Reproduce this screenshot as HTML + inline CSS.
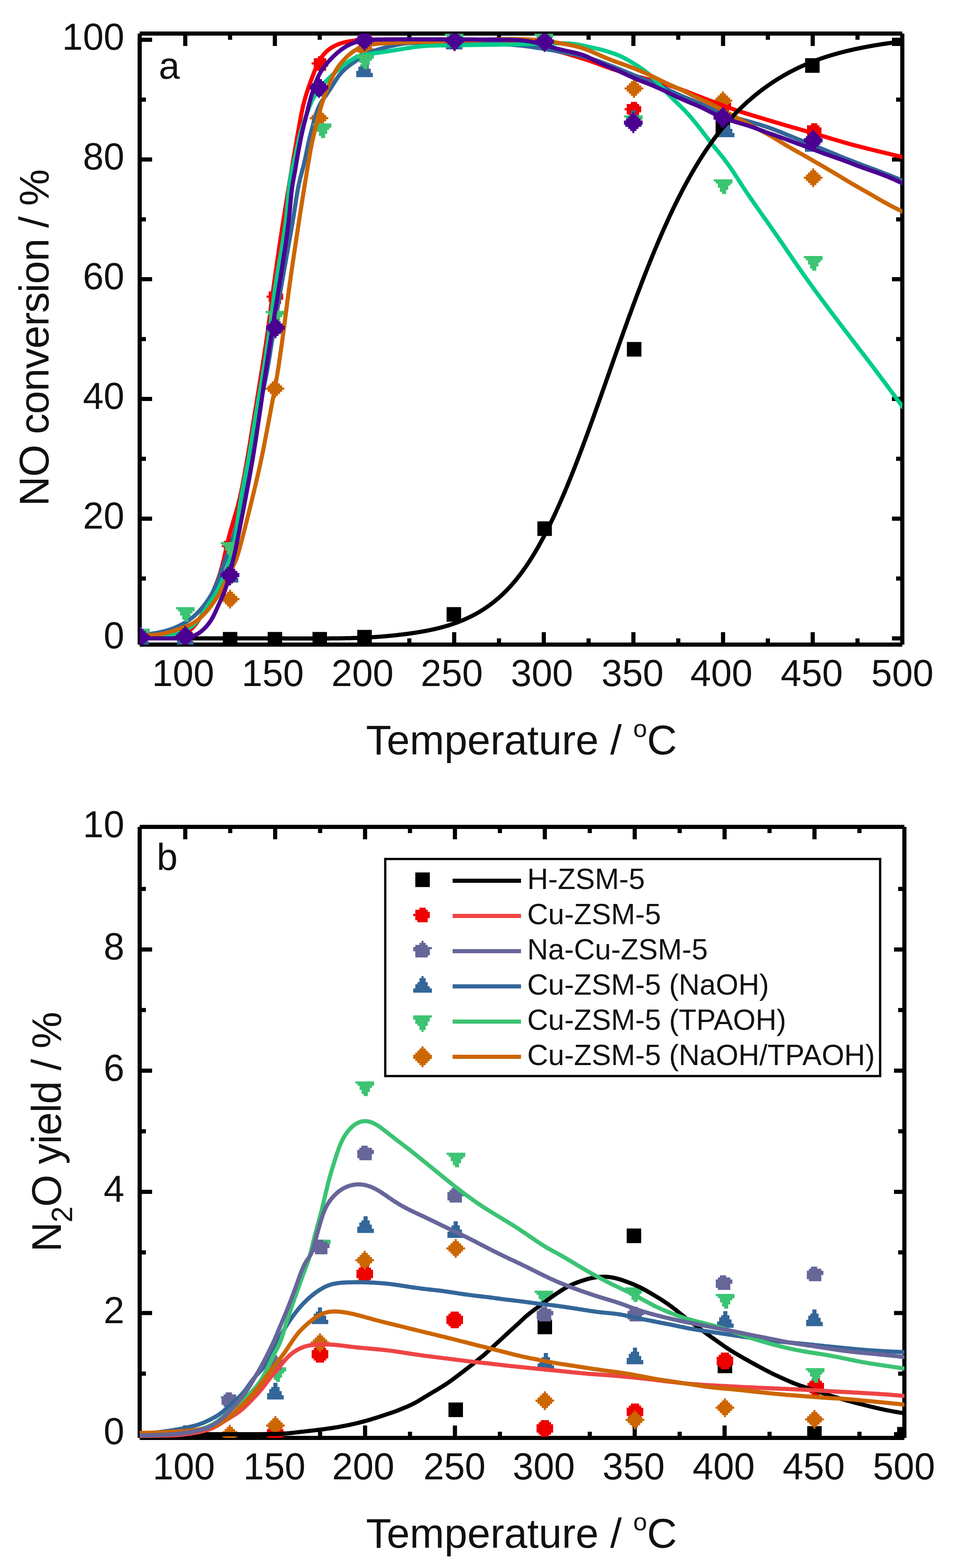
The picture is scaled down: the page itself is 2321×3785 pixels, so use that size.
<!DOCTYPE html>
<html><head><meta charset="utf-8"><style>
html,body{margin:0;padding:0;background:#fff;}
svg{display:block;}
text{font-family:'Liberation Sans', Arial, sans-serif;fill:#111;}
</style></head><body>
<svg xmlns="http://www.w3.org/2000/svg" width="2321" height="3785" viewBox="0 0 2321 3785">
<rect width="2321" height="3785" fill="#fff"/>
<rect x="332.0" y="81.0" width="10.0" height="1475.0" fill="#000"/>
<rect x="337.0" y="76.0" width="1840.0" height="10.0" fill="#000"/>
<rect x="2172.0" y="81.0" width="10.0" height="1475.0" fill="#000"/>
<rect x="337.0" y="1551.0" width="1840.0" height="10.0" fill="#000"/>
<rect x="342.0" y="1536.0" width="25.0" height="10.0" fill="#000"/>
<rect x="2152.0" y="1536.0" width="20.0" height="10.0" fill="#000"/>
<rect x="342.0" y="1391.5" width="10.0" height="10.0" fill="#000"/>
<rect x="2162.0" y="1391.5" width="10.0" height="10.0" fill="#000"/>
<rect x="342.0" y="1247.0" width="25.0" height="10.0" fill="#000"/>
<rect x="2152.0" y="1247.0" width="20.0" height="10.0" fill="#000"/>
<rect x="342.0" y="1102.5" width="10.0" height="10.0" fill="#000"/>
<rect x="2162.0" y="1102.5" width="10.0" height="10.0" fill="#000"/>
<rect x="342.0" y="958.0" width="25.0" height="10.0" fill="#000"/>
<rect x="2152.0" y="958.0" width="20.0" height="10.0" fill="#000"/>
<rect x="342.0" y="813.5" width="10.0" height="10.0" fill="#000"/>
<rect x="2162.0" y="813.5" width="10.0" height="10.0" fill="#000"/>
<rect x="342.0" y="669.0" width="25.0" height="10.0" fill="#000"/>
<rect x="2152.0" y="669.0" width="20.0" height="10.0" fill="#000"/>
<rect x="342.0" y="524.5" width="10.0" height="10.0" fill="#000"/>
<rect x="2162.0" y="524.5" width="10.0" height="10.0" fill="#000"/>
<rect x="342.0" y="380.0" width="25.0" height="10.0" fill="#000"/>
<rect x="2152.0" y="380.0" width="20.0" height="10.0" fill="#000"/>
<rect x="342.0" y="235.5" width="10.0" height="10.0" fill="#000"/>
<rect x="2162.0" y="235.5" width="10.0" height="10.0" fill="#000"/>
<rect x="342.0" y="91.0" width="25.0" height="10.0" fill="#000"/>
<rect x="2152.0" y="91.0" width="20.0" height="10.0" fill="#000"/>
<rect x="442.0" y="1526.0" width="10.0" height="25.0" fill="#000"/>
<rect x="442.0" y="86.0" width="10.0" height="25.0" fill="#000"/>
<rect x="550.1" y="1541.0" width="10.0" height="10.0" fill="#000"/>
<rect x="550.1" y="86.0" width="10.0" height="10.0" fill="#000"/>
<rect x="658.2" y="1526.0" width="10.0" height="25.0" fill="#000"/>
<rect x="658.2" y="86.0" width="10.0" height="25.0" fill="#000"/>
<rect x="766.4" y="1541.0" width="10.0" height="10.0" fill="#000"/>
<rect x="766.4" y="86.0" width="10.0" height="10.0" fill="#000"/>
<rect x="874.5" y="1526.0" width="10.0" height="25.0" fill="#000"/>
<rect x="874.5" y="86.0" width="10.0" height="25.0" fill="#000"/>
<rect x="982.6" y="1541.0" width="10.0" height="10.0" fill="#000"/>
<rect x="982.6" y="86.0" width="10.0" height="10.0" fill="#000"/>
<rect x="1090.8" y="1526.0" width="10.0" height="25.0" fill="#000"/>
<rect x="1090.8" y="86.0" width="10.0" height="25.0" fill="#000"/>
<rect x="1198.9" y="1541.0" width="10.0" height="10.0" fill="#000"/>
<rect x="1198.9" y="86.0" width="10.0" height="10.0" fill="#000"/>
<rect x="1307.0" y="1526.0" width="10.0" height="25.0" fill="#000"/>
<rect x="1307.0" y="86.0" width="10.0" height="25.0" fill="#000"/>
<rect x="1415.1" y="1541.0" width="10.0" height="10.0" fill="#000"/>
<rect x="1415.1" y="86.0" width="10.0" height="10.0" fill="#000"/>
<rect x="1523.2" y="1526.0" width="10.0" height="25.0" fill="#000"/>
<rect x="1523.2" y="86.0" width="10.0" height="25.0" fill="#000"/>
<rect x="1631.4" y="1541.0" width="10.0" height="10.0" fill="#000"/>
<rect x="1631.4" y="86.0" width="10.0" height="10.0" fill="#000"/>
<rect x="1739.5" y="1526.0" width="10.0" height="25.0" fill="#000"/>
<rect x="1739.5" y="86.0" width="10.0" height="25.0" fill="#000"/>
<rect x="1847.6" y="1541.0" width="10.0" height="10.0" fill="#000"/>
<rect x="1847.6" y="86.0" width="10.0" height="10.0" fill="#000"/>
<rect x="1955.8" y="1526.0" width="10.0" height="25.0" fill="#000"/>
<rect x="1955.8" y="86.0" width="10.0" height="25.0" fill="#000"/>
<rect x="2063.9" y="1541.0" width="10.0" height="10.0" fill="#000"/>
<rect x="2063.9" y="86.0" width="10.0" height="10.0" fill="#000"/>
<text x="300.0" y="1565.0" font-size="90" text-anchor="end" >0</text>
<text x="300.0" y="1276.0" font-size="90" text-anchor="end" >20</text>
<text x="300.0" y="987.0" font-size="90" text-anchor="end" >40</text>
<text x="300.0" y="698.0" font-size="90" text-anchor="end" >60</text>
<text x="300.0" y="409.0" font-size="90" text-anchor="end" >80</text>
<text x="300.0" y="120.0" font-size="90" text-anchor="end" >100</text>
<text x="441.8" y="1656.0" font-size="90" text-anchor="middle" >100</text>
<text x="658.1" y="1656.0" font-size="90" text-anchor="middle" >150</text>
<text x="874.6" y="1656.0" font-size="90" text-anchor="middle" >200</text>
<text x="1090.1" y="1656.0" font-size="90" text-anchor="middle" >250</text>
<text x="1307.5" y="1656.0" font-size="90" text-anchor="middle" >300</text>
<text x="1526.0" y="1656.0" font-size="90" text-anchor="middle" >350</text>
<text x="1740.6" y="1656.0" font-size="90" text-anchor="middle" >400</text>
<text x="1958.6" y="1656.0" font-size="90" text-anchor="middle" >450</text>
<text x="2177.2" y="1656.0" font-size="90" text-anchor="middle" >500</text>
<text x="383.0" y="190.0" font-size="91" text-anchor="start" >a</text>
<rect x="332.0" y="1996.0" width="10.0" height="1475.0" fill="#000"/>
<rect x="337.0" y="1991.0" width="1845.0" height="10.0" fill="#000"/>
<rect x="2177.0" y="1996.0" width="10.0" height="1475.0" fill="#000"/>
<rect x="337.0" y="3466.0" width="1845.0" height="10.0" fill="#000"/>
<rect x="342.0" y="3457.0" width="25.0" height="10.0" fill="#000"/>
<rect x="2157.0" y="3457.0" width="20.0" height="10.0" fill="#000"/>
<rect x="342.0" y="3310.8" width="10.0" height="10.0" fill="#000"/>
<rect x="2167.0" y="3310.8" width="10.0" height="10.0" fill="#000"/>
<rect x="342.0" y="3164.5" width="25.0" height="10.0" fill="#000"/>
<rect x="2157.0" y="3164.5" width="20.0" height="10.0" fill="#000"/>
<rect x="342.0" y="3018.2" width="10.0" height="10.0" fill="#000"/>
<rect x="2167.0" y="3018.2" width="10.0" height="10.0" fill="#000"/>
<rect x="342.0" y="2872.0" width="25.0" height="10.0" fill="#000"/>
<rect x="2157.0" y="2872.0" width="20.0" height="10.0" fill="#000"/>
<rect x="342.0" y="2725.8" width="10.0" height="10.0" fill="#000"/>
<rect x="2167.0" y="2725.8" width="10.0" height="10.0" fill="#000"/>
<rect x="342.0" y="2579.5" width="25.0" height="10.0" fill="#000"/>
<rect x="2157.0" y="2579.5" width="20.0" height="10.0" fill="#000"/>
<rect x="342.0" y="2433.2" width="10.0" height="10.0" fill="#000"/>
<rect x="2167.0" y="2433.2" width="10.0" height="10.0" fill="#000"/>
<rect x="342.0" y="2287.0" width="25.0" height="10.0" fill="#000"/>
<rect x="2157.0" y="2287.0" width="20.0" height="10.0" fill="#000"/>
<rect x="342.0" y="2140.8" width="10.0" height="10.0" fill="#000"/>
<rect x="2167.0" y="2140.8" width="10.0" height="10.0" fill="#000"/>
<rect x="442.0" y="3441.0" width="10.0" height="25.0" fill="#000"/>
<rect x="442.0" y="2001.0" width="10.0" height="25.0" fill="#000"/>
<rect x="550.4" y="3456.0" width="10.0" height="10.0" fill="#000"/>
<rect x="550.4" y="2001.0" width="10.0" height="10.0" fill="#000"/>
<rect x="658.9" y="3441.0" width="10.0" height="25.0" fill="#000"/>
<rect x="658.9" y="2001.0" width="10.0" height="25.0" fill="#000"/>
<rect x="767.3" y="3456.0" width="10.0" height="10.0" fill="#000"/>
<rect x="767.3" y="2001.0" width="10.0" height="10.0" fill="#000"/>
<rect x="875.8" y="3441.0" width="10.0" height="25.0" fill="#000"/>
<rect x="875.8" y="2001.0" width="10.0" height="25.0" fill="#000"/>
<rect x="984.2" y="3456.0" width="10.0" height="10.0" fill="#000"/>
<rect x="984.2" y="2001.0" width="10.0" height="10.0" fill="#000"/>
<rect x="1092.6" y="3441.0" width="10.0" height="25.0" fill="#000"/>
<rect x="1092.6" y="2001.0" width="10.0" height="25.0" fill="#000"/>
<rect x="1201.1" y="3456.0" width="10.0" height="10.0" fill="#000"/>
<rect x="1201.1" y="2001.0" width="10.0" height="10.0" fill="#000"/>
<rect x="1309.5" y="3441.0" width="10.0" height="25.0" fill="#000"/>
<rect x="1309.5" y="2001.0" width="10.0" height="25.0" fill="#000"/>
<rect x="1417.9" y="3456.0" width="10.0" height="10.0" fill="#000"/>
<rect x="1417.9" y="2001.0" width="10.0" height="10.0" fill="#000"/>
<rect x="1526.4" y="3441.0" width="10.0" height="25.0" fill="#000"/>
<rect x="1526.4" y="2001.0" width="10.0" height="25.0" fill="#000"/>
<rect x="1634.8" y="3456.0" width="10.0" height="10.0" fill="#000"/>
<rect x="1634.8" y="2001.0" width="10.0" height="10.0" fill="#000"/>
<rect x="1743.2" y="3441.0" width="10.0" height="25.0" fill="#000"/>
<rect x="1743.2" y="2001.0" width="10.0" height="25.0" fill="#000"/>
<rect x="1851.7" y="3456.0" width="10.0" height="10.0" fill="#000"/>
<rect x="1851.7" y="2001.0" width="10.0" height="10.0" fill="#000"/>
<rect x="1960.1" y="3441.0" width="10.0" height="25.0" fill="#000"/>
<rect x="1960.1" y="2001.0" width="10.0" height="25.0" fill="#000"/>
<rect x="2068.6" y="3456.0" width="10.0" height="10.0" fill="#000"/>
<rect x="2068.6" y="2001.0" width="10.0" height="10.0" fill="#000"/>
<text x="300.0" y="3486.0" font-size="90" text-anchor="end" >0</text>
<text x="300.0" y="3193.5" font-size="90" text-anchor="end" >2</text>
<text x="300.0" y="2901.0" font-size="90" text-anchor="end" >4</text>
<text x="300.0" y="2608.5" font-size="90" text-anchor="end" >6</text>
<text x="300.0" y="2316.0" font-size="90" text-anchor="end" >8</text>
<text x="300.0" y="2021.0" font-size="90" text-anchor="end" >10</text>
<text x="443.5" y="3571.0" font-size="90" text-anchor="middle" >100</text>
<text x="662.1" y="3571.0" font-size="90" text-anchor="middle" >150</text>
<text x="876.4" y="3571.0" font-size="90" text-anchor="middle" >200</text>
<text x="1096.6" y="3571.0" font-size="90" text-anchor="middle" >250</text>
<text x="1312.0" y="3571.0" font-size="90" text-anchor="middle" >300</text>
<text x="1528.7" y="3571.0" font-size="90" text-anchor="middle" >350</text>
<text x="1746.1" y="3571.0" font-size="90" text-anchor="middle" >400</text>
<text x="1963.3" y="3571.0" font-size="90" text-anchor="middle" >450</text>
<text x="2180.9" y="3571.0" font-size="90" text-anchor="middle" >500</text>
<text x="378.0" y="2100.0" font-size="91" text-anchor="start" >b</text>
<text x="883" y="1821" font-size="100" text-anchor="start">Temperature / <tspan dy="-42" font-size="60">o</tspan><tspan dy="42">C</tspan></text>
<text x="883" y="3736" font-size="100" text-anchor="start">Temperature / <tspan dy="-42" font-size="60">o</tspan><tspan dy="42">C</tspan></text>
<text transform="translate(117,1222) rotate(-90)" x="0" y="0" font-size="100" text-anchor="start" textLength="814" lengthAdjust="spacing">NO conversion / %</text>
<text transform="translate(147,3022) rotate(-90)" x="0" y="0" font-size="100" text-anchor="start" textLength="580" lengthAdjust="spacing">N<tspan dy="27" font-size="70">2</tspan><tspan dy="-27">O yield / %</tspan></text>
<defs><clipPath id="ca"><rect x="337" y="81" width="1840" height="1475"/></clipPath><clipPath id="cb"><rect x="337" y="1996" width="1845" height="1475"/></clipPath></defs>
<g clip-path="url(#ca)">
<path d="M321.4 1525.5h35.0v5.3h-35.0zM321.4 1530.5h35.0v5.3h-35.0zM321.4 1535.5h35.0v5.3h-35.0zM321.4 1540.5h35.0v5.3h-35.0zM321.4 1545.5h35.0v5.3h-35.0zM321.4 1550.5h35.0v5.3h-35.0zM321.4 1555.5h35.0v5.3h-35.0z" fill="#000"/>
<path d="M429.5 1525.5h35.0v5.3h-35.0zM429.5 1530.5h35.0v5.3h-35.0zM429.5 1535.5h35.0v5.3h-35.0zM429.5 1540.5h35.0v5.3h-35.0zM429.5 1545.5h35.0v5.3h-35.0zM429.5 1550.5h35.0v5.3h-35.0zM429.5 1555.5h35.0v5.3h-35.0z" fill="#000"/>
<path d="M537.6 1525.5h35.0v5.3h-35.0zM537.6 1530.5h35.0v5.3h-35.0zM537.6 1535.5h35.0v5.3h-35.0zM537.6 1540.5h35.0v5.3h-35.0zM537.6 1545.5h35.0v5.3h-35.0zM537.6 1550.5h35.0v5.3h-35.0zM537.6 1555.5h35.0v5.3h-35.0z" fill="#000"/>
<path d="M645.8 1525.5h35.0v5.3h-35.0zM645.8 1530.5h35.0v5.3h-35.0zM645.8 1535.5h35.0v5.3h-35.0zM645.8 1540.5h35.0v5.3h-35.0zM645.8 1545.5h35.0v5.3h-35.0zM645.8 1550.5h35.0v5.3h-35.0zM645.8 1555.5h35.0v5.3h-35.0z" fill="#000"/>
<path d="M753.9 1525.5h35.0v5.3h-35.0zM753.9 1530.5h35.0v5.3h-35.0zM753.9 1535.5h35.0v5.3h-35.0zM753.9 1540.5h35.0v5.3h-35.0zM753.9 1545.5h35.0v5.3h-35.0zM753.9 1550.5h35.0v5.3h-35.0zM753.9 1555.5h35.0v5.3h-35.0z" fill="#000"/>
<path d="M862.0 1520.5h35.0v5.3h-35.0zM862.0 1525.5h35.0v5.3h-35.0zM862.0 1530.5h35.0v5.3h-35.0zM862.0 1535.5h35.0v5.3h-35.0zM862.0 1540.5h35.0v5.3h-35.0zM862.0 1545.5h35.0v5.3h-35.0zM862.0 1550.5h35.0v5.3h-35.0z" fill="#000"/>
<path d="M1077.5 1465.5h35.0v5.3h-35.0zM1077.5 1470.5h35.0v5.3h-35.0zM1077.5 1475.5h35.0v5.3h-35.0zM1077.5 1480.5h35.0v5.3h-35.0zM1077.5 1485.5h35.0v5.3h-35.0zM1077.5 1490.5h35.0v5.3h-35.0zM1077.5 1495.5h35.0v5.3h-35.0z" fill="#000"/>
<path d="M1296.5 1258.5h35.0v5.3h-35.0zM1296.5 1263.5h35.0v5.3h-35.0zM1296.5 1268.5h35.0v5.3h-35.0zM1296.5 1273.5h35.0v5.3h-35.0zM1296.5 1278.5h35.0v5.3h-35.0zM1296.5 1283.5h35.0v5.3h-35.0zM1296.5 1288.5h35.0v5.3h-35.0z" fill="#000"/>
<path d="M1512.5 825.5h35.0v5.3h-35.0zM1512.5 830.5h35.0v5.3h-35.0zM1512.5 835.5h35.0v5.3h-35.0zM1512.5 840.5h35.0v5.3h-35.0zM1512.5 845.5h35.0v5.3h-35.0zM1512.5 850.5h35.0v5.3h-35.0zM1512.5 855.5h35.0v5.3h-35.0z" fill="#000"/>
<path d="M1726.5 288.5h35.0v5.3h-35.0zM1726.5 293.5h35.0v5.3h-35.0zM1726.5 298.5h35.0v5.3h-35.0zM1726.5 303.5h35.0v5.3h-35.0zM1726.5 308.5h35.0v5.3h-35.0zM1726.5 313.5h35.0v5.3h-35.0zM1726.5 318.5h35.0v5.3h-35.0z" fill="#000"/>
<path d="M1942.5 140.5h35.0v5.3h-35.0zM1942.5 145.5h35.0v5.3h-35.0zM1942.5 150.5h35.0v5.3h-35.0zM1942.5 155.5h35.0v5.3h-35.0zM1942.5 160.5h35.0v5.3h-35.0zM1942.5 165.5h35.0v5.3h-35.0zM1942.5 170.5h35.0v5.3h-35.0z" fill="#000"/>
</g>
<rect x="2152.0" y="91.0" width="20.0" height="20.0" fill="#000"/>
<g clip-path="url(#ca)">
<path d="M333.9 1520.5h15.0v5.3h-15.0zM323.9 1525.5h30.0v5.3h-30.0zM323.9 1530.5h35.0v5.3h-35.0zM318.9 1535.5h40.0v5.3h-40.0zM323.9 1540.5h35.0v5.3h-35.0zM323.9 1545.5h30.0v5.3h-30.0zM328.9 1550.5h25.0v5.3h-25.0z" fill="#ee0000"/>
<path d="M442.0 1518.5h15.0v5.3h-15.0zM432.0 1523.5h30.0v5.3h-30.0zM432.0 1528.5h35.0v5.3h-35.0zM427.0 1533.5h40.0v5.3h-40.0zM432.0 1538.5h35.0v5.3h-35.0zM432.0 1543.5h30.0v5.3h-30.0zM437.0 1548.5h25.0v5.3h-25.0z" fill="#ee0000"/>
<path d="M550.1 1300.5h15.0v5.3h-15.0zM540.1 1305.5h30.0v5.3h-30.0zM540.1 1310.5h35.0v5.3h-35.0zM535.1 1315.5h40.0v5.3h-40.0zM540.1 1320.5h35.0v5.3h-35.0zM540.1 1325.5h30.0v5.3h-30.0zM545.1 1330.5h25.0v5.3h-25.0z" fill="#ee0000"/>
<path d="M658.2 698.5h15.0v5.3h-15.0zM648.2 703.5h30.0v5.3h-30.0zM648.2 708.5h35.0v5.3h-35.0zM643.2 713.5h40.0v5.3h-40.0zM648.2 718.5h35.0v5.3h-35.0zM648.2 723.5h30.0v5.3h-30.0zM653.2 728.5h25.0v5.3h-25.0z" fill="#ee0000"/>
<path d="M767.0 135.5h15.0v5.3h-15.0zM757.0 140.5h30.0v5.3h-30.0zM757.0 145.5h35.0v5.3h-35.0zM752.0 150.5h40.0v5.3h-40.0zM757.0 155.5h35.0v5.3h-35.0zM757.0 160.5h30.0v5.3h-30.0zM762.0 165.5h25.0v5.3h-25.0z" fill="#ee0000"/>
<path d="M874.5 79.5h15.0v5.3h-15.0zM864.5 84.5h30.0v5.3h-30.0zM864.5 89.5h35.0v5.3h-35.0zM859.5 94.5h40.0v5.3h-40.0zM864.5 99.5h35.0v5.3h-35.0zM864.5 104.5h30.0v5.3h-30.0zM869.5 109.5h25.0v5.3h-25.0z" fill="#ee0000"/>
<path d="M1090.8 79.5h15.0v5.3h-15.0zM1080.8 84.5h30.0v5.3h-30.0zM1080.8 89.5h35.0v5.3h-35.0zM1075.8 94.5h40.0v5.3h-40.0zM1080.8 99.5h35.0v5.3h-35.0zM1080.8 104.5h30.0v5.3h-30.0zM1085.8 109.5h25.0v5.3h-25.0z" fill="#ee0000"/>
<path d="M1307.0 81.5h15.0v5.3h-15.0zM1297.0 86.5h30.0v5.3h-30.0zM1297.0 91.5h35.0v5.3h-35.0zM1292.0 96.5h40.0v5.3h-40.0zM1297.0 101.5h35.0v5.3h-35.0zM1297.0 106.5h30.0v5.3h-30.0zM1302.0 111.5h25.0v5.3h-25.0z" fill="#ee0000"/>
<path d="M1522.0 246.0h15.0v5.3h-15.0zM1512.0 251.0h30.0v5.3h-30.0zM1512.0 256.0h35.0v5.3h-35.0zM1507.0 261.0h40.0v5.3h-40.0zM1512.0 266.0h35.0v5.3h-35.0zM1512.0 271.0h30.0v5.3h-30.0zM1517.0 276.0h25.0v5.3h-25.0z" fill="#ee0000"/>
<path d="M1739.0 237.5h15.0v5.3h-15.0zM1729.0 242.5h30.0v5.3h-30.0zM1729.0 247.5h35.0v5.3h-35.0zM1724.0 252.5h40.0v5.3h-40.0zM1729.0 257.5h35.0v5.3h-35.0zM1729.0 262.5h30.0v5.3h-30.0zM1734.0 267.5h25.0v5.3h-25.0z" fill="#ee0000"/>
<path d="M1957.0 297.5h15.0v5.3h-15.0zM1947.0 302.5h30.0v5.3h-30.0zM1947.0 307.5h35.0v5.3h-35.0zM1942.0 312.5h40.0v5.3h-40.0zM1947.0 317.5h35.0v5.3h-35.0zM1947.0 322.5h30.0v5.3h-30.0zM1952.0 327.5h25.0v5.3h-25.0z" fill="#ee0000"/>
</g>
<g clip-path="url(#ca)">
<path d="M336.4 1518.5h5.0v5.3h-5.0zM331.4 1523.5h15.0v5.3h-15.0zM326.4 1528.5h25.0v5.3h-25.0zM321.4 1533.5h35.0v5.3h-35.0zM316.4 1538.5h45.0v5.3h-45.0zM321.4 1543.5h35.0v5.3h-35.0zM326.4 1548.5h25.0v5.3h-25.0zM331.4 1553.5h15.0v5.3h-15.0zM336.4 1558.5h5.0v5.3h-5.0z" fill="#cc6600"/>
<path d="M444.5 1518.5h5.0v5.3h-5.0zM439.5 1523.5h15.0v5.3h-15.0zM434.5 1528.5h25.0v5.3h-25.0zM429.5 1533.5h35.0v5.3h-35.0zM424.5 1538.5h45.0v5.3h-45.0zM429.5 1543.5h35.0v5.3h-35.0zM434.5 1548.5h25.0v5.3h-25.0zM439.5 1553.5h15.0v5.3h-15.0zM444.5 1558.5h5.0v5.3h-5.0z" fill="#cc6600"/>
<path d="M552.6 1423.5h5.0v5.3h-5.0zM547.6 1428.5h15.0v5.3h-15.0zM542.6 1433.5h25.0v5.3h-25.0zM537.6 1438.5h35.0v5.3h-35.0zM532.6 1443.5h45.0v5.3h-45.0zM537.6 1448.5h35.0v5.3h-35.0zM542.6 1453.5h25.0v5.3h-25.0zM547.6 1458.5h15.0v5.3h-15.0zM552.6 1463.5h5.0v5.3h-5.0z" fill="#cc6600"/>
<path d="M660.8 915.5h5.0v5.3h-5.0zM655.8 920.5h15.0v5.3h-15.0zM650.8 925.5h25.0v5.3h-25.0zM645.8 930.5h35.0v5.3h-35.0zM640.8 935.5h45.0v5.3h-45.0zM645.8 940.5h35.0v5.3h-35.0zM650.8 945.5h25.0v5.3h-25.0zM655.8 950.5h15.0v5.3h-15.0zM660.8 955.5h5.0v5.3h-5.0z" fill="#cc6600"/>
<path d="M767.0 262.5h5.0v5.3h-5.0zM762.0 267.5h15.0v5.3h-15.0zM757.0 272.5h25.0v5.3h-25.0zM752.0 277.5h35.0v5.3h-35.0zM747.0 282.5h45.0v5.3h-45.0zM752.0 287.5h35.0v5.3h-35.0zM757.0 292.5h25.0v5.3h-25.0zM762.0 297.5h15.0v5.3h-15.0zM767.0 302.5h5.0v5.3h-5.0z" fill="#cc6600"/>
<path d="M877.0 96.5h5.0v5.3h-5.0zM872.0 101.5h15.0v5.3h-15.0zM867.0 106.5h25.0v5.3h-25.0zM862.0 111.5h35.0v5.3h-35.0zM857.0 116.5h45.0v5.3h-45.0zM862.0 121.5h35.0v5.3h-35.0zM867.0 126.5h25.0v5.3h-25.0zM872.0 131.5h15.0v5.3h-15.0zM877.0 136.5h5.0v5.3h-5.0z" fill="#cc6600"/>
<path d="M1093.2 77.5h5.0v5.3h-5.0zM1088.2 82.5h15.0v5.3h-15.0zM1083.2 87.5h25.0v5.3h-25.0zM1078.2 92.5h35.0v5.3h-35.0zM1073.2 97.5h45.0v5.3h-45.0zM1078.2 102.5h35.0v5.3h-35.0zM1083.2 107.5h25.0v5.3h-25.0zM1088.2 112.5h15.0v5.3h-15.0zM1093.2 117.5h5.0v5.3h-5.0z" fill="#cc6600"/>
<path d="M1309.5 76.5h5.0v5.3h-5.0zM1304.5 81.5h15.0v5.3h-15.0zM1299.5 86.5h25.0v5.3h-25.0zM1294.5 91.5h35.0v5.3h-35.0zM1289.5 96.5h45.0v5.3h-45.0zM1294.5 101.5h35.0v5.3h-35.0zM1299.5 106.5h25.0v5.3h-25.0zM1304.5 111.5h15.0v5.3h-15.0zM1309.5 116.5h5.0v5.3h-5.0z" fill="#cc6600"/>
<path d="M1527.0 191.0h5.0v5.3h-5.0zM1522.0 196.0h15.0v5.3h-15.0zM1517.0 201.0h25.0v5.3h-25.0zM1512.0 206.0h35.0v5.3h-35.0zM1507.0 211.0h45.0v5.3h-45.0zM1512.0 216.0h35.0v5.3h-35.0zM1517.0 221.0h25.0v5.3h-25.0zM1522.0 226.0h15.0v5.3h-15.0zM1527.0 231.0h5.0v5.3h-5.0z" fill="#cc6600"/>
<path d="M1741.5 220.5h5.0v5.3h-5.0zM1736.5 225.5h15.0v5.3h-15.0zM1731.5 230.5h25.0v5.3h-25.0zM1726.5 235.5h35.0v5.3h-35.0zM1721.5 240.5h45.0v5.3h-45.0zM1726.5 245.5h35.0v5.3h-35.0zM1731.5 250.5h25.0v5.3h-25.0zM1736.5 255.5h15.0v5.3h-15.0zM1741.5 260.5h5.0v5.3h-5.0z" fill="#cc6600"/>
<path d="M1959.5 406.5h5.0v5.3h-5.0zM1954.5 411.5h15.0v5.3h-15.0zM1949.5 416.5h25.0v5.3h-25.0zM1944.5 421.5h35.0v5.3h-35.0zM1939.5 426.5h45.0v5.3h-45.0zM1944.5 431.5h35.0v5.3h-35.0zM1949.5 436.5h25.0v5.3h-25.0zM1954.5 441.5h15.0v5.3h-15.0zM1959.5 446.5h5.0v5.3h-5.0z" fill="#cc6600"/>
</g>
<path d="M337.0,1539.0 L341.0,1539.0 L345.0,1538.9 L349.0,1538.9 L353.0,1538.9 L357.0,1538.8 L361.0,1538.8 L365.0,1538.7 L369.0,1538.6 L373.0,1538.5 L377.0,1538.5 L381.0,1538.4 L385.0,1538.2 L389.1,1538.1 L393.1,1538.0 L397.0,1537.8 L401.0,1537.6 L405.0,1537.4 L409.0,1537.1 L413.0,1536.8 L416.9,1536.3 L420.9,1535.8 L424.8,1535.2 L428.7,1534.5 L432.5,1533.6 L436.2,1532.5 L439.9,1531.3 L443.5,1529.9 L447.0,1528.3 L450.4,1526.5 L453.7,1524.4 L456.9,1522.2 L459.9,1519.8 L462.8,1517.2 L465.6,1514.5 L468.2,1511.6 L470.7,1508.6 L473.2,1505.5 L475.5,1502.3 L477.7,1499.0 L479.9,1495.7 L482.0,1492.3 L484.1,1488.9 L486.1,1485.5 L488.1,1482.0 L490.1,1478.5 L492.0,1475.0 L494.0,1471.5 L495.9,1468.0 L497.7,1464.5 L499.5,1460.9 L501.3,1457.3 L503.1,1453.7 L504.8,1450.1 L506.4,1446.5 L508.1,1442.8 L509.6,1439.2 L511.2,1435.5 L512.7,1431.8 L514.2,1428.1 L515.7,1424.4 L517.2,1420.7 L518.7,1417.0 L520.2,1413.3 L521.7,1409.6 L523.2,1405.8 L524.6,1402.1 L526.0,1398.4 L527.4,1394.6 L528.7,1390.9 L529.9,1387.1 L531.1,1383.3 L532.3,1379.4 L533.4,1375.6 L534.5,1371.7 L535.5,1367.9 L536.5,1364.0 L537.5,1360.1 L538.5,1356.2 L539.4,1352.3 L540.4,1348.5 L541.3,1344.6 L542.2,1340.7 L543.1,1336.7 L543.9,1332.8 L544.8,1328.9 L545.6,1325.0 L546.5,1321.1 L547.4,1317.2 L548.3,1313.3 L549.2,1309.4 L550.1,1305.5 L551.0,1301.6 L552.0,1297.7 L553.0,1293.9 L554.0,1290.0 L555.1,1286.1 L556.1,1282.3 L557.2,1278.4 L558.3,1274.5 L559.4,1270.7 L560.5,1266.8 L561.6,1263.0 L562.7,1259.2 L563.9,1255.3 L565.0,1251.5 L566.1,1247.6 L567.3,1243.8 L568.4,1240.0 L569.6,1236.1 L570.7,1232.3 L571.8,1228.4 L572.8,1224.6 L573.9,1220.7 L574.9,1216.8 L575.9,1213.0 L576.9,1209.1 L577.8,1205.2 L578.8,1201.3 L579.7,1197.4 L580.5,1193.5 L581.4,1189.6 L582.2,1185.7 L583.0,1181.7 L583.8,1177.8 L584.6,1173.9 L585.4,1170.0 L586.1,1166.0 L586.9,1162.1 L587.6,1158.2 L588.3,1154.2 L589.1,1150.3 L589.8,1146.3 L590.5,1142.4 L591.2,1138.5 L591.9,1134.5 L592.6,1130.6 L593.3,1126.6 L594.0,1122.7 L594.7,1118.7 L595.4,1114.8 L596.1,1110.9 L596.8,1106.9 L597.5,1103.0 L598.2,1099.0 L598.8,1095.1 L599.5,1091.1 L600.2,1087.2 L600.9,1083.2 L601.5,1079.3 L602.2,1075.3 L602.8,1071.4 L603.5,1067.4 L604.1,1063.5 L604.8,1059.5 L605.4,1055.6 L606.0,1051.6 L606.7,1047.6 L607.3,1043.7 L607.9,1039.7 L608.6,1035.8 L609.2,1031.8 L609.8,1027.9 L610.5,1023.9 L611.1,1020.0 L611.7,1016.0 L612.4,1012.1 L613.0,1008.1 L613.7,1004.2 L614.3,1000.2 L615.0,996.2 L615.6,992.3 L616.3,988.3 L616.9,984.4 L617.6,980.4 L618.2,976.5 L618.9,972.5 L619.5,968.6 L620.2,964.6 L620.8,960.7 L621.5,956.7 L622.1,952.8 L622.8,948.8 L623.4,944.9 L624.1,940.9 L624.7,937.0 L625.3,933.0 L626.0,929.1 L626.6,925.1 L627.3,921.2 L627.9,917.2 L628.5,913.3 L629.2,909.3 L629.8,905.3 L630.4,901.4 L631.1,897.4 L631.7,893.5 L632.3,889.5 L633.0,885.6 L633.6,881.6 L634.2,877.7 L634.8,873.7 L635.5,869.7 L636.1,865.8 L636.7,861.8 L637.3,857.9 L637.9,853.9 L638.5,850.0 L639.2,846.0 L639.8,842.0 L640.4,838.1 L641.0,834.1 L641.6,830.2 L642.1,826.2 L642.7,822.2 L643.3,818.3 L643.9,814.3 L644.5,810.4 L645.0,806.4 L645.6,802.4 L646.1,798.5 L646.7,794.5 L647.2,790.5 L647.8,786.6 L648.3,782.6 L648.8,778.6 L649.4,774.6 L649.9,770.7 L650.4,766.7 L650.9,762.7 L651.4,758.8 L651.9,754.8 L652.4,750.8 L652.9,746.8 L653.4,742.9 L653.9,738.9 L654.5,734.9 L655.0,730.9 L655.5,727.0 L656.0,723.0 L656.5,719.0 L657.0,715.1 L657.6,711.1 L658.1,707.1 L658.6,703.2 L659.2,699.2 L659.7,695.2 L660.2,691.2 L660.8,687.3 L661.3,683.3 L661.9,679.3 L662.4,675.4 L663.0,671.4 L663.6,667.4 L664.1,663.5 L664.7,659.5 L665.2,655.6 L665.8,651.6 L666.4,647.6 L667.0,643.7 L667.5,639.7 L668.1,635.7 L668.7,631.8 L669.3,627.8 L669.8,623.8 L670.4,619.9 L671.0,615.9 L671.6,612.0 L672.2,608.0 L672.7,604.0 L673.3,600.1 L673.9,596.1 L674.5,592.1 L675.1,588.2 L675.7,584.2 L676.3,580.3 L676.9,576.3 L677.5,572.3 L678.1,568.4 L678.7,564.4 L679.3,560.5 L679.9,556.5 L680.5,552.6 L681.1,548.6 L681.7,544.6 L682.4,540.7 L683.0,536.7 L683.6,532.8 L684.2,528.8 L684.8,524.8 L685.4,520.9 L686.1,516.9 L686.7,513.0 L687.3,509.0 L687.9,505.1 L688.6,501.1 L689.2,497.2 L689.8,493.2 L690.5,489.3 L691.1,485.3 L691.8,481.3 L692.4,477.4 L693.0,473.4 L693.7,469.5 L694.3,465.5 L695.0,461.6 L695.6,457.6 L696.3,453.7 L696.9,449.7 L697.6,445.8 L698.2,441.8 L698.9,437.9 L699.5,433.9 L700.2,430.0 L700.9,426.0 L701.5,422.1 L702.2,418.1 L702.9,414.2 L703.5,410.2 L704.2,406.3 L704.8,402.3 L705.5,398.4 L706.2,394.4 L706.8,390.5 L707.5,386.5 L708.2,382.6 L708.8,378.6 L709.5,374.7 L710.2,370.7 L710.9,366.8 L711.5,362.8 L712.2,358.9 L712.9,354.9 L713.5,351.0 L714.2,347.0 L714.9,343.1 L715.6,339.1 L716.2,335.2 L716.9,331.3 L717.6,327.3 L718.3,323.4 L719.0,319.4 L719.7,315.5 L720.4,311.5 L721.1,307.6 L721.8,303.6 L722.5,299.7 L723.2,295.8 L723.9,291.8 L724.7,287.9 L725.4,284.0 L726.2,280.0 L726.9,276.1 L727.7,272.2 L728.5,268.2 L729.4,264.3 L730.2,260.4 L731.1,256.5 L732.0,252.6 L733.0,248.7 L734.0,244.9 L735.1,241.0 L736.1,237.2 L737.3,233.3 L738.4,229.5 L739.6,225.7 L740.8,221.8 L742.0,218.0 L743.3,214.2 L744.6,210.5 L745.9,206.7 L747.3,202.9 L748.6,199.1 L750.0,195.4 L751.4,191.6 L752.8,187.9 L754.2,184.1 L755.6,180.4 L757.0,176.6 L758.5,172.9 L759.9,169.2 L761.5,165.5 L763.0,161.8 L764.6,158.2 L766.3,154.6 L768.1,151.0 L770.0,147.6 L771.9,144.1 L774.0,140.8 L776.3,137.5 L778.6,134.4 L781.1,131.3 L783.7,128.4 L786.4,125.6 L789.3,122.9 L792.3,120.4 L795.4,118.0 L798.6,115.8 L801.9,113.7 L805.4,111.8 L808.9,110.0 L812.5,108.4 L816.1,106.9 L819.8,105.5 L823.6,104.3 L827.4,103.2 L831.2,102.2 L835.1,101.3 L839.0,100.5 L842.9,99.8 L846.8,99.1 L850.8,98.6 L854.8,98.1 L858.7,97.7 L862.7,97.3 L866.7,97.0 L870.7,96.8 L874.7,96.5 L878.7,96.3 L882.7,96.2 L886.7,96.1 L890.7,95.9 L894.7,95.8 L898.7,95.8 L902.7,95.7 L906.7,95.6 L910.7,95.6 L914.7,95.5 L918.7,95.5 L922.7,95.4 L926.7,95.4 L930.7,95.3 L934.7,95.3 L938.7,95.3 L942.7,95.2 L946.7,95.2 L950.7,95.2 L954.8,95.2 L958.8,95.1 L962.8,95.1 L966.8,95.1 L970.8,95.1 L974.8,95.1 L978.8,95.0 L982.8,95.0 L986.8,95.0 L990.8,95.0 L994.8,95.0 L998.8,95.0 L1002.8,95.0 L1006.8,95.0 L1010.8,95.0 L1014.8,95.0 L1018.8,95.0 L1022.8,95.0 L1026.8,95.0 L1030.8,95.1 L1034.9,95.1 L1038.9,95.1 L1042.9,95.1 L1046.9,95.1 L1050.9,95.1 L1054.9,95.2 L1058.9,95.2 L1062.9,95.2 L1066.9,95.2 L1070.9,95.3 L1074.9,95.3 L1078.9,95.3 L1082.9,95.3 L1086.9,95.4 L1090.9,95.4 L1094.9,95.4 L1098.9,95.5 L1102.9,95.5 L1106.9,95.6 L1110.9,95.6 L1114.9,95.7 L1119.0,95.7 L1123.0,95.7 L1127.0,95.8 L1131.0,95.8 L1135.0,95.9 L1139.0,96.0 L1143.0,96.0 L1147.0,96.1 L1151.0,96.1 L1155.0,96.2 L1159.0,96.3 L1163.0,96.3 L1167.0,96.4 L1171.0,96.5 L1175.0,96.5 L1179.0,96.6 L1183.0,96.7 L1187.0,96.8 L1191.0,96.9 L1195.0,97.1 L1199.0,97.2 L1203.0,97.4 L1207.0,97.6 L1211.0,97.8 L1215.0,98.0 L1219.0,98.3 L1223.0,98.6 L1227.0,99.0 L1231.0,99.3 L1235.0,99.7 L1238.9,100.2 L1242.9,100.7 L1246.9,101.2 L1250.8,101.7 L1254.8,102.2 L1258.8,102.8 L1262.7,103.5 L1266.7,104.1 L1270.6,104.8 L1274.5,105.6 L1278.4,106.3 L1282.4,107.2 L1286.3,108.1 L1290.1,109.0 L1294.0,110.0 L1297.9,111.0 L1301.7,112.1 L1305.6,113.1 L1309.4,114.2 L1313.3,115.3 L1317.1,116.4 L1321.0,117.4 L1324.9,118.5 L1328.7,119.5 L1332.6,120.5 L1336.5,121.5 L1340.4,122.5 L1344.3,123.4 L1348.1,124.4 L1352.0,125.4 L1355.9,126.4 L1359.7,127.5 L1363.6,128.5 L1367.5,129.6 L1371.3,130.7 L1375.1,131.9 L1379.0,133.1 L1382.8,134.2 L1386.6,135.4 L1390.4,136.6 L1394.2,137.8 L1398.1,139.0 L1401.9,140.2 L1405.7,141.4 L1409.5,142.6 L1413.3,143.8 L1417.1,145.0 L1420.9,146.3 L1424.7,147.6 L1428.5,148.9 L1432.3,150.3 L1436.0,151.6 L1439.8,153.0 L1443.6,154.4 L1447.3,155.7 L1451.1,157.1 L1454.8,158.5 L1458.6,159.9 L1462.4,161.2 L1466.1,162.5 L1469.9,163.9 L1473.7,165.2 L1477.5,166.5 L1481.3,167.8 L1485.1,169.0 L1488.9,170.3 L1492.7,171.5 L1496.5,172.7 L1500.3,173.9 L1504.2,175.1 L1508.0,176.3 L1511.8,177.5 L1515.7,178.6 L1519.5,179.8 L1523.3,180.9 L1527.2,182.0 L1531.0,183.1 L1534.9,184.1 L1538.8,185.2 L1542.6,186.2 L1546.5,187.2 L1550.4,188.2 L1554.3,189.2 L1558.2,190.2 L1562.0,191.2 L1565.9,192.1 L1569.8,193.1 L1573.7,194.1 L1577.6,195.1 L1581.4,196.1 L1585.3,197.2 L1589.2,198.2 L1593.0,199.3 L1596.9,200.4 L1600.7,201.6 L1604.5,202.7 L1608.3,203.9 L1612.2,205.1 L1616.0,206.4 L1619.7,207.7 L1623.5,209.0 L1627.3,210.3 L1631.1,211.7 L1634.8,213.0 L1638.6,214.4 L1642.4,215.8 L1646.1,217.2 L1649.9,218.6 L1653.6,220.0 L1657.3,221.5 L1661.1,222.9 L1664.8,224.4 L1668.5,225.8 L1672.3,227.3 L1676.0,228.7 L1679.7,230.2 L1683.5,231.6 L1687.2,233.1 L1690.9,234.5 L1694.7,235.9 L1698.4,237.4 L1702.2,238.8 L1705.9,240.2 L1709.6,241.6 L1713.4,243.1 L1717.1,244.5 L1720.9,245.9 L1724.6,247.3 L1728.4,248.7 L1732.1,250.1 L1735.9,251.5 L1739.6,252.9 L1743.4,254.3 L1747.1,255.7 L1750.9,257.1 L1754.7,258.5 L1758.4,259.9 L1762.2,261.2 L1766.0,262.6 L1769.7,263.9 L1773.5,265.2 L1777.3,266.5 L1781.1,267.8 L1784.9,269.1 L1788.7,270.3 L1792.5,271.5 L1796.3,272.8 L1800.1,273.9 L1804.0,275.1 L1807.8,276.3 L1811.6,277.4 L1815.5,278.6 L1819.3,279.7 L1823.2,280.9 L1827.0,282.0 L1830.8,283.1 L1834.7,284.3 L1838.5,285.4 L1842.3,286.6 L1846.2,287.7 L1850.0,288.9 L1853.8,290.1 L1857.7,291.2 L1861.5,292.4 L1865.3,293.5 L1869.2,294.7 L1873.0,295.9 L1876.8,297.0 L1880.7,298.1 L1884.5,299.3 L1888.4,300.4 L1892.2,301.5 L1896.1,302.7 L1899.9,303.8 L1903.8,304.9 L1907.6,306.0 L1911.5,307.1 L1915.3,308.2 L1919.2,309.3 L1923.0,310.4 L1926.9,311.4 L1930.7,312.5 L1934.6,313.6 L1938.4,314.7 L1942.3,315.9 L1946.1,317.0 L1950.0,318.1 L1953.8,319.2 L1957.6,320.3 L1961.5,321.5 L1965.3,322.6 L1969.2,323.7 L1973.0,324.9 L1976.9,326.0 L1980.7,327.2 L1984.5,328.3 L1988.4,329.4 L1992.2,330.6 L1996.0,331.7 L1999.9,332.9 L2003.7,334.0 L2007.5,335.2 L2011.4,336.3 L2015.2,337.5 L2019.1,338.6 L2022.9,339.8 L2026.7,340.9 L2030.6,342.0 L2034.4,343.1 L2038.3,344.3 L2042.1,345.4 L2046.0,346.4 L2049.8,347.5 L2053.7,348.6 L2057.6,349.6 L2061.4,350.7 L2065.3,351.7 L2069.2,352.7 L2073.1,353.7 L2076.9,354.7 L2080.8,355.7 L2084.7,356.7 L2088.6,357.7 L2092.5,358.6 L2096.4,359.6 L2100.2,360.5 L2104.1,361.5 L2108.0,362.5 L2111.9,363.4 L2115.8,364.4 L2119.7,365.3 L2123.6,366.2 L2127.5,367.2 L2131.4,368.1 L2135.3,369.1 L2139.2,370.0 L2143.1,370.9 L2146.9,371.9 L2150.8,372.8 L2154.7,373.8 L2158.6,374.7 L2162.5,375.7 L2166.4,376.6 L2170.3,377.6 L2174.2,378.6 L2178.1,379.5 L2180.0,380.0" fill="none" stroke="#ff0000" stroke-width="10" stroke-linejoin="round" clip-path="url(#ca)"/>
<path d="M337.0,1533.0 L341.0,1532.6 L345.0,1532.2 L348.9,1531.8 L352.9,1531.4 L356.9,1530.9 L360.9,1530.4 L364.8,1529.9 L368.8,1529.3 L372.7,1528.7 L376.7,1528.0 L380.6,1527.3 L384.5,1526.5 L388.4,1525.7 L392.3,1524.8 L396.2,1523.8 L400.0,1522.8 L403.9,1521.6 L407.7,1520.5 L411.4,1519.2 L415.2,1517.9 L418.9,1516.4 L422.6,1514.9 L426.3,1513.3 L429.9,1511.7 L433.4,1509.9 L437.0,1508.1 L440.5,1506.2 L443.9,1504.2 L447.4,1502.2 L450.7,1500.1 L454.0,1497.9 L457.3,1495.6 L460.5,1493.3 L463.7,1490.9 L466.7,1488.4 L469.8,1485.8 L472.7,1483.1 L475.6,1480.4 L478.4,1477.5 L481.1,1474.7 L483.8,1471.7 L486.4,1468.7 L489.0,1465.7 L491.5,1462.5 L493.9,1459.4 L496.3,1456.2 L498.6,1452.9 L500.9,1449.6 L503.1,1446.3 L505.3,1443.0 L507.4,1439.6 L509.4,1436.2 L511.4,1432.7 L513.3,1429.2 L515.2,1425.7 L516.9,1422.1 L518.7,1418.5 L520.3,1414.9 L521.9,1411.2 L523.4,1407.5 L524.9,1403.8 L526.4,1400.1 L527.8,1396.4 L529.2,1392.6 L530.5,1388.9 L531.8,1385.1 L533.1,1381.3 L534.4,1377.5 L535.7,1373.7 L537.0,1369.9 L538.3,1366.2 L539.7,1362.4 L541.0,1358.6 L542.4,1354.9 L543.8,1351.1 L545.2,1347.4 L546.6,1343.6 L548.0,1339.9 L549.4,1336.2 L550.9,1332.4 L552.2,1328.7 L553.6,1324.9 L554.9,1321.1 L556.2,1317.4 L557.5,1313.6 L558.7,1309.8 L559.9,1305.9 L561.1,1302.1 L562.2,1298.3 L563.4,1294.4 L564.5,1290.6 L565.6,1286.7 L566.6,1282.9 L567.7,1279.0 L568.8,1275.2 L569.8,1271.3 L570.8,1267.4 L571.9,1263.6 L572.9,1259.7 L573.9,1255.8 L574.9,1251.9 L575.9,1248.1 L576.8,1244.2 L577.8,1240.3 L578.7,1236.4 L579.7,1232.5 L580.6,1228.6 L581.5,1224.7 L582.4,1220.8 L583.3,1216.9 L584.2,1213.0 L585.1,1209.1 L585.9,1205.2 L586.8,1201.3 L587.6,1197.4 L588.5,1193.5 L589.3,1189.5 L590.1,1185.6 L590.9,1181.7 L591.7,1177.8 L592.4,1173.8 L593.2,1169.9 L594.0,1166.0 L594.7,1162.0 L595.5,1158.1 L596.2,1154.2 L597.0,1150.2 L597.7,1146.3 L598.4,1142.4 L599.1,1138.4 L599.9,1134.5 L600.6,1130.6 L601.3,1126.6 L602.0,1122.7 L602.7,1118.7 L603.4,1114.8 L604.1,1110.9 L604.8,1106.9 L605.5,1103.0 L606.1,1099.0 L606.8,1095.1 L607.5,1091.1 L608.1,1087.2 L608.8,1083.2 L609.4,1079.3 L610.0,1075.3 L610.7,1071.4 L611.3,1067.4 L611.9,1063.5 L612.6,1059.5 L613.2,1055.5 L613.8,1051.6 L614.4,1047.6 L615.1,1043.7 L615.7,1039.7 L616.3,1035.8 L617.0,1031.8 L617.6,1027.9 L618.3,1023.9 L619.0,1020.0 L619.6,1016.0 L620.3,1012.1 L621.0,1008.2 L621.8,1004.2 L622.5,1000.3 L623.2,996.3 L624.0,992.4 L624.8,988.5 L625.6,984.6 L626.4,980.6 L627.2,976.7 L628.0,972.8 L628.9,968.9 L629.7,965.0 L630.6,961.1 L631.4,957.2 L632.3,953.3 L633.2,949.3 L634.0,945.4 L634.9,941.5 L635.7,937.6 L636.6,933.7 L637.4,929.8 L638.3,925.9 L639.1,922.0 L639.9,918.0 L640.7,914.1 L641.5,910.2 L642.3,906.3 L643.0,902.3 L643.8,898.4 L644.5,894.5 L645.2,890.5 L645.9,886.6 L646.6,882.6 L647.3,878.7 L648.0,874.8 L648.6,870.8 L649.3,866.9 L649.9,862.9 L650.6,859.0 L651.2,855.0 L651.8,851.0 L652.5,847.1 L653.1,843.1 L653.7,839.2 L654.4,835.2 L655.0,831.3 L655.6,827.3 L656.3,823.4 L656.9,819.4 L657.5,815.5 L658.2,811.5 L658.8,807.6 L659.4,803.6 L660.1,799.7 L660.7,795.7 L661.4,791.8 L662.1,787.8 L662.7,783.9 L663.4,779.9 L664.0,776.0 L664.7,772.0 L665.4,768.1 L666.0,764.1 L666.7,760.2 L667.4,756.2 L668.0,752.3 L668.7,748.3 L669.4,744.4 L670.1,740.4 L670.7,736.5 L671.4,732.5 L672.1,728.6 L672.8,724.7 L673.4,720.7 L674.1,716.8 L674.8,712.8 L675.5,708.9 L676.2,704.9 L676.8,701.0 L677.5,697.0 L678.2,693.1 L678.9,689.1 L679.6,685.2 L680.3,681.3 L681.0,677.3 L681.7,673.4 L682.4,669.4 L683.1,665.5 L683.8,661.5 L684.5,657.6 L685.2,653.7 L685.9,649.7 L686.6,645.8 L687.3,641.8 L688.0,637.9 L688.7,634.0 L689.4,630.0 L690.1,626.1 L690.8,622.1 L691.5,618.2 L692.2,614.3 L692.9,610.3 L693.6,606.4 L694.3,602.4 L695.0,598.5 L695.7,594.5 L696.4,590.6 L697.1,586.7 L697.8,582.7 L698.5,578.8 L699.2,574.8 L699.9,570.9 L700.6,566.9 L701.3,563.0 L702.0,559.1 L702.7,555.1 L703.3,551.2 L704.0,547.2 L704.7,543.3 L705.4,539.3 L706.0,535.4 L706.7,531.4 L707.3,527.5 L708.0,523.5 L708.6,519.6 L709.2,515.6 L709.9,511.7 L710.5,507.7 L711.1,503.8 L711.7,499.8 L712.3,495.8 L712.9,491.9 L713.5,487.9 L714.1,484.0 L714.7,480.0 L715.4,476.1 L716.0,472.1 L716.7,468.2 L717.3,464.2 L718.0,460.3 L718.7,456.3 L719.5,452.4 L720.3,448.5 L721.1,444.6 L722.0,440.7 L722.9,436.8 L723.8,432.9 L724.8,429.0 L725.8,425.1 L726.8,421.3 L727.8,417.4 L728.8,413.5 L729.8,409.7 L730.8,405.8 L731.8,401.9 L732.8,398.0 L733.7,394.1 L734.6,390.2 L735.5,386.3 L736.3,382.4 L737.2,378.5 L738.0,374.6 L738.8,370.7 L739.6,366.7 L740.4,362.8 L741.2,358.9 L742.0,355.0 L742.8,351.1 L743.7,347.2 L744.5,343.2 L745.4,339.3 L746.3,335.5 L747.3,331.6 L748.2,327.7 L749.2,323.8 L750.3,320.0 L751.3,316.1 L752.3,312.2 L753.4,308.4 L754.4,304.5 L755.5,300.6 L756.5,296.8 L757.5,292.9 L758.6,289.1 L759.7,285.2 L760.8,281.4 L761.9,277.5 L763.1,273.7 L764.4,270.0 L765.7,266.3 L767.2,262.6 L768.8,259.0 L770.4,255.4 L772.3,251.9 L774.2,248.5 L776.2,245.1 L778.4,241.8 L780.6,238.5 L782.8,235.2 L785.1,231.9 L787.4,228.7 L789.7,225.4 L791.9,222.1 L794.2,218.8 L796.3,215.5 L798.5,212.1 L800.6,208.8 L802.8,205.4 L804.9,202.0 L807.0,198.6 L809.1,195.2 L811.3,191.9 L813.5,188.6 L815.8,185.3 L818.1,182.2 L820.6,179.1 L823.1,176.1 L825.8,173.2 L828.6,170.4 L831.4,167.6 L834.4,165.0 L837.4,162.5 L840.5,160.0 L843.7,157.6 L846.9,155.3 L850.2,152.9 L853.5,150.7 L856.8,148.4 L860.1,146.2 L863.4,144.0 L866.8,141.9 L870.2,139.7 L873.6,137.6 L877.0,135.6 L880.4,133.6 L883.9,131.6 L887.4,129.7 L891.0,127.9 L894.5,126.2 L898.2,124.7 L901.8,123.2 L905.6,121.8 L909.3,120.5 L913.1,119.3 L916.9,118.2 L920.8,117.1 L924.6,116.1 L928.5,115.1 L932.4,114.1 L936.2,113.1 L940.1,112.2 L944.0,111.2 L947.9,110.3 L951.8,109.4 L955.7,108.6 L959.6,107.7 L963.5,107.0 L967.4,106.3 L971.4,105.6 L975.3,105.1 L979.3,104.6 L983.2,104.2 L987.2,104.0 L991.2,103.7 L995.2,103.6 L999.2,103.5 L1003.1,103.5 L1007.1,103.5 L1011.1,103.6 L1015.1,103.7 L1019.1,103.7 L1023.1,103.8 L1027.1,103.9 L1031.1,104.1 L1035.1,104.2 L1039.2,104.3 L1043.2,104.4 L1047.2,104.5 L1051.2,104.6 L1055.2,104.6 L1059.2,104.7 L1063.2,104.8 L1067.2,104.8 L1071.2,104.8 L1075.2,104.8 L1079.2,104.8 L1083.2,104.8 L1087.2,104.7 L1091.2,104.7 L1095.2,104.6 L1099.2,104.5 L1103.2,104.4 L1107.2,104.4 L1111.2,104.3 L1115.2,104.2 L1119.2,104.1 L1123.2,104.0 L1127.2,103.9 L1131.2,103.9 L1135.2,103.8 L1139.2,103.8 L1143.2,103.7 L1147.2,103.7 L1151.2,103.8 L1155.2,103.8 L1159.2,103.9 L1163.2,104.0 L1167.2,104.1 L1171.2,104.2 L1175.2,104.4 L1179.2,104.5 L1183.2,104.7 L1187.2,104.9 L1191.2,105.1 L1195.2,105.4 L1199.2,105.6 L1203.2,105.8 L1207.2,106.1 L1211.2,106.3 L1215.2,106.6 L1219.2,106.9 L1223.2,107.2 L1227.2,107.5 L1231.2,107.8 L1235.2,108.1 L1239.1,108.4 L1243.1,108.8 L1247.1,109.2 L1251.1,109.5 L1255.1,109.9 L1259.1,110.4 L1263.0,110.8 L1267.0,111.3 L1271.0,111.8 L1275.0,112.3 L1278.9,112.9 L1282.9,113.4 L1286.8,114.0 L1290.8,114.6 L1294.8,115.2 L1298.7,115.7 L1302.7,116.4 L1306.6,117.0 L1310.6,117.6 L1314.5,118.2 L1318.5,118.9 L1322.4,119.5 L1326.4,120.2 L1330.3,120.9 L1334.3,121.6 L1338.2,122.3 L1342.1,123.0 L1346.1,123.7 L1350.0,124.5 L1354.0,125.2 L1357.9,125.9 L1361.8,126.6 L1365.8,127.4 L1369.7,128.1 L1373.6,128.9 L1377.6,129.6 L1381.5,130.4 L1385.4,131.2 L1389.3,132.0 L1393.2,132.9 L1397.1,133.8 L1401.0,134.7 L1404.9,135.7 L1408.8,136.7 L1412.6,137.7 L1416.5,138.8 L1420.3,139.9 L1424.2,141.1 L1428.0,142.2 L1431.8,143.5 L1435.6,144.7 L1439.4,146.0 L1443.2,147.3 L1446.9,148.6 L1450.7,150.0 L1454.5,151.4 L1458.2,152.8 L1462.0,154.2 L1465.7,155.6 L1469.4,157.0 L1473.2,158.5 L1476.9,160.0 L1480.6,161.4 L1484.3,162.9 L1488.0,164.4 L1491.7,165.9 L1495.5,167.4 L1499.2,168.9 L1502.9,170.5 L1506.6,172.0 L1510.3,173.5 L1514.0,175.1 L1517.7,176.6 L1521.4,178.1 L1525.0,179.7 L1528.7,181.2 L1532.4,182.8 L1536.1,184.3 L1539.8,185.9 L1543.5,187.4 L1547.2,188.9 L1550.9,190.5 L1554.6,192.0 L1558.3,193.5 L1562.0,195.0 L1565.7,196.5 L1569.5,198.0 L1573.2,199.5 L1576.9,201.0 L1580.6,202.5 L1584.2,204.1 L1587.9,205.7 L1591.6,207.3 L1595.3,208.9 L1598.9,210.5 L1602.5,212.2 L1606.2,213.9 L1609.8,215.6 L1613.4,217.3 L1617.0,219.0 L1620.6,220.7 L1624.3,222.4 L1627.9,224.1 L1631.5,225.8 L1635.2,227.5 L1638.8,229.1 L1642.5,230.8 L1646.1,232.4 L1649.8,233.9 L1653.5,235.5 L1657.2,237.0 L1660.9,238.5 L1664.6,240.0 L1668.3,241.5 L1672.0,243.0 L1675.7,244.5 L1679.4,246.1 L1683.1,247.6 L1686.8,249.1 L1690.5,250.7 L1694.2,252.3 L1697.8,253.9 L1701.5,255.5 L1705.1,257.2 L1708.8,258.9 L1712.4,260.6 L1716.0,262.3 L1719.6,264.0 L1723.3,265.7 L1726.9,267.4 L1730.5,269.0 L1734.2,270.6 L1737.8,272.2 L1741.5,273.7 L1745.2,275.2 L1749.0,276.6 L1752.7,277.9 L1756.5,279.2 L1760.3,280.4 L1764.1,281.6 L1768.0,282.7 L1771.8,283.8 L1775.7,284.8 L1779.5,285.9 L1783.4,286.9 L1787.3,287.9 L1791.1,289.0 L1795.0,290.0 L1798.9,291.1 L1802.7,292.1 L1806.6,293.2 L1810.4,294.3 L1814.3,295.4 L1818.1,296.5 L1822.0,297.6 L1825.8,298.7 L1829.7,299.8 L1833.5,301.0 L1837.3,302.2 L1841.1,303.4 L1844.9,304.7 L1848.7,305.9 L1852.5,307.2 L1856.3,308.5 L1860.1,309.9 L1863.8,311.3 L1867.6,312.7 L1871.3,314.1 L1875.0,315.6 L1878.7,317.0 L1882.5,318.5 L1886.2,320.0 L1889.9,321.5 L1893.6,323.1 L1897.3,324.6 L1901.0,326.1 L1904.7,327.6 L1908.4,329.2 L1912.1,330.7 L1915.8,332.2 L1919.5,333.7 L1923.2,335.2 L1926.9,336.7 L1930.6,338.2 L1934.4,339.7 L1938.1,341.2 L1941.8,342.7 L1945.5,344.2 L1949.2,345.7 L1952.9,347.1 L1956.7,348.6 L1960.4,350.1 L1964.1,351.6 L1967.8,353.1 L1971.5,354.6 L1975.2,356.1 L1978.9,357.6 L1982.7,359.1 L1986.4,360.6 L1990.1,362.1 L1993.8,363.6 L1997.5,365.1 L2001.2,366.6 L2004.9,368.1 L2008.6,369.7 L2012.3,371.2 L2016.0,372.7 L2019.7,374.2 L2023.4,375.8 L2027.1,377.3 L2030.8,378.8 L2034.5,380.3 L2038.2,381.8 L2042.0,383.3 L2045.7,384.8 L2049.4,386.2 L2053.1,387.7 L2056.9,389.2 L2060.6,390.6 L2064.3,392.1 L2068.1,393.5 L2071.8,394.9 L2075.5,396.3 L2079.3,397.8 L2083.0,399.2 L2086.8,400.6 L2090.5,402.0 L2094.3,403.4 L2098.0,404.8 L2101.8,406.2 L2105.5,407.6 L2109.3,409.0 L2113.0,410.4 L2116.8,411.8 L2120.5,413.3 L2124.2,414.7 L2128.0,416.1 L2131.7,417.6 L2135.4,419.1 L2139.2,420.5 L2142.9,422.0 L2146.6,423.5 L2150.3,425.0 L2154.0,426.4 L2157.8,427.9 L2161.5,429.4 L2165.2,430.9 L2168.9,432.5 L2172.6,434.0 L2176.3,435.5 L2180.0,437.0 L2180.0,437.0" fill="none" stroke="#336699" stroke-width="10" stroke-linejoin="round" clip-path="url(#ca)"/>
<g clip-path="url(#ca)">
<path d="M333.9 1518.0h10.0v5.3h-10.0zM333.9 1523.0h10.0v5.3h-10.0zM328.9 1528.0h20.0v5.3h-20.0zM323.9 1533.0h25.0v5.3h-25.0zM323.9 1538.0h30.0v5.3h-30.0zM318.9 1543.0h35.0v5.3h-35.0zM318.9 1548.0h40.0v5.3h-40.0zM318.9 1553.0h40.0v5.3h-40.0z" fill="#336699"/>
<path d="M442.0 1518.0h10.0v5.3h-10.0zM442.0 1523.0h10.0v5.3h-10.0zM437.0 1528.0h20.0v5.3h-20.0zM432.0 1533.0h25.0v5.3h-25.0zM432.0 1538.0h30.0v5.3h-30.0zM427.0 1543.0h35.0v5.3h-35.0zM427.0 1548.0h40.0v5.3h-40.0zM427.0 1553.0h40.0v5.3h-40.0z" fill="#336699"/>
<path d="M550.1 1366.0h10.0v5.3h-10.0zM550.1 1371.0h10.0v5.3h-10.0zM545.1 1376.0h20.0v5.3h-20.0zM540.1 1381.0h25.0v5.3h-25.0zM540.1 1386.0h30.0v5.3h-30.0zM535.1 1391.0h35.0v5.3h-35.0zM535.1 1396.0h40.0v5.3h-40.0zM535.1 1401.0h40.0v5.3h-40.0z" fill="#336699"/>
<path d="M658.2 765.0h10.0v5.3h-10.0zM658.2 770.0h10.0v5.3h-10.0zM653.2 775.0h20.0v5.3h-20.0zM648.2 780.0h25.0v5.3h-25.0zM648.2 785.0h30.0v5.3h-30.0zM643.2 790.0h35.0v5.3h-35.0zM643.2 795.0h40.0v5.3h-40.0zM643.2 800.0h40.0v5.3h-40.0z" fill="#336699"/>
<path d="M767.0 193.0h10.0v5.3h-10.0zM767.0 198.0h10.0v5.3h-10.0zM762.0 203.0h20.0v5.3h-20.0zM757.0 208.0h25.0v5.3h-25.0zM757.0 213.0h30.0v5.3h-30.0zM752.0 218.0h35.0v5.3h-35.0zM752.0 223.0h40.0v5.3h-40.0zM752.0 228.0h40.0v5.3h-40.0z" fill="#336699"/>
<path d="M874.5 146.0h10.0v5.3h-10.0zM874.5 151.0h10.0v5.3h-10.0zM869.5 156.0h20.0v5.3h-20.0zM864.5 161.0h25.0v5.3h-25.0zM864.5 166.0h30.0v5.3h-30.0zM859.5 171.0h35.0v5.3h-35.0zM859.5 176.0h40.0v5.3h-40.0zM859.5 181.0h40.0v5.3h-40.0z" fill="#336699"/>
<path d="M1090.8 79.0h10.0v5.3h-10.0zM1090.8 84.0h10.0v5.3h-10.0zM1085.8 89.0h20.0v5.3h-20.0zM1080.8 94.0h25.0v5.3h-25.0zM1080.8 99.0h30.0v5.3h-30.0zM1075.8 104.0h35.0v5.3h-35.0zM1075.8 109.0h40.0v5.3h-40.0zM1075.8 114.0h40.0v5.3h-40.0z" fill="#336699"/>
<path d="M1307.0 80.0h10.0v5.3h-10.0zM1307.0 85.0h10.0v5.3h-10.0zM1302.0 90.0h20.0v5.3h-20.0zM1297.0 95.0h25.0v5.3h-25.0zM1297.0 100.0h30.0v5.3h-30.0zM1292.0 105.0h35.0v5.3h-35.0zM1292.0 110.0h40.0v5.3h-40.0zM1292.0 115.0h40.0v5.3h-40.0z" fill="#336699"/>
<path d="M1523.0 266.0h10.0v5.3h-10.0zM1523.0 271.0h10.0v5.3h-10.0zM1518.0 276.0h20.0v5.3h-20.0zM1513.0 281.0h25.0v5.3h-25.0zM1513.0 286.0h30.0v5.3h-30.0zM1508.0 291.0h35.0v5.3h-35.0zM1508.0 296.0h40.0v5.3h-40.0zM1508.0 301.0h40.0v5.3h-40.0z" fill="#336699"/>
<path d="M1747.0 291.0h10.0v5.3h-10.0zM1747.0 296.0h10.0v5.3h-10.0zM1742.0 301.0h20.0v5.3h-20.0zM1737.0 306.0h25.0v5.3h-25.0zM1737.0 311.0h30.0v5.3h-30.0zM1732.0 316.0h35.0v5.3h-35.0zM1732.0 321.0h40.0v5.3h-40.0zM1732.0 326.0h40.0v5.3h-40.0z" fill="#336699"/>
<path d="M1957.0 326.0h10.0v5.3h-10.0zM1957.0 331.0h10.0v5.3h-10.0zM1952.0 336.0h20.0v5.3h-20.0zM1947.0 341.0h25.0v5.3h-25.0zM1947.0 346.0h30.0v5.3h-30.0zM1942.0 351.0h35.0v5.3h-35.0zM1942.0 356.0h40.0v5.3h-40.0zM1942.0 361.0h40.0v5.3h-40.0z" fill="#336699"/>
</g>
<path d="M337.0,1535.0 L341.0,1535.0 L345.0,1535.0 L349.0,1534.9 L353.0,1534.9 L357.0,1534.9 L361.0,1534.9 L365.0,1534.8 L369.0,1534.8 L373.0,1534.7 L377.0,1534.7 L381.0,1534.6 L385.0,1534.5 L389.0,1534.3 L393.0,1534.1 L396.9,1533.8 L400.9,1533.5 L404.8,1533.1 L408.8,1532.5 L412.6,1531.9 L416.5,1531.1 L420.4,1530.2 L424.2,1529.2 L428.0,1528.0 L431.7,1526.8 L435.5,1525.4 L439.2,1524.0 L442.8,1522.5 L446.4,1520.8 L450.0,1519.1 L453.5,1517.3 L456.9,1515.4 L460.2,1513.3 L463.4,1511.0 L466.5,1508.7 L469.4,1506.1 L472.2,1503.5 L474.9,1500.6 L477.5,1497.7 L479.9,1494.6 L482.3,1491.4 L484.5,1488.2 L486.7,1484.9 L488.9,1481.6 L491.1,1478.2 L493.2,1474.8 L495.3,1471.4 L497.5,1468.1 L499.6,1464.7 L501.8,1461.4 L504.0,1458.0 L506.2,1454.7 L508.4,1451.4 L510.7,1448.1 L512.9,1444.7 L515.0,1441.4 L517.1,1438.0 L519.2,1434.6 L521.2,1431.2 L523.2,1427.7 L525.1,1424.2 L527.0,1420.7 L528.8,1417.1 L530.5,1413.6 L532.2,1410.0 L533.9,1406.3 L535.6,1402.7 L537.2,1399.0 L538.7,1395.3 L540.2,1391.6 L541.7,1387.9 L543.2,1384.2 L544.5,1380.5 L545.9,1376.7 L547.2,1372.9 L548.5,1369.1 L549.8,1365.3 L551.0,1361.5 L552.2,1357.7 L553.3,1353.9 L554.5,1350.0 L555.6,1346.2 L556.7,1342.4 L557.7,1338.5 L558.8,1334.6 L559.9,1330.8 L560.9,1326.9 L561.9,1323.1 L562.8,1319.2 L563.8,1315.3 L564.7,1311.4 L565.5,1307.5 L566.3,1303.6 L567.1,1299.6 L567.8,1295.7 L568.4,1291.8 L569.1,1287.8 L569.7,1283.9 L570.3,1279.9 L570.9,1276.0 L571.4,1272.0 L572.0,1268.0 L572.5,1264.1 L573.0,1260.1 L573.6,1256.1 L574.1,1252.2 L574.6,1248.2 L575.2,1244.2 L575.7,1240.3 L576.2,1236.3 L576.8,1232.3 L577.4,1228.4 L578.0,1224.4 L578.5,1220.4 L579.2,1216.5 L579.8,1212.5 L580.4,1208.6 L581.1,1204.6 L581.8,1200.7 L582.5,1196.8 L583.2,1192.8 L583.9,1188.9 L584.6,1184.9 L585.3,1181.0 L586.1,1177.1 L586.9,1173.1 L587.6,1169.2 L588.4,1165.3 L589.2,1161.4 L590.0,1157.4 L590.8,1153.5 L591.5,1149.6 L592.3,1145.7 L593.1,1141.7 L593.9,1137.8 L594.7,1133.9 L595.4,1130.0 L596.2,1126.0 L596.9,1122.1 L597.7,1118.2 L598.4,1114.2 L599.1,1110.3 L599.8,1106.4 L600.5,1102.4 L601.2,1098.5 L601.9,1094.5 L602.6,1090.6 L603.3,1086.6 L603.9,1082.7 L604.6,1078.7 L605.2,1074.8 L605.9,1070.8 L606.5,1066.9 L607.2,1062.9 L607.8,1059.0 L608.4,1055.0 L609.1,1051.1 L609.7,1047.1 L610.3,1043.2 L611.0,1039.2 L611.6,1035.3 L612.2,1031.3 L612.9,1027.4 L613.5,1023.4 L614.2,1019.5 L614.8,1015.5 L615.5,1011.6 L616.1,1007.6 L616.8,1003.7 L617.4,999.7 L618.1,995.8 L618.8,991.8 L619.4,987.9 L620.1,983.9 L620.8,980.0 L621.5,976.1 L622.2,972.1 L622.9,968.2 L623.6,964.2 L624.3,960.3 L625.0,956.3 L625.6,952.4 L626.3,948.5 L627.0,944.5 L627.7,940.6 L628.4,936.6 L629.1,932.7 L629.8,928.7 L630.5,924.8 L631.1,920.8 L631.8,916.9 L632.5,913.0 L633.1,909.0 L633.8,905.1 L634.4,901.1 L635.1,897.2 L635.7,893.2 L636.4,889.3 L637.0,885.3 L637.7,881.4 L638.3,877.4 L638.9,873.5 L639.5,869.5 L640.2,865.5 L640.8,861.6 L641.4,857.6 L642.0,853.7 L642.6,849.7 L643.2,845.8 L643.8,841.8 L644.4,837.9 L645.0,833.9 L645.6,829.9 L646.2,826.0 L646.8,822.0 L647.4,818.1 L647.9,814.1 L648.5,810.1 L649.1,806.2 L649.6,802.2 L650.2,798.2 L650.7,794.3 L651.3,790.3 L651.8,786.3 L652.3,782.4 L652.8,778.4 L653.4,774.4 L653.9,770.5 L654.4,766.5 L654.9,762.5 L655.4,758.6 L655.9,754.6 L656.4,750.6 L656.9,746.6 L657.4,742.7 L657.9,738.7 L658.4,734.7 L658.9,730.8 L659.5,726.8 L660.0,722.8 L660.5,718.9 L661.0,714.9 L661.6,710.9 L662.1,707.0 L662.7,703.0 L663.2,699.0 L663.8,695.1 L664.4,691.1 L665.0,687.1 L665.6,683.2 L666.2,679.2 L666.8,675.3 L667.5,671.3 L668.1,667.4 L668.7,663.4 L669.4,659.5 L670.1,655.5 L670.7,651.6 L671.4,647.6 L672.1,643.7 L672.8,639.7 L673.4,635.8 L674.1,631.9 L674.8,627.9 L675.5,624.0 L676.2,620.0 L676.9,616.1 L677.5,612.1 L678.2,608.2 L678.9,604.2 L679.6,600.3 L680.2,596.4 L680.9,592.4 L681.5,588.5 L682.1,584.5 L682.8,580.5 L683.4,576.6 L684.0,572.6 L684.6,568.7 L685.2,564.7 L685.8,560.8 L686.3,556.8 L686.9,552.8 L687.4,548.9 L687.9,544.9 L688.5,540.9 L689.0,537.0 L689.5,533.0 L689.9,529.0 L690.4,525.0 L690.8,521.1 L691.3,517.1 L691.7,513.1 L692.1,509.1 L692.5,505.1 L692.9,501.2 L693.2,497.2 L693.6,493.2 L694.0,489.2 L694.3,485.2 L694.7,481.2 L695.1,477.2 L695.4,473.3 L695.8,469.3 L696.2,465.3 L696.6,461.3 L697.0,457.3 L697.4,453.3 L697.9,449.4 L698.3,445.4 L698.9,441.4 L699.4,437.5 L700.0,433.5 L700.7,429.6 L701.3,425.6 L702.1,421.7 L702.8,417.8 L703.6,413.9 L704.5,410.0 L705.4,406.1 L706.3,402.2 L707.2,398.3 L708.1,394.4 L709.0,390.5 L709.9,386.6 L710.8,382.7 L711.7,378.8 L712.6,374.9 L713.5,371.0 L714.3,367.1 L715.2,363.2 L716.0,359.2 L716.9,355.3 L717.7,351.4 L718.6,347.5 L719.4,343.6 L720.3,339.7 L721.2,335.8 L722.1,331.9 L723.1,328.0 L724.1,324.2 L725.2,320.3 L726.2,316.5 L727.4,312.6 L728.5,308.8 L729.7,305.0 L731.0,301.2 L732.2,297.4 L733.5,293.6 L734.8,289.8 L736.1,286.0 L737.5,282.3 L738.8,278.5 L740.1,274.7 L741.5,271.0 L742.9,267.2 L744.3,263.4 L745.7,259.7 L747.2,256.0 L748.7,252.3 L750.3,248.7 L751.9,245.1 L753.7,241.5 L755.5,237.9 L757.4,234.5 L759.4,231.0 L761.5,227.6 L763.7,224.3 L765.9,221.0 L768.2,217.8 L770.6,214.6 L773.1,211.4 L775.6,208.3 L778.1,205.3 L780.7,202.3 L783.4,199.3 L786.1,196.4 L788.9,193.5 L791.7,190.7 L794.6,187.9 L797.5,185.2 L800.4,182.4 L803.3,179.7 L806.3,177.1 L809.3,174.4 L812.2,171.7 L815.2,169.1 L818.3,166.5 L821.3,163.9 L824.3,161.3 L827.4,158.8 L830.6,156.4 L833.7,153.9 L836.9,151.6 L840.2,149.3 L843.4,147.1 L846.8,145.0 L850.2,143.0 L853.6,141.1 L857.1,139.4 L860.6,137.8 L864.3,136.4 L868.0,135.1 L871.7,134.0 L875.5,133.0 L879.4,132.2 L883.3,131.4 L887.2,130.7 L891.1,130.1 L895.1,129.5 L899.0,129.0 L903.0,128.5 L906.9,128.0 L910.9,127.5 L914.9,126.9 L918.8,126.4 L922.8,125.8 L926.8,125.3 L930.7,124.7 L934.7,124.1 L938.6,123.4 L942.6,122.8 L946.5,122.1 L950.5,121.5 L954.4,120.8 L958.4,120.2 L962.3,119.5 L966.3,118.9 L970.2,118.2 L974.2,117.6 L978.1,116.9 L982.1,116.3 L986.0,115.7 L990.0,115.1 L993.9,114.5 L997.9,113.9 L1001.9,113.4 L1005.8,112.9 L1009.8,112.4 L1013.8,112.0 L1017.7,111.6 L1021.7,111.2 L1025.7,110.9 L1029.7,110.7 L1033.7,110.5 L1037.7,110.3 L1041.7,110.1 L1045.7,110.0 L1049.7,109.9 L1053.7,109.8 L1057.7,109.7 L1061.7,109.6 L1065.7,109.6 L1069.7,109.5 L1073.7,109.4 L1077.7,109.4 L1081.7,109.3 L1085.7,109.3 L1089.7,109.2 L1093.7,109.2 L1097.7,109.1 L1101.7,109.1 L1105.7,109.0 L1109.7,109.0 L1113.7,108.9 L1117.7,108.9 L1121.7,108.8 L1125.7,108.8 L1129.7,108.8 L1133.7,108.7 L1137.7,108.7 L1141.7,108.6 L1145.7,108.5 L1149.7,108.5 L1153.7,108.4 L1157.8,108.4 L1161.8,108.3 L1165.8,108.3 L1169.8,108.2 L1173.8,108.2 L1177.8,108.1 L1181.8,108.0 L1185.8,108.0 L1189.8,107.9 L1193.8,107.9 L1197.8,107.8 L1201.8,107.8 L1205.8,107.7 L1209.8,107.6 L1213.8,107.6 L1217.8,107.5 L1221.8,107.5 L1225.8,107.4 L1229.8,107.3 L1233.8,107.3 L1237.8,107.2 L1241.8,107.1 L1245.8,107.0 L1249.8,107.0 L1253.8,106.9 L1257.8,106.8 L1261.8,106.7 L1265.8,106.6 L1269.8,106.5 L1273.8,106.4 L1277.8,106.3 L1281.8,106.2 L1285.8,106.1 L1289.8,106.0 L1293.8,105.9 L1297.8,105.8 L1301.8,105.7 L1305.8,105.6 L1309.8,105.5 L1313.8,105.4 L1317.8,105.3 L1321.8,105.2 L1325.8,105.1 L1329.8,105.0 L1333.8,104.9 L1337.8,104.8 L1341.8,104.7 L1345.8,104.6 L1349.8,104.6 L1353.8,104.5 L1357.8,104.5 L1361.8,104.6 L1365.8,104.7 L1369.8,104.8 L1373.8,105.1 L1377.7,105.4 L1381.7,105.8 L1385.6,106.3 L1389.6,106.9 L1393.5,107.5 L1397.4,108.2 L1401.3,109.0 L1405.3,109.8 L1409.2,110.6 L1413.1,111.4 L1417.0,112.3 L1420.9,113.1 L1424.8,114.0 L1428.7,114.8 L1432.6,115.7 L1436.5,116.6 L1440.4,117.5 L1444.3,118.4 L1448.2,119.3 L1452.1,120.3 L1455.9,121.4 L1459.8,122.4 L1463.6,123.6 L1467.4,124.7 L1471.2,125.9 L1475.0,127.2 L1478.8,128.5 L1482.5,129.8 L1486.3,131.2 L1490.0,132.7 L1493.7,134.2 L1497.3,135.8 L1500.9,137.5 L1504.5,139.3 L1508.0,141.1 L1511.5,143.0 L1515.0,145.0 L1518.4,147.0 L1521.8,149.0 L1525.2,151.1 L1528.7,153.2 L1532.1,155.3 L1535.4,157.4 L1538.8,159.5 L1542.2,161.6 L1545.5,163.8 L1548.8,166.1 L1552.0,168.3 L1555.2,170.7 L1558.4,173.2 L1561.4,175.7 L1564.5,178.2 L1567.5,180.9 L1570.4,183.5 L1573.3,186.3 L1576.2,189.0 L1579.0,191.8 L1581.9,194.7 L1584.7,197.5 L1587.4,200.4 L1590.2,203.3 L1592.9,206.2 L1595.6,209.2 L1598.3,212.1 L1601.0,215.1 L1603.7,218.0 L1606.4,221.0 L1609.1,223.9 L1611.8,226.8 L1614.6,229.7 L1617.4,232.6 L1620.2,235.4 L1623.1,238.2 L1625.9,241.0 L1628.8,243.8 L1631.7,246.6 L1634.6,249.4 L1637.4,252.1 L1640.3,254.9 L1643.1,257.8 L1645.9,260.6 L1648.7,263.4 L1651.5,266.3 L1654.3,269.2 L1657.0,272.2 L1659.7,275.1 L1662.4,278.1 L1665.0,281.1 L1667.6,284.1 L1670.2,287.2 L1672.8,290.2 L1675.4,293.3 L1677.9,296.4 L1680.5,299.5 L1683.0,302.6 L1685.4,305.7 L1687.9,308.9 L1690.4,312.0 L1692.8,315.2 L1695.2,318.4 L1697.7,321.6 L1700.1,324.8 L1702.5,327.9 L1704.9,331.1 L1707.4,334.3 L1709.8,337.5 L1712.3,340.6 L1714.7,343.8 L1717.2,346.9 L1719.7,350.0 L1722.2,353.1 L1724.8,356.3 L1727.3,359.4 L1729.8,362.5 L1732.3,365.6 L1734.9,368.7 L1737.4,371.8 L1739.9,374.9 L1742.4,378.0 L1744.9,381.2 L1747.3,384.3 L1749.7,387.5 L1752.1,390.7 L1754.5,393.9 L1756.9,397.2 L1759.2,400.4 L1761.5,403.7 L1763.8,407.0 L1766.0,410.3 L1768.3,413.6 L1770.5,416.9 L1772.7,420.3 L1774.9,423.6 L1777.0,427.0 L1779.2,430.4 L1781.4,433.7 L1783.5,437.1 L1785.7,440.5 L1787.9,443.8 L1790.0,447.2 L1792.2,450.5 L1794.4,453.9 L1796.6,457.2 L1798.9,460.5 L1801.1,463.9 L1803.3,467.2 L1805.6,470.5 L1807.8,473.8 L1810.1,477.1 L1812.4,480.4 L1814.6,483.7 L1816.9,487.0 L1819.2,490.3 L1821.5,493.6 L1823.8,496.9 L1826.1,500.1 L1828.4,503.4 L1830.7,506.7 L1833.0,510.0 L1835.3,513.2 L1837.6,516.5 L1839.9,519.8 L1842.2,523.1 L1844.5,526.3 L1846.8,529.6 L1849.1,532.9 L1851.4,536.2 L1853.7,539.4 L1856.0,542.7 L1858.3,546.0 L1860.6,549.3 L1862.9,552.5 L1865.2,555.8 L1867.5,559.1 L1869.7,562.4 L1872.0,565.7 L1874.3,569.0 L1876.6,572.3 L1878.9,575.5 L1881.1,578.8 L1883.4,582.1 L1885.7,585.4 L1887.9,588.7 L1890.2,592.0 L1892.5,595.3 L1894.7,598.7 L1897.0,602.0 L1899.2,605.3 L1901.5,608.6 L1903.7,611.9 L1906.0,615.2 L1908.3,618.5 L1910.5,621.8 L1912.8,625.1 L1915.0,628.4 L1917.3,631.7 L1919.6,635.0 L1921.8,638.3 L1924.1,641.6 L1926.4,644.9 L1928.7,648.2 L1931.0,651.5 L1933.2,654.7 L1935.5,658.0 L1937.8,661.3 L1940.1,664.6 L1942.4,667.8 L1944.8,671.1 L1947.1,674.4 L1949.4,677.6 L1951.7,680.9 L1954.1,684.1 L1956.4,687.4 L1958.8,690.6 L1961.1,693.9 L1963.5,697.1 L1965.8,700.3 L1968.2,703.6 L1970.6,706.8 L1972.9,710.0 L1975.3,713.2 L1977.7,716.4 L1980.1,719.7 L1982.5,722.9 L1984.9,726.1 L1987.3,729.3 L1989.7,732.5 L1992.1,735.7 L1994.5,738.9 L1996.9,742.1 L1999.3,745.3 L2001.7,748.5 L2004.1,751.7 L2006.5,754.9 L2008.9,758.1 L2011.3,761.3 L2013.7,764.5 L2016.1,767.7 L2018.6,770.9 L2021.0,774.1 L2023.4,777.2 L2025.8,780.4 L2028.2,783.6 L2030.6,786.8 L2033.1,790.0 L2035.5,793.2 L2037.9,796.4 L2040.3,799.6 L2042.8,802.7 L2045.2,805.9 L2047.6,809.1 L2050.0,812.3 L2052.5,815.5 L2054.9,818.6 L2057.4,821.8 L2059.8,825.0 L2062.2,828.2 L2064.7,831.3 L2067.1,834.5 L2069.5,837.7 L2072.0,840.9 L2074.4,844.0 L2076.9,847.2 L2079.3,850.4 L2081.7,853.6 L2084.2,856.7 L2086.6,859.9 L2089.0,863.1 L2091.5,866.3 L2093.9,869.5 L2096.3,872.6 L2098.7,875.8 L2101.2,879.0 L2103.6,882.2 L2106.0,885.4 L2108.4,888.6 L2110.8,891.8 L2113.2,895.0 L2115.6,898.2 L2118.0,901.4 L2120.4,904.6 L2122.8,907.8 L2125.2,911.0 L2127.6,914.2 L2130.0,917.4 L2132.4,920.6 L2134.8,923.8 L2137.2,927.0 L2139.6,930.2 L2142.0,933.5 L2144.4,936.7 L2146.8,939.9 L2149.1,943.1 L2151.5,946.3 L2153.9,949.5 L2156.3,952.8 L2158.7,956.0 L2161.0,959.2 L2163.4,962.4 L2165.8,965.6 L2168.1,968.9 L2170.5,972.1 L2172.9,975.3 L2175.3,978.5 L2177.6,981.8 L2180.0,985.0 L2180.0,985.0" fill="none" stroke="#00cc8c" stroke-width="10" stroke-linejoin="round" clip-path="url(#ca)"/>
<g clip-path="url(#ca)">
<path d="M316.4 1517.5h45.0v5.3h-45.0zM321.4 1522.5h40.0v5.3h-40.0zM326.4 1527.5h30.0v5.3h-30.0zM326.4 1532.5h25.0v5.3h-25.0zM331.4 1537.5h20.0v5.3h-20.0zM331.4 1542.5h15.0v5.3h-15.0zM336.4 1547.5h10.0v5.3h-10.0z" fill="#3cc373"/>
<path d="M424.5 1465.5h45.0v5.3h-45.0zM429.5 1470.5h40.0v5.3h-40.0zM434.5 1475.5h30.0v5.3h-30.0zM434.5 1480.5h25.0v5.3h-25.0zM439.5 1485.5h20.0v5.3h-20.0zM439.5 1490.5h15.0v5.3h-15.0zM444.5 1495.5h10.0v5.3h-10.0z" fill="#3cc373"/>
<path d="M532.6 1308.5h45.0v5.3h-45.0zM537.6 1313.5h40.0v5.3h-40.0zM542.6 1318.5h30.0v5.3h-30.0zM542.6 1323.5h25.0v5.3h-25.0zM547.6 1328.5h20.0v5.3h-20.0zM547.6 1333.5h15.0v5.3h-15.0zM552.6 1338.5h10.0v5.3h-10.0z" fill="#3cc373"/>
<path d="M640.8 750.5h45.0v5.3h-45.0zM645.8 755.5h40.0v5.3h-40.0zM650.8 760.5h30.0v5.3h-30.0zM650.8 765.5h25.0v5.3h-25.0zM655.8 770.5h20.0v5.3h-20.0zM655.8 775.5h15.0v5.3h-15.0zM660.8 780.5h10.0v5.3h-10.0z" fill="#3cc373"/>
<path d="M754.5 298.0h45.0v5.3h-45.0zM759.5 303.0h40.0v5.3h-40.0zM764.5 308.0h30.0v5.3h-30.0zM764.5 313.0h25.0v5.3h-25.0zM769.5 318.0h20.0v5.3h-20.0zM769.5 323.0h15.0v5.3h-15.0zM774.5 328.0h10.0v5.3h-10.0z" fill="#3cc373"/>
<path d="M857.0 131.5h45.0v5.3h-45.0zM862.0 136.5h40.0v5.3h-40.0zM867.0 141.5h30.0v5.3h-30.0zM867.0 146.5h25.0v5.3h-25.0zM872.0 151.5h20.0v5.3h-20.0zM872.0 156.5h15.0v5.3h-15.0zM877.0 161.5h10.0v5.3h-10.0z" fill="#3cc373"/>
<path d="M1073.2 81.5h45.0v5.3h-45.0zM1078.2 86.5h40.0v5.3h-40.0zM1083.2 91.5h30.0v5.3h-30.0zM1083.2 96.5h25.0v5.3h-25.0zM1088.2 101.5h20.0v5.3h-20.0zM1088.2 106.5h15.0v5.3h-15.0zM1093.2 111.5h10.0v5.3h-10.0z" fill="#3cc373"/>
<path d="M1289.5 81.5h45.0v5.3h-45.0zM1294.5 86.5h40.0v5.3h-40.0zM1299.5 91.5h30.0v5.3h-30.0zM1299.5 96.5h25.0v5.3h-25.0zM1304.5 101.5h20.0v5.3h-20.0zM1304.5 106.5h15.0v5.3h-15.0zM1309.5 111.5h10.0v5.3h-10.0z" fill="#3cc373"/>
<path d="M1505.5 278.5h45.0v5.3h-45.0zM1510.5 283.5h40.0v5.3h-40.0zM1515.5 288.5h30.0v5.3h-30.0zM1515.5 293.5h25.0v5.3h-25.0zM1520.5 298.5h20.0v5.3h-20.0zM1520.5 303.5h15.0v5.3h-15.0zM1525.5 308.5h10.0v5.3h-10.0z" fill="#3cc373"/>
<path d="M1722.0 433.0h45.0v5.3h-45.0zM1727.0 438.0h40.0v5.3h-40.0zM1732.0 443.0h30.0v5.3h-30.0zM1732.0 448.0h25.0v5.3h-25.0zM1737.0 453.0h20.0v5.3h-20.0zM1737.0 458.0h15.0v5.3h-15.0zM1742.0 463.0h10.0v5.3h-10.0z" fill="#3cc373"/>
<path d="M1939.5 618.1h45.0v5.3h-45.0zM1944.5 623.1h40.0v5.3h-40.0zM1949.5 628.1h30.0v5.3h-30.0zM1949.5 633.1h25.0v5.3h-25.0zM1954.5 638.1h20.0v5.3h-20.0zM1954.5 643.1h15.0v5.3h-15.0zM1959.5 648.1h10.0v5.3h-10.0z" fill="#3cc373"/>
</g>
<path d="M337.0,1533.0 L341.0,1533.0 L345.0,1533.0 L349.0,1533.0 L353.0,1532.9 L357.0,1532.9 L361.0,1532.8 L365.0,1532.7 L369.0,1532.6 L373.0,1532.4 L376.9,1532.1 L380.9,1531.7 L384.8,1531.2 L388.7,1530.6 L392.6,1529.9 L396.5,1529.1 L400.3,1528.2 L404.2,1527.1 L408.0,1526.0 L411.8,1524.9 L415.6,1523.7 L419.4,1522.4 L423.2,1521.1 L427.0,1519.9 L430.7,1518.6 L434.5,1517.3 L438.3,1516.0 L442.1,1514.7 L445.8,1513.3 L449.5,1511.9 L453.2,1510.4 L456.8,1508.8 L460.3,1507.1 L463.8,1505.2 L467.2,1503.2 L470.5,1501.1 L473.7,1498.9 L476.9,1496.5 L480.0,1494.1 L483.0,1491.5 L485.9,1488.8 L488.8,1486.1 L491.6,1483.3 L494.3,1480.4 L497.0,1477.4 L499.6,1474.4 L502.1,1471.3 L504.6,1468.2 L507.1,1465.1 L509.5,1461.9 L511.8,1458.7 L514.2,1455.4 L516.5,1452.2 L518.8,1448.9 L521.0,1445.6 L523.2,1442.3 L525.3,1438.9 L527.4,1435.5 L529.3,1432.1 L531.3,1428.6 L533.1,1425.1 L535.0,1421.6 L536.7,1418.0 L538.5,1414.4 L540.2,1410.8 L542.0,1407.2 L543.7,1403.6 L545.4,1400.0 L547.2,1396.4 L549.0,1392.8 L550.7,1389.2 L552.6,1385.7 L554.4,1382.1 L556.2,1378.6 L558.0,1375.0 L559.9,1371.4 L561.7,1367.9 L563.4,1364.3 L565.1,1360.7 L566.8,1357.1 L568.3,1353.4 L569.8,1349.7 L571.2,1346.0 L572.5,1342.3 L573.8,1338.5 L575.0,1334.7 L576.1,1330.8 L577.2,1327.0 L578.3,1323.2 L579.3,1319.3 L580.3,1315.4 L581.4,1311.6 L582.4,1307.7 L583.4,1303.8 L584.4,1299.9 L585.4,1296.1 L586.4,1292.2 L587.4,1288.3 L588.4,1284.4 L589.4,1280.6 L590.4,1276.7 L591.4,1272.8 L592.3,1268.9 L593.3,1265.0 L594.3,1261.2 L595.3,1257.3 L596.3,1253.4 L597.2,1249.5 L598.2,1245.6 L599.2,1241.7 L600.1,1237.9 L601.1,1234.0 L602.1,1230.1 L603.0,1226.2 L604.0,1222.3 L604.9,1218.4 L605.9,1214.5 L606.8,1210.6 L607.8,1206.7 L608.7,1202.9 L609.6,1199.0 L610.6,1195.1 L611.5,1191.2 L612.5,1187.3 L613.4,1183.4 L614.3,1179.5 L615.2,1175.6 L616.2,1171.7 L617.1,1167.8 L618.0,1163.9 L618.9,1160.0 L619.8,1156.1 L620.7,1152.2 L621.6,1148.3 L622.5,1144.4 L623.4,1140.5 L624.3,1136.6 L625.1,1132.7 L626.0,1128.8 L626.9,1124.9 L627.7,1121.0 L628.6,1117.1 L629.4,1113.1 L630.2,1109.2 L631.1,1105.3 L631.9,1101.4 L632.7,1097.5 L633.5,1093.5 L634.3,1089.6 L635.1,1085.7 L635.9,1081.8 L636.6,1077.8 L637.4,1073.9 L638.2,1070.0 L638.9,1066.1 L639.7,1062.1 L640.5,1058.2 L641.2,1054.3 L641.9,1050.3 L642.7,1046.4 L643.4,1042.5 L644.2,1038.5 L644.9,1034.6 L645.6,1030.7 L646.4,1026.7 L647.1,1022.8 L647.9,1018.9 L648.6,1014.9 L649.3,1011.0 L650.1,1007.1 L650.8,1003.1 L651.6,999.2 L652.3,995.3 L653.0,991.3 L653.8,987.4 L654.5,983.5 L655.3,979.5 L656.0,975.6 L656.8,971.7 L657.5,967.7 L658.3,963.8 L659.0,959.8 L659.7,955.9 L660.5,952.0 L661.2,948.0 L661.9,944.1 L662.6,940.2 L663.4,936.2 L664.1,932.3 L664.8,928.3 L665.5,924.4 L666.1,920.5 L666.8,916.5 L667.5,912.6 L668.2,908.6 L668.8,904.7 L669.5,900.7 L670.1,896.8 L670.7,892.8 L671.4,888.9 L672.0,884.9 L672.6,881.0 L673.2,877.0 L673.8,873.0 L674.4,869.1 L674.9,865.1 L675.5,861.2 L676.1,857.2 L676.6,853.2 L677.2,849.3 L677.8,845.3 L678.3,841.3 L678.9,837.4 L679.4,833.4 L680.0,829.4 L680.5,825.5 L681.1,821.5 L681.6,817.5 L682.1,813.6 L682.7,809.6 L683.2,805.6 L683.7,801.7 L684.3,797.7 L684.8,793.7 L685.3,789.8 L685.9,785.8 L686.4,781.8 L686.9,777.9 L687.4,773.9 L687.9,769.9 L688.4,766.0 L689.0,762.0 L689.5,758.0 L690.0,754.0 L690.5,750.1 L691.0,746.1 L691.5,742.1 L692.0,738.2 L692.5,734.2 L693.0,730.2 L693.5,726.2 L694.1,722.3 L694.6,718.3 L695.1,714.3 L695.6,710.4 L696.2,706.4 L696.7,702.4 L697.2,698.5 L697.8,694.5 L698.3,690.5 L698.9,686.6 L699.4,682.6 L700.0,678.6 L700.6,674.7 L701.1,670.7 L701.7,666.7 L702.2,662.8 L702.8,658.8 L703.4,654.9 L703.9,650.9 L704.5,646.9 L705.1,643.0 L705.7,639.0 L706.2,635.1 L706.8,631.1 L707.4,627.1 L708.0,623.2 L708.6,619.2 L709.1,615.2 L709.7,611.3 L710.3,607.3 L710.9,603.4 L711.5,599.4 L712.1,595.4 L712.7,591.5 L713.3,587.5 L713.9,583.6 L714.5,579.6 L715.1,575.7 L715.7,571.7 L716.3,567.7 L716.9,563.8 L717.5,559.8 L718.1,555.9 L718.7,551.9 L719.3,547.9 L719.9,544.0 L720.5,540.0 L721.1,536.1 L721.7,532.1 L722.3,528.2 L722.9,524.2 L723.5,520.2 L724.1,516.3 L724.7,512.3 L725.3,508.4 L726.0,504.4 L726.6,500.5 L727.2,496.5 L727.8,492.6 L728.4,488.6 L729.1,484.7 L729.7,480.7 L730.3,476.7 L730.9,472.8 L731.6,468.8 L732.2,464.9 L732.8,460.9 L733.5,457.0 L734.1,453.0 L734.7,449.1 L735.4,445.1 L736.0,441.2 L736.7,437.2 L737.3,433.3 L738.0,429.3 L738.6,425.4 L739.3,421.4 L739.9,417.5 L740.6,413.5 L741.2,409.6 L741.9,405.6 L742.5,401.7 L743.2,397.7 L743.9,393.8 L744.5,389.8 L745.2,385.9 L745.8,381.9 L746.5,378.0 L747.2,374.0 L747.9,370.1 L748.6,366.2 L749.3,362.2 L750.0,358.3 L750.8,354.4 L751.6,350.4 L752.4,346.5 L753.2,342.6 L754.1,338.7 L754.9,334.8 L755.8,330.9 L756.7,327.0 L757.7,323.1 L758.6,319.2 L759.5,315.3 L760.4,311.4 L761.3,307.5 L762.3,303.6 L763.2,299.7 L764.1,295.8 L765.1,291.9 L766.0,288.1 L767.0,284.2 L768.0,280.3 L769.0,276.4 L770.1,272.6 L771.2,268.7 L772.3,264.9 L773.4,261.1 L774.6,257.2 L775.8,253.4 L777.1,249.6 L778.3,245.8 L779.6,242.0 L780.9,238.2 L782.3,234.5 L783.6,230.7 L785.0,226.9 L786.4,223.2 L787.8,219.4 L789.2,215.7 L790.6,212.0 L792.1,208.3 L793.6,204.5 L795.1,200.9 L796.7,197.2 L798.3,193.5 L800.0,189.9 L801.7,186.3 L803.4,182.7 L805.2,179.1 L807.1,175.6 L809.1,172.2 L811.1,168.7 L813.2,165.4 L815.4,162.1 L817.7,158.9 L820.1,155.7 L822.6,152.6 L825.1,149.5 L827.8,146.5 L830.5,143.6 L833.2,140.7 L836.0,137.9 L838.9,135.2 L841.9,132.5 L844.9,130.0 L848.0,127.5 L851.2,125.1 L854.4,122.9 L857.8,120.8 L861.2,118.8 L864.6,117.0 L868.2,115.3 L871.8,113.7 L875.5,112.4 L879.2,111.1 L883.0,110.0 L886.8,109.1 L890.7,108.3 L894.6,107.6 L898.5,107.0 L902.5,106.5 L906.4,106.1 L910.4,105.7 L914.4,105.4 L918.4,105.1 L922.4,104.8 L926.4,104.6 L930.4,104.4 L934.4,104.2 L938.4,104.0 L942.4,103.8 L946.3,103.6 L950.3,103.4 L954.3,103.2 L958.3,103.1 L962.3,102.9 L966.3,102.8 L970.3,102.6 L974.4,102.5 L978.4,102.4 L982.4,102.2 L986.4,102.1 L990.4,102.0 L994.4,101.9 L998.4,101.8 L1002.4,101.7 L1006.4,101.5 L1010.4,101.4 L1014.4,101.3 L1018.4,101.2 L1022.4,101.1 L1026.4,101.0 L1030.4,100.9 L1034.4,100.8 L1038.4,100.7 L1042.4,100.6 L1046.4,100.5 L1050.4,100.4 L1054.4,100.3 L1058.4,100.2 L1062.4,100.1 L1066.4,100.0 L1070.4,99.8 L1074.4,99.7 L1078.4,99.6 L1082.4,99.5 L1086.4,99.4 L1090.4,99.3 L1094.4,99.1 L1098.4,99.0 L1102.4,98.9 L1106.4,98.7 L1110.4,98.6 L1114.4,98.4 L1118.4,98.3 L1122.4,98.1 L1126.4,97.9 L1130.4,97.8 L1134.4,97.6 L1138.4,97.4 L1142.4,97.2 L1146.4,97.1 L1150.4,96.9 L1154.4,96.7 L1158.4,96.5 L1162.4,96.3 L1166.4,96.2 L1170.4,96.0 L1174.4,95.8 L1178.4,95.6 L1182.4,95.5 L1186.4,95.3 L1190.4,95.2 L1194.4,95.0 L1198.4,94.9 L1202.4,94.8 L1206.4,94.7 L1210.4,94.5 L1214.4,94.5 L1218.4,94.4 L1222.4,94.3 L1226.4,94.3 L1230.4,94.2 L1234.4,94.2 L1238.4,94.2 L1242.4,94.2 L1246.4,94.3 L1250.4,94.4 L1254.4,94.5 L1258.4,94.6 L1262.4,94.7 L1266.4,94.9 L1270.4,95.0 L1274.4,95.2 L1278.4,95.5 L1282.4,95.7 L1286.4,96.0 L1290.4,96.3 L1294.4,96.6 L1298.4,96.9 L1302.4,97.3 L1306.3,97.7 L1310.3,98.1 L1314.3,98.5 L1318.3,99.0 L1322.2,99.5 L1326.2,100.1 L1330.1,100.7 L1334.1,101.3 L1338.0,101.9 L1342.0,102.6 L1345.9,103.2 L1349.9,103.9 L1353.8,104.6 L1357.8,105.3 L1361.7,106.0 L1365.6,106.7 L1369.6,107.5 L1373.5,108.2 L1377.4,109.0 L1381.3,109.8 L1385.2,110.7 L1389.1,111.6 L1393.0,112.6 L1396.8,113.6 L1400.6,114.8 L1404.4,116.0 L1408.2,117.2 L1412.0,118.6 L1415.7,119.9 L1419.5,121.4 L1423.2,122.9 L1426.9,124.4 L1430.5,126.0 L1434.2,127.6 L1437.9,129.2 L1441.5,130.8 L1445.2,132.4 L1448.8,134.1 L1452.5,135.7 L1456.2,137.3 L1459.8,138.8 L1463.5,140.4 L1467.2,141.9 L1470.9,143.4 L1474.7,144.8 L1478.4,146.3 L1482.2,147.7 L1485.9,149.0 L1489.7,150.4 L1493.5,151.7 L1497.2,153.0 L1501.0,154.4 L1504.8,155.7 L1508.5,157.1 L1512.3,158.5 L1516.0,159.9 L1519.8,161.3 L1523.5,162.7 L1527.3,164.1 L1531.0,165.6 L1534.7,167.1 L1538.4,168.6 L1542.1,170.1 L1545.8,171.6 L1549.5,173.2 L1553.2,174.7 L1556.8,176.3 L1560.5,178.0 L1564.1,179.6 L1567.7,181.3 L1571.4,183.1 L1574.9,184.8 L1578.5,186.6 L1582.1,188.4 L1585.7,190.1 L1589.3,191.9 L1592.9,193.7 L1596.5,195.4 L1600.1,197.1 L1603.7,198.8 L1607.3,200.5 L1611.0,202.2 L1614.6,203.9 L1618.3,205.5 L1621.9,207.1 L1625.6,208.8 L1629.2,210.4 L1632.9,212.1 L1636.5,213.7 L1640.1,215.4 L1643.8,217.1 L1647.4,218.8 L1651.0,220.6 L1654.6,222.3 L1658.2,224.1 L1661.8,225.9 L1665.3,227.6 L1668.9,229.4 L1672.5,231.2 L1676.1,232.9 L1679.7,234.7 L1683.3,236.4 L1686.9,238.1 L1690.6,239.8 L1694.2,241.5 L1697.8,243.2 L1701.5,244.8 L1705.1,246.5 L1708.7,248.2 L1712.3,249.9 L1716.0,251.6 L1719.5,253.4 L1723.1,255.2 L1726.7,257.0 L1730.2,258.8 L1733.8,260.7 L1737.3,262.5 L1740.9,264.4 L1744.4,266.3 L1747.9,268.2 L1751.5,270.0 L1755.0,271.9 L1758.6,273.7 L1762.1,275.6 L1765.6,277.5 L1769.2,279.4 L1772.7,281.3 L1776.2,283.2 L1779.7,285.1 L1783.2,287.1 L1786.7,289.0 L1790.2,291.0 L1793.6,293.0 L1797.1,294.9 L1800.6,296.9 L1804.1,298.8 L1807.7,300.7 L1811.2,302.6 L1814.7,304.4 L1818.3,306.3 L1821.9,308.1 L1825.4,309.9 L1829.0,311.7 L1832.5,313.5 L1836.1,315.4 L1839.7,317.2 L1843.2,319.1 L1846.7,321.0 L1850.2,322.9 L1853.7,324.8 L1857.2,326.8 L1860.7,328.8 L1864.1,330.8 L1867.5,332.9 L1871.0,335.0 L1874.4,337.1 L1877.8,339.2 L1881.2,341.3 L1884.6,343.4 L1888.0,345.4 L1891.4,347.5 L1894.9,349.6 L1898.3,351.6 L1901.8,353.7 L1905.2,355.7 L1908.7,357.7 L1912.2,359.6 L1915.6,361.6 L1919.1,363.6 L1922.6,365.6 L1926.1,367.5 L1929.6,369.5 L1933.1,371.4 L1936.6,373.4 L1940.1,375.4 L1943.5,377.4 L1947.0,379.3 L1950.5,381.3 L1954.0,383.3 L1957.4,385.3 L1960.9,387.3 L1964.4,389.3 L1967.8,391.3 L1971.3,393.3 L1974.8,395.3 L1978.2,397.3 L1981.7,399.3 L1985.2,401.3 L1988.6,403.4 L1992.1,405.4 L1995.5,407.4 L1999.0,409.4 L2002.4,411.5 L2005.9,413.5 L2009.3,415.5 L2012.8,417.6 L2016.2,419.6 L2019.6,421.7 L2023.1,423.8 L2026.5,425.8 L2029.9,427.9 L2033.3,430.0 L2036.7,432.1 L2040.2,434.1 L2043.6,436.2 L2047.0,438.3 L2050.5,440.3 L2053.9,442.4 L2057.4,444.4 L2060.8,446.4 L2064.3,448.4 L2067.7,450.4 L2071.2,452.4 L2074.7,454.4 L2078.2,456.3 L2081.7,458.3 L2085.2,460.3 L2088.6,462.3 L2092.1,464.2 L2095.6,466.2 L2099.1,468.2 L2102.5,470.2 L2106.0,472.2 L2109.5,474.2 L2112.9,476.3 L2116.4,478.3 L2119.8,480.3 L2123.3,482.3 L2126.8,484.3 L2130.3,486.3 L2133.7,488.2 L2137.2,490.2 L2140.7,492.1 L2144.3,494.0 L2147.8,495.9 L2151.3,497.7 L2154.9,499.6 L2158.5,501.4 L2162.0,503.2 L2165.6,505.0 L2169.2,506.7 L2172.8,508.5 L2176.4,510.3 L2180.0,512.0 L2180.0,512.0" fill="none" stroke="#cc6600" stroke-width="10" stroke-linejoin="round" clip-path="url(#ca)"/>
<path d="M337.0,1541.0 L338.2,1541.0 L339.5,1541.0 L340.7,1541.0 L341.9,1541.0 L343.1,1541.0 L344.4,1541.0 L345.6,1541.0 L346.8,1541.0 L348.1,1541.0 L349.3,1541.0 L350.5,1541.0 L351.8,1541.0 L353.0,1541.0 L354.2,1541.0 L355.4,1541.0 L356.7,1541.0 L357.9,1541.0 L359.1,1541.0 L360.4,1541.0 L361.6,1541.0 L362.8,1541.0 L364.0,1541.0 L365.3,1541.0 L366.5,1541.0 L367.7,1541.0 L369.0,1541.0 L370.2,1541.0 L371.4,1541.0 L372.7,1541.0 L373.9,1541.0 L375.1,1541.0 L376.3,1541.0 L377.6,1541.0 L378.8,1541.0 L380.0,1541.0 L381.3,1541.0 L382.5,1541.0 L383.7,1541.0 L384.9,1541.0 L386.2,1541.0 L387.4,1541.0 L388.6,1541.0 L389.9,1541.0 L391.1,1541.0 L392.3,1541.0 L393.6,1541.0 L394.8,1541.0 L396.0,1541.0 L397.2,1541.0 L398.5,1541.0 L399.7,1541.0 L400.9,1541.0 L402.2,1541.0 L403.4,1541.0 L404.6,1541.0 L405.9,1541.0 L407.1,1541.0 L408.3,1541.0 L409.5,1541.0 L410.8,1541.0 L412.0,1541.0 L413.2,1541.0 L414.5,1541.0 L415.7,1541.0 L416.9,1541.0 L418.1,1541.0 L419.4,1541.0 L420.6,1541.0 L421.8,1541.0 L423.1,1541.0 L424.3,1541.0 L425.5,1541.0 L426.8,1541.0 L428.0,1541.0 L429.2,1541.0 L430.4,1541.0 L431.7,1541.0 L432.9,1541.0 L434.1,1541.0 L435.4,1541.0 L436.6,1541.0 L437.8,1541.0 L439.0,1541.0 L440.3,1541.0 L441.5,1541.0 L442.7,1541.0 L444.0,1541.0 L445.2,1541.0 L446.4,1541.0 L447.7,1541.0 L448.9,1541.0 L450.1,1541.0 L451.3,1541.0 L452.6,1541.0 L453.8,1541.0 L455.0,1541.0 L456.3,1541.0 L457.5,1541.0 L458.7,1541.0 L459.9,1541.0 L461.2,1541.0 L462.4,1541.0 L463.6,1541.0 L464.9,1541.0 L466.1,1541.0 L467.3,1541.0 L468.6,1541.0 L469.8,1541.0 L471.0,1541.0 L472.2,1541.0 L473.5,1541.0 L474.7,1541.0 L475.9,1541.0 L477.2,1541.0 L478.4,1541.0 L479.6,1541.0 L480.8,1541.0 L482.1,1541.0 L483.3,1541.0 L484.5,1541.0 L485.8,1541.0 L487.0,1541.0 L488.2,1541.0 L489.5,1541.0 L490.7,1541.0 L491.9,1541.0 L493.1,1541.0 L494.4,1541.0 L495.6,1541.0 L496.8,1541.0 L498.1,1541.0 L499.3,1541.0 L500.5,1541.0 L501.8,1541.0 L503.0,1541.0 L504.2,1541.0 L505.4,1541.0 L506.7,1541.0 L507.9,1541.0 L509.1,1541.0 L510.4,1541.0 L511.6,1541.0 L512.8,1541.0 L514.0,1541.0 L515.3,1541.0 L516.5,1541.0 L517.7,1541.0 L519.0,1541.0 L520.2,1541.0 L521.4,1541.0 L522.7,1541.0 L523.9,1541.0 L525.1,1541.0 L526.3,1541.0 L527.6,1541.0 L528.8,1541.0 L530.0,1541.0 L531.3,1541.0 L532.5,1541.0 L533.7,1541.0 L534.9,1541.0 L536.2,1541.0 L537.4,1541.0 L538.6,1541.0 L539.9,1541.0 L541.1,1541.0 L542.3,1541.0 L543.6,1541.0 L544.8,1541.0 L546.0,1541.0 L547.2,1541.0 L548.5,1541.0 L549.7,1541.0 L550.9,1541.0 L552.2,1541.0 L553.4,1541.0 L554.6,1541.0 L555.8,1541.0 L557.1,1541.0 L558.3,1541.0 L559.5,1541.0 L560.8,1541.0 L562.0,1541.0 L563.2,1541.0 L564.5,1541.0 L565.7,1541.0 L566.9,1541.0 L568.1,1541.0 L569.4,1541.0 L570.6,1541.0 L571.8,1541.0 L573.1,1541.0 L574.3,1541.0 L575.5,1541.0 L576.7,1541.0 L578.0,1541.0 L579.2,1541.0 L580.4,1541.0 L581.7,1541.0 L582.9,1541.0 L584.1,1541.0 L585.4,1541.0 L586.6,1541.0 L587.8,1541.0 L589.0,1541.0 L590.3,1541.0 L591.5,1541.0 L592.7,1541.0 L594.0,1541.0 L595.2,1541.0 L596.4,1541.0 L597.7,1541.0 L598.9,1541.0 L600.1,1541.0 L601.3,1541.0 L602.6,1541.0 L603.8,1541.0 L605.0,1541.0 L606.3,1541.0 L607.5,1541.0 L608.7,1541.0 L609.9,1541.0 L611.2,1541.0 L612.4,1541.0 L613.6,1541.0 L614.9,1541.0 L616.1,1541.0 L617.3,1541.0 L618.6,1541.0 L619.8,1541.0 L621.0,1541.0 L622.2,1541.0 L623.5,1541.0 L624.7,1541.0 L625.9,1541.0 L627.2,1541.0 L628.4,1541.0 L629.6,1541.0 L630.8,1541.0 L632.1,1541.0 L633.3,1541.0 L634.5,1541.0 L635.8,1541.0 L637.0,1541.0 L638.2,1541.0 L639.5,1541.0 L640.7,1541.0 L641.9,1541.0 L643.1,1541.0 L644.4,1541.0 L645.6,1541.0 L646.8,1541.0 L648.1,1541.0 L649.3,1541.0 L650.5,1541.0 L651.7,1541.0 L653.0,1541.0 L654.2,1541.0 L655.4,1541.0 L656.7,1541.0 L657.9,1541.0 L659.1,1541.0 L660.4,1541.1 L661.6,1541.1 L662.8,1541.1 L664.0,1541.1 L665.3,1541.1 L666.5,1541.1 L667.7,1541.1 L669.0,1541.1 L670.2,1541.1 L671.4,1541.1 L672.6,1541.1 L673.9,1541.1 L675.1,1541.1 L676.3,1541.1 L677.6,1541.1 L678.8,1541.1 L680.0,1541.1 L681.3,1541.1 L682.5,1541.1 L683.7,1541.1 L684.9,1541.1 L686.2,1541.1 L687.4,1541.2 L688.6,1541.2 L689.9,1541.2 L691.1,1541.2 L692.3,1541.2 L693.6,1541.2 L694.8,1541.2 L696.0,1541.2 L697.2,1541.2 L698.5,1541.2 L699.7,1541.2 L700.9,1541.2 L702.2,1541.2 L703.4,1541.2 L704.6,1541.2 L705.8,1541.2 L707.1,1541.2 L708.3,1541.3 L709.5,1541.3 L710.8,1541.3 L712.0,1541.3 L713.2,1541.3 L714.5,1541.3 L715.7,1541.3 L716.9,1541.3 L718.1,1541.3 L719.4,1541.3 L720.6,1541.3 L721.8,1541.3 L723.1,1541.3 L724.3,1541.3 L725.5,1541.3 L726.7,1541.3 L728.0,1541.3 L729.2,1541.3 L730.4,1541.3 L731.7,1541.3 L732.9,1541.3 L734.1,1541.3 L735.4,1541.3 L736.6,1541.3 L737.8,1541.3 L739.0,1541.3 L740.3,1541.3 L741.5,1541.3 L742.7,1541.3 L744.0,1541.3 L745.2,1541.3 L746.4,1541.3 L747.6,1541.3 L748.9,1541.3 L750.1,1541.3 L751.3,1541.3 L752.6,1541.3 L753.8,1541.3 L755.0,1541.3 L756.3,1541.3 L757.5,1541.3 L758.7,1541.3 L759.9,1541.3 L761.2,1541.3 L762.4,1541.3 L763.6,1541.3 L764.9,1541.3 L766.1,1541.3 L767.3,1541.3 L768.5,1541.3 L769.8,1541.3 L771.0,1541.3 L772.2,1541.3 L773.5,1541.3 L774.7,1541.3 L775.9,1541.3 L777.2,1541.3 L778.4,1541.3 L779.6,1541.2 L780.8,1541.2 L782.1,1541.2 L783.3,1541.2 L784.5,1541.2 L785.8,1541.2 L787.0,1541.2 L788.2,1541.2 L789.5,1541.2 L790.7,1541.2 L791.9,1541.2 L793.1,1541.2 L794.4,1541.2 L795.6,1541.1 L796.8,1541.1 L798.1,1541.1 L799.3,1541.1 L800.5,1541.1 L801.7,1541.1 L803.0,1541.1 L804.2,1541.1 L805.4,1541.0 L806.7,1541.0 L807.9,1541.0 L809.1,1541.0 L810.4,1541.0 L811.6,1541.0 L812.8,1541.0 L814.0,1540.9 L815.3,1540.9 L816.5,1540.9 L817.7,1540.9 L819.0,1540.9 L820.2,1540.9 L821.4,1540.8 L822.6,1540.8 L823.9,1540.8 L825.1,1540.8 L826.3,1540.8 L827.6,1540.7 L828.8,1540.7 L830.0,1540.7 L831.3,1540.7 L832.5,1540.6 L833.7,1540.6 L834.9,1540.6 L836.2,1540.6 L837.4,1540.5 L838.6,1540.5 L839.9,1540.5 L841.1,1540.5 L842.3,1540.4 L843.5,1540.4 L844.8,1540.4 L846.0,1540.3 L847.2,1540.3 L848.5,1540.3 L849.7,1540.2 L850.9,1540.2 L852.2,1540.2 L853.4,1540.1 L854.6,1540.1 L855.8,1540.1 L857.1,1540.0 L858.3,1540.0 L859.5,1539.9 L860.8,1539.9 L862.0,1539.9 L863.2,1539.8 L864.4,1539.8 L865.7,1539.7 L866.9,1539.7 L868.1,1539.6 L869.4,1539.6 L870.6,1539.5 L871.8,1539.5 L873.1,1539.4 L874.3,1539.4 L875.5,1539.3 L876.7,1539.3 L878.0,1539.2 L879.2,1539.1 L880.4,1539.1 L881.7,1539.0 L882.9,1539.0 L884.1,1538.9 L885.4,1538.8 L886.6,1538.8 L887.8,1538.7 L889.0,1538.6 L890.3,1538.6 L891.5,1538.5 L892.7,1538.4 L894.0,1538.4 L895.2,1538.3 L896.4,1538.2 L897.6,1538.2 L898.9,1538.1 L900.1,1538.0 L901.3,1537.9 L902.6,1537.8 L903.8,1537.8 L905.0,1537.7 L906.3,1537.6 L907.5,1537.5 L908.7,1537.4 L909.9,1537.3 L911.2,1537.3 L912.4,1537.2 L913.6,1537.1 L914.9,1537.0 L916.1,1536.9 L917.3,1536.8 L918.5,1536.7 L919.8,1536.6 L921.0,1536.5 L922.2,1536.4 L923.5,1536.3 L924.7,1536.2 L925.9,1536.1 L927.2,1536.0 L928.4,1535.9 L929.6,1535.8 L930.8,1535.7 L932.1,1535.6 L933.3,1535.5 L934.5,1535.4 L935.8,1535.2 L937.0,1535.1 L938.2,1535.0 L939.4,1534.9 L940.7,1534.8 L941.9,1534.7 L943.1,1534.5 L944.4,1534.4 L945.6,1534.3 L946.8,1534.2 L948.1,1534.1 L949.3,1533.9 L950.5,1533.8 L951.7,1533.7 L953.0,1533.5 L954.2,1533.4 L955.4,1533.3 L956.7,1533.2 L957.9,1533.0 L959.1,1532.9 L960.3,1532.7 L961.6,1532.6 L962.8,1532.5 L964.0,1532.3 L965.3,1532.2 L966.5,1532.0 L967.7,1531.9 L969.0,1531.7 L970.2,1531.6 L971.4,1531.5 L972.6,1531.3 L973.9,1531.1 L975.1,1531.0 L976.3,1530.8 L977.6,1530.7 L978.8,1530.5 L980.0,1530.4 L981.3,1530.2 L982.5,1530.0 L983.7,1529.9 L984.9,1529.7 L986.2,1529.5 L987.4,1529.4 L988.6,1529.2 L989.9,1529.0 L991.1,1528.9 L992.3,1528.7 L993.5,1528.5 L994.8,1528.3 L996.0,1528.2 L997.2,1528.0 L998.5,1527.8 L999.7,1527.6 L1000.9,1527.4 L1002.2,1527.2 L1003.4,1527.0 L1004.6,1526.9 L1005.8,1526.7 L1007.1,1526.5 L1008.3,1526.3 L1009.5,1526.1 L1010.8,1525.9 L1012.0,1525.7 L1013.2,1525.5 L1014.4,1525.2 L1015.7,1525.0 L1016.9,1524.8 L1018.1,1524.6 L1019.4,1524.4 L1020.6,1524.2 L1021.8,1524.0 L1023.1,1523.7 L1024.3,1523.5 L1025.5,1523.3 L1026.7,1523.1 L1028.0,1522.8 L1029.2,1522.6 L1030.4,1522.3 L1031.7,1522.1 L1032.9,1521.9 L1034.1,1521.6 L1035.3,1521.4 L1036.6,1521.1 L1037.8,1520.9 L1039.0,1520.6 L1040.3,1520.4 L1041.5,1520.1 L1042.7,1519.8 L1044.0,1519.6 L1045.2,1519.3 L1046.4,1519.0 L1047.6,1518.7 L1048.9,1518.5 L1050.1,1518.2 L1051.3,1517.9 L1052.6,1517.6 L1053.8,1517.3 L1055.0,1517.0 L1056.2,1516.7 L1057.5,1516.4 L1058.7,1516.1 L1059.9,1515.8 L1061.2,1515.5 L1062.4,1515.2 L1063.6,1514.9 L1064.9,1514.5 L1066.1,1514.2 L1067.3,1513.9 L1068.5,1513.5 L1069.8,1513.2 L1071.0,1512.9 L1072.2,1512.5 L1073.5,1512.2 L1074.7,1511.8 L1075.9,1511.5 L1077.2,1511.1 L1078.4,1510.7 L1079.6,1510.4 L1080.8,1510.0 L1082.1,1509.6 L1083.3,1509.2 L1084.5,1508.9 L1085.8,1508.5 L1087.0,1508.1 L1088.2,1507.7 L1089.4,1507.3 L1090.7,1506.9 L1091.9,1506.4 L1093.1,1506.0 L1094.4,1505.6 L1095.6,1505.2 L1096.8,1504.7 L1098.1,1504.3 L1099.3,1503.9 L1100.5,1503.4 L1101.7,1503.0 L1103.0,1502.5 L1104.2,1502.1 L1105.4,1501.6 L1106.7,1501.1 L1107.9,1500.6 L1109.1,1500.2 L1110.3,1499.7 L1111.6,1499.2 L1112.8,1498.7 L1114.0,1498.2 L1115.3,1497.7 L1116.5,1497.2 L1117.7,1496.6 L1119.0,1496.1 L1120.2,1495.6 L1121.4,1495.0 L1122.6,1494.5 L1123.9,1494.0 L1125.1,1493.4 L1126.3,1492.8 L1127.6,1492.3 L1128.8,1491.7 L1130.0,1491.1 L1131.2,1490.5 L1132.5,1489.9 L1133.7,1489.3 L1134.9,1488.7 L1136.2,1488.1 L1137.4,1487.5 L1138.6,1486.9 L1139.9,1486.3 L1141.1,1485.6 L1142.3,1485.0 L1143.5,1484.3 L1144.8,1483.7 L1146.0,1483.0 L1147.2,1482.3 L1148.5,1481.7 L1149.7,1481.0 L1150.9,1480.3 L1152.1,1479.6 L1153.4,1478.9 L1154.6,1478.1 L1155.8,1477.4 L1157.1,1476.7 L1158.3,1476.0 L1159.5,1475.2 L1160.8,1474.5 L1162.0,1473.7 L1163.2,1472.9 L1164.4,1472.2 L1165.7,1471.4 L1166.9,1470.6 L1168.1,1469.8 L1169.4,1469.0 L1170.6,1468.1 L1171.8,1467.3 L1173.1,1466.5 L1174.3,1465.6 L1175.5,1464.8 L1176.7,1463.9 L1178.0,1463.1 L1179.2,1462.2 L1180.4,1461.3 L1181.7,1460.4 L1182.9,1459.5 L1184.1,1458.6 L1185.3,1457.6 L1186.6,1456.7 L1187.8,1455.8 L1189.0,1454.8 L1190.3,1453.8 L1191.5,1452.9 L1192.7,1451.9 L1194.0,1450.9 L1195.2,1449.9 L1196.4,1448.9 L1197.6,1447.9 L1198.9,1446.8 L1200.1,1445.8 L1201.3,1444.7 L1202.6,1443.7 L1203.8,1442.6 L1205.0,1441.5 L1206.2,1440.4 L1207.5,1439.3 L1208.7,1438.2 L1209.9,1437.0 L1211.2,1435.9 L1212.4,1434.7 L1213.6,1433.6 L1214.9,1432.4 L1216.1,1431.2 L1217.3,1430.0 L1218.5,1428.8 L1219.8,1427.5 L1221.0,1426.3 L1222.2,1425.0 L1223.5,1423.8 L1224.7,1422.5 L1225.9,1421.2 L1227.1,1419.9 L1228.4,1418.6 L1229.6,1417.3 L1230.8,1415.9 L1232.1,1414.6 L1233.3,1413.2 L1234.5,1411.8 L1235.8,1410.4 L1237.0,1409.0 L1238.2,1407.6 L1239.4,1406.2 L1240.7,1404.7 L1241.9,1403.3 L1243.1,1401.8 L1244.4,1400.3 L1245.6,1398.8 L1246.8,1397.3 L1248.0,1395.7 L1249.3,1394.2 L1250.5,1392.6 L1251.7,1391.0 L1253.0,1389.5 L1254.2,1387.9 L1255.4,1386.2 L1256.7,1384.6 L1257.9,1383.0 L1259.1,1381.3 L1260.3,1379.6 L1261.6,1377.9 L1262.8,1376.2 L1264.0,1374.5 L1265.3,1372.8 L1266.5,1371.0 L1267.7,1369.2 L1269.0,1367.5 L1270.2,1365.7 L1271.4,1363.8 L1272.6,1362.0 L1273.9,1360.2 L1275.1,1358.3 L1276.3,1356.4 L1277.6,1354.6 L1278.8,1352.6 L1280.0,1350.7 L1281.2,1348.8 L1282.5,1346.8 L1283.7,1344.9 L1284.9,1342.9 L1286.2,1340.9 L1287.4,1338.9 L1288.6,1336.9 L1289.9,1334.8 L1291.1,1332.8 L1292.3,1330.7 L1293.5,1328.6 L1294.8,1326.5 L1296.0,1324.4 L1297.2,1322.2 L1298.5,1320.1 L1299.7,1317.9 L1300.9,1315.7 L1302.1,1313.5 L1303.4,1311.3 L1304.6,1309.1 L1305.8,1306.8 L1307.1,1304.6 L1308.3,1302.3 L1309.5,1300.0 L1310.8,1297.7 L1312.0,1295.4 L1313.2,1293.0 L1314.4,1290.7 L1315.7,1288.3 L1316.9,1285.9 L1318.1,1283.5 L1319.4,1281.1 L1320.6,1278.7 L1321.8,1276.2 L1323.0,1273.8 L1324.3,1271.3 L1325.5,1268.8 L1326.7,1266.3 L1328.0,1263.8 L1329.2,1261.3 L1330.4,1258.7 L1331.7,1256.1 L1332.9,1253.6 L1334.1,1251.0 L1335.3,1248.4 L1336.6,1245.8 L1337.8,1243.1 L1339.0,1240.5 L1340.3,1237.8 L1341.5,1235.1 L1342.7,1232.4 L1343.9,1229.7 L1345.2,1227.0 L1346.4,1224.3 L1347.6,1221.5 L1348.9,1218.8 L1350.1,1216.0 L1351.3,1213.2 L1352.6,1210.4 L1353.8,1207.6 L1355.0,1204.8 L1356.2,1201.9 L1357.5,1199.1 L1358.7,1196.2 L1359.9,1193.3 L1361.2,1190.4 L1362.4,1187.5 L1363.6,1184.6 L1364.9,1181.7 L1366.1,1178.7 L1367.3,1175.8 L1368.5,1172.8 L1369.8,1169.8 L1371.0,1166.8 L1372.2,1163.8 L1373.5,1160.8 L1374.7,1157.8 L1375.9,1154.7 L1377.1,1151.7 L1378.4,1148.6 L1379.6,1145.5 L1380.8,1142.5 L1382.1,1139.4 L1383.3,1136.2 L1384.5,1133.1 L1385.8,1130.0 L1387.0,1126.9 L1388.2,1123.7 L1389.4,1120.6 L1390.7,1117.4 L1391.9,1114.2 L1393.1,1111.0 L1394.4,1107.8 L1395.6,1104.6 L1396.8,1101.4 L1398.0,1098.2 L1399.3,1094.9 L1400.5,1091.7 L1401.7,1088.4 L1403.0,1085.2 L1404.2,1081.9 L1405.4,1078.6 L1406.7,1075.3 L1407.9,1072.0 L1409.1,1068.7 L1410.3,1065.4 L1411.6,1062.1 L1412.8,1058.8 L1414.0,1055.5 L1415.3,1052.1 L1416.5,1048.8 L1417.7,1045.4 L1418.9,1042.0 L1420.2,1038.7 L1421.4,1035.3 L1422.6,1031.9 L1423.9,1028.5 L1425.1,1025.1 L1426.3,1021.7 L1427.6,1018.3 L1428.8,1014.9 L1430.0,1011.5 L1431.2,1008.1 L1432.5,1004.7 L1433.7,1001.2 L1434.9,997.8 L1436.2,994.4 L1437.4,990.9 L1438.6,987.5 L1439.8,984.0 L1441.1,980.6 L1442.3,977.1 L1443.5,973.6 L1444.8,970.2 L1446.0,966.7 L1447.2,963.2 L1448.5,959.8 L1449.7,956.3 L1450.9,952.8 L1452.1,949.3 L1453.4,945.8 L1454.6,942.3 L1455.8,938.9 L1457.1,935.4 L1458.3,931.9 L1459.5,928.4 L1460.8,924.9 L1462.0,921.4 L1463.2,917.9 L1464.4,914.4 L1465.7,910.9 L1466.9,907.4 L1468.1,903.9 L1469.4,900.4 L1470.6,896.9 L1471.8,893.4 L1473.0,889.9 L1474.3,886.4 L1475.5,882.9 L1476.7,879.4 L1478.0,875.9 L1479.2,872.4 L1480.4,869.0 L1481.7,865.5 L1482.9,862.0 L1484.1,858.5 L1485.3,855.0 L1486.6,851.5 L1487.8,848.0 L1489.0,844.6 L1490.3,841.1 L1491.5,837.6 L1492.7,834.2 L1493.9,830.7 L1495.2,827.2 L1496.4,823.8 L1497.6,820.3 L1498.9,816.9 L1500.1,813.4 L1501.3,810.0 L1502.6,806.5 L1503.8,803.1 L1505.0,799.7 L1506.2,796.2 L1507.5,792.8 L1508.7,789.4 L1509.9,786.0 L1511.2,782.6 L1512.4,779.2 L1513.6,775.8 L1514.8,772.4 L1516.1,769.0 L1517.3,765.6 L1518.5,762.2 L1519.8,758.9 L1521.0,755.5 L1522.2,752.1 L1523.5,748.8 L1524.7,745.4 L1525.9,742.1 L1527.1,738.8 L1528.4,735.4 L1529.6,732.1 L1530.8,728.8 L1532.1,725.5 L1533.3,722.2 L1534.5,718.9 L1535.7,715.6 L1537.0,712.4 L1538.2,709.1 L1539.4,705.8 L1540.7,702.6 L1541.9,699.3 L1543.1,696.1 L1544.4,692.9 L1545.6,689.6 L1546.8,686.4 L1548.0,683.2 L1549.3,680.0 L1550.5,676.8 L1551.7,673.7 L1553.0,670.5 L1554.2,667.3 L1555.4,664.2 L1556.7,661.0 L1557.9,657.9 L1559.1,654.8 L1560.3,651.7 L1561.6,648.5 L1562.8,645.4 L1564.0,642.4 L1565.3,639.3 L1566.5,636.2 L1567.7,633.1 L1568.9,630.1 L1570.2,627.1 L1571.4,624.0 L1572.6,621.0 L1573.9,618.0 L1575.1,615.0 L1576.3,612.0 L1577.6,609.0 L1578.8,606.0 L1580.0,603.1 L1581.2,600.1 L1582.5,597.2 L1583.7,594.3 L1584.9,591.3 L1586.2,588.4 L1587.4,585.5 L1588.6,582.6 L1589.8,579.8 L1591.1,576.9 L1592.3,574.0 L1593.5,571.2 L1594.8,568.4 L1596.0,565.5 L1597.2,562.7 L1598.5,559.9 L1599.7,557.1 L1600.9,554.3 L1602.1,551.6 L1603.4,548.8 L1604.6,546.1 L1605.8,543.3 L1607.1,540.6 L1608.3,537.9 L1609.5,535.2 L1610.7,532.5 L1612.0,529.8 L1613.2,527.2 L1614.4,524.5 L1615.7,521.8 L1616.9,519.2 L1618.1,516.6 L1619.4,514.0 L1620.6,511.4 L1621.8,508.8 L1623.0,506.2 L1624.3,503.6 L1625.5,501.1 L1626.7,498.5 L1628.0,496.0 L1629.2,493.5 L1630.4,491.0 L1631.6,488.5 L1632.9,486.0 L1634.1,483.5 L1635.3,481.1 L1636.6,478.6 L1637.8,476.2 L1639.0,473.8 L1640.3,471.3 L1641.5,468.9 L1642.7,466.5 L1643.9,464.2 L1645.2,461.8 L1646.4,459.4 L1647.6,457.1 L1648.9,454.8 L1650.1,452.4 L1651.3,450.1 L1652.6,447.8 L1653.8,445.5 L1655.0,443.3 L1656.2,441.0 L1657.5,438.7 L1658.7,436.5 L1659.9,434.3 L1661.2,432.0 L1662.4,429.8 L1663.6,427.6 L1664.8,425.5 L1666.1,423.3 L1667.3,421.1 L1668.5,419.0 L1669.8,416.8 L1671.0,414.7 L1672.2,412.6 L1673.5,410.5 L1674.7,408.4 L1675.9,406.3 L1677.1,404.2 L1678.4,402.2 L1679.6,400.1 L1680.8,398.1 L1682.1,396.1 L1683.3,394.1 L1684.5,392.1 L1685.7,390.1 L1687.0,388.1 L1688.2,386.1 L1689.4,384.2 L1690.7,382.2 L1691.9,380.3 L1693.1,378.4 L1694.4,376.5 L1695.6,374.5 L1696.8,372.7 L1698.0,370.8 L1699.3,368.9 L1700.5,367.1 L1701.7,365.2 L1703.0,363.4 L1704.2,361.5 L1705.4,359.7 L1706.6,357.9 L1707.9,356.1 L1709.1,354.3 L1710.3,352.6 L1711.6,350.8 L1712.8,349.1 L1714.0,347.3 L1715.3,345.6 L1716.5,343.9 L1717.7,342.2 L1718.9,340.5 L1720.2,338.8 L1721.4,337.1 L1722.6,335.4 L1723.9,333.8 L1725.1,332.1 L1726.3,330.5 L1727.5,328.9 L1728.8,327.2 L1730.0,325.6 L1731.2,324.0 L1732.5,322.4 L1733.7,320.9 L1734.9,319.3 L1736.2,317.7 L1737.4,316.2 L1738.6,314.6 L1739.8,313.1 L1741.1,311.6 L1742.3,310.1 L1743.5,308.6 L1744.8,307.1 L1746.0,305.6 L1747.2,304.1 L1748.5,302.7 L1749.7,301.2 L1750.9,299.8 L1752.1,298.3 L1753.4,296.9 L1754.6,295.5 L1755.8,294.1 L1757.1,292.7 L1758.3,291.3 L1759.5,289.9 L1760.7,288.5 L1762.0,287.2 L1763.2,285.8 L1764.4,284.5 L1765.7,283.1 L1766.9,281.8 L1768.1,280.5 L1769.4,279.2 L1770.6,277.8 L1771.8,276.5 L1773.0,275.3 L1774.3,274.0 L1775.5,272.7 L1776.7,271.4 L1778.0,270.2 L1779.2,268.9 L1780.4,267.7 L1781.6,266.4 L1782.9,265.2 L1784.1,264.0 L1785.3,262.8 L1786.6,261.6 L1787.8,260.4 L1789.0,259.2 L1790.3,258.0 L1791.5,256.8 L1792.7,255.7 L1793.9,254.5 L1795.2,253.4 L1796.4,252.2 L1797.6,251.1 L1798.9,249.9 L1800.1,248.8 L1801.3,247.7 L1802.5,246.6 L1803.8,245.5 L1805.0,244.4 L1806.2,243.3 L1807.5,242.2 L1808.7,241.1 L1809.9,240.1 L1811.2,239.0 L1812.4,237.9 L1813.6,236.9 L1814.8,235.8 L1816.1,234.8 L1817.3,233.8 L1818.5,232.8 L1819.8,231.7 L1821.0,230.7 L1822.2,229.7 L1823.4,228.7 L1824.7,227.7 L1825.9,226.7 L1827.1,225.7 L1828.4,224.8 L1829.6,223.8 L1830.8,222.8 L1832.1,221.9 L1833.3,220.9 L1834.5,220.0 L1835.7,219.0 L1837.0,218.1 L1838.2,217.2 L1839.4,216.2 L1840.7,215.3 L1841.9,214.4 L1843.1,213.5 L1844.4,212.6 L1845.6,211.7 L1846.8,210.8 L1848.0,209.9 L1849.3,209.1 L1850.5,208.2 L1851.7,207.3 L1853.0,206.4 L1854.2,205.6 L1855.4,204.7 L1856.6,203.9 L1857.9,203.0 L1859.1,202.2 L1860.3,201.4 L1861.6,200.5 L1862.8,199.7 L1864.0,198.9 L1865.3,198.1 L1866.5,197.3 L1867.7,196.5 L1868.9,195.7 L1870.2,194.9 L1871.4,194.1 L1872.6,193.3 L1873.9,192.5 L1875.1,191.8 L1876.3,191.0 L1877.5,190.2 L1878.8,189.5 L1880.0,188.7 L1881.2,188.0 L1882.5,187.2 L1883.7,186.5 L1884.9,185.7 L1886.2,185.0 L1887.4,184.3 L1888.6,183.6 L1889.8,182.9 L1891.1,182.1 L1892.3,181.4 L1893.5,180.7 L1894.8,180.0 L1896.0,179.3 L1897.2,178.7 L1898.4,178.0 L1899.7,177.3 L1900.9,176.6 L1902.1,175.9 L1903.4,175.3 L1904.6,174.6 L1905.8,173.9 L1907.1,173.3 L1908.3,172.6 L1909.5,172.0 L1910.7,171.4 L1912.0,170.7 L1913.2,170.1 L1914.4,169.5 L1915.7,168.8 L1916.9,168.2 L1918.1,167.6 L1919.3,167.0 L1920.6,166.4 L1921.8,165.8 L1923.0,165.2 L1924.3,164.6 L1925.5,164.0 L1926.7,163.4 L1928.0,162.8 L1929.2,162.2 L1930.4,161.7 L1931.6,161.1 L1932.9,160.5 L1934.1,160.0 L1935.3,159.4 L1936.6,158.9 L1937.8,158.3 L1939.0,157.8 L1940.3,157.2 L1941.5,156.7 L1942.7,156.1 L1943.9,155.6 L1945.2,155.1 L1946.4,154.6 L1947.6,154.0 L1948.9,153.5 L1950.1,153.0 L1951.3,152.5 L1952.5,152.0 L1953.8,151.5 L1955.0,151.0 L1956.2,150.5 L1957.5,150.0 L1958.7,149.5 L1959.9,149.0 L1961.2,148.6 L1962.4,148.1 L1963.6,147.6 L1964.8,147.1 L1966.1,146.7 L1967.3,146.2 L1968.5,145.7 L1969.8,145.3 L1971.0,144.8 L1972.2,144.4 L1973.4,143.9 L1974.7,143.5 L1975.9,143.0 L1977.1,142.6 L1978.4,142.2 L1979.6,141.7 L1980.8,141.3 L1982.1,140.9 L1983.3,140.5 L1984.5,140.1 L1985.7,139.6 L1987.0,139.2 L1988.2,138.8 L1989.4,138.4 L1990.7,138.0 L1991.9,137.6 L1993.1,137.2 L1994.3,136.8 L1995.6,136.4 L1996.8,136.0 L1998.0,135.7 L1999.3,135.3 L2000.5,134.9 L2001.7,134.5 L2003.0,134.1 L2004.2,133.8 L2005.4,133.4 L2006.6,133.0 L2007.9,132.7 L2009.1,132.3 L2010.3,131.9 L2011.6,131.6 L2012.8,131.2 L2014.0,130.9 L2015.2,130.5 L2016.5,130.2 L2017.7,129.8 L2018.9,129.5 L2020.2,129.2 L2021.4,128.8 L2022.6,128.5 L2023.9,128.2 L2025.1,127.8 L2026.3,127.5 L2027.5,127.2 L2028.8,126.8 L2030.0,126.5 L2031.2,126.2 L2032.5,125.9 L2033.7,125.6 L2034.9,125.3 L2036.2,125.0 L2037.4,124.6 L2038.6,124.3 L2039.8,124.0 L2041.1,123.7 L2042.3,123.4 L2043.5,123.1 L2044.8,122.8 L2046.0,122.5 L2047.2,122.2 L2048.4,122.0 L2049.7,121.7 L2050.9,121.4 L2052.1,121.1 L2053.4,120.8 L2054.6,120.5 L2055.8,120.3 L2057.1,120.0 L2058.3,119.7 L2059.5,119.4 L2060.7,119.2 L2062.0,118.9 L2063.2,118.6 L2064.4,118.3 L2065.7,118.1 L2066.9,117.8 L2068.1,117.6 L2069.3,117.3 L2070.6,117.0 L2071.8,116.8 L2073.0,116.5 L2074.3,116.3 L2075.5,116.0 L2076.7,115.8 L2078.0,115.5 L2079.2,115.3 L2080.4,115.0 L2081.6,114.8 L2082.9,114.5 L2084.1,114.3 L2085.3,114.1 L2086.6,113.8 L2087.8,113.6 L2089.0,113.4 L2090.2,113.1 L2091.5,112.9 L2092.7,112.7 L2093.9,112.4 L2095.2,112.2 L2096.4,112.0 L2097.6,111.8 L2098.9,111.5 L2100.1,111.3 L2101.3,111.1 L2102.5,110.9 L2103.8,110.7 L2105.0,110.4 L2106.2,110.2 L2107.5,110.0 L2108.7,109.8 L2109.9,109.6 L2111.1,109.4 L2112.4,109.2 L2113.6,109.0 L2114.8,108.8 L2116.1,108.6 L2117.3,108.4 L2118.5,108.2 L2119.8,108.0 L2121.0,107.8 L2122.2,107.6 L2123.4,107.4 L2124.7,107.2 L2125.9,107.0 L2127.1,106.8 L2128.4,106.6 L2129.6,106.4 L2130.8,106.2 L2132.1,106.1 L2133.3,105.9 L2134.5,105.7 L2135.7,105.5 L2137.0,105.3 L2138.2,105.2 L2139.4,105.0 L2140.7,104.8 L2141.9,104.6 L2143.1,104.5 L2144.3,104.3 L2145.6,104.1 L2146.8,103.9 L2148.0,103.8 L2149.3,103.6 L2150.5,103.4 L2151.7,103.3 L2153.0,103.1 L2154.2,102.9 L2155.4,102.8 L2156.6,102.6 L2157.9,102.5 L2159.1,102.3 L2160.3,102.1 L2161.6,102.0 L2162.8,101.8 L2164.0,101.7 L2165.2,101.5 L2166.5,101.4 L2167.7,101.2 L2168.9,101.1 L2170.2,100.9 L2171.4,100.8 L2172.6,100.6 L2173.9,100.5 L2175.1,100.4 L2176.3,100.2 L2177.5,100.1 L2178.8,99.9 L2180.0,99.8" fill="none" stroke="#000" stroke-width="10" stroke-linejoin="round" clip-path="url(#ca)"/>
<path d="M337.0,1541.0 L341.0,1541.0 L345.0,1541.0 L349.0,1541.0 L353.0,1541.0 L357.0,1541.0 L361.0,1541.0 L365.0,1541.0 L369.0,1541.0 L373.0,1541.0 L377.0,1541.0 L381.0,1541.0 L385.0,1541.0 L389.0,1541.0 L393.0,1541.0 L397.0,1541.0 L401.1,1541.0 L405.1,1541.0 L409.1,1541.0 L413.1,1541.0 L417.1,1541.0 L421.1,1541.0 L425.1,1541.0 L429.0,1540.9 L433.0,1540.8 L437.0,1540.7 L440.9,1540.5 L444.8,1540.2 L448.7,1539.8 L452.5,1539.2 L456.3,1538.4 L460.0,1537.5 L463.6,1536.4 L467.1,1535.0 L470.6,1533.5 L474.0,1531.7 L477.3,1529.8 L480.5,1527.7 L483.6,1525.4 L486.7,1523.0 L489.6,1520.4 L492.5,1517.7 L495.2,1515.0 L497.9,1512.1 L500.4,1509.1 L502.9,1506.0 L505.3,1502.8 L507.5,1499.6 L509.7,1496.3 L511.7,1492.9 L513.6,1489.5 L515.5,1486.0 L517.3,1482.4 L519.0,1478.8 L520.6,1475.2 L522.3,1471.6 L523.9,1467.9 L525.5,1464.3 L527.1,1460.7 L528.7,1457.0 L530.4,1453.4 L532.0,1449.8 L533.7,1446.1 L535.3,1442.5 L537.0,1438.9 L538.5,1435.3 L540.1,1431.6 L541.6,1427.9 L543.0,1424.2 L544.3,1420.4 L545.6,1416.7 L546.8,1412.9 L548.0,1409.1 L549.1,1405.3 L550.2,1401.4 L551.3,1397.6 L552.3,1393.7 L553.3,1389.8 L554.3,1385.9 L555.3,1382.1 L556.2,1378.2 L557.1,1374.3 L558.0,1370.4 L558.9,1366.5 L559.8,1362.6 L560.7,1358.7 L561.7,1354.8 L562.6,1350.9 L563.5,1347.0 L564.4,1343.1 L565.3,1339.2 L566.2,1335.3 L567.1,1331.4 L568.0,1327.5 L568.8,1323.6 L569.6,1319.7 L570.4,1315.8 L571.2,1311.8 L572.0,1307.9 L572.7,1304.0 L573.5,1300.1 L574.3,1296.1 L575.0,1292.2 L575.8,1288.3 L576.6,1284.3 L577.3,1280.4 L578.1,1276.5 L578.9,1272.6 L579.6,1268.6 L580.4,1264.7 L581.2,1260.8 L582.0,1256.8 L582.7,1252.9 L583.5,1249.0 L584.2,1245.1 L585.0,1241.1 L585.8,1237.2 L586.5,1233.3 L587.3,1229.3 L588.0,1225.4 L588.8,1221.5 L589.6,1217.5 L590.3,1213.6 L591.0,1209.7 L591.8,1205.7 L592.5,1201.8 L593.3,1197.9 L594.0,1193.9 L594.8,1190.0 L595.5,1186.1 L596.3,1182.1 L597.0,1178.2 L597.7,1174.3 L598.5,1170.3 L599.2,1166.4 L599.9,1162.5 L600.7,1158.5 L601.4,1154.6 L602.1,1150.7 L602.8,1146.7 L603.5,1142.8 L604.2,1138.8 L604.9,1134.9 L605.6,1131.0 L606.3,1127.0 L607.0,1123.1 L607.7,1119.1 L608.4,1115.2 L609.1,1111.2 L609.7,1107.3 L610.4,1103.3 L611.0,1099.4 L611.7,1095.4 L612.3,1091.5 L613.0,1087.5 L613.6,1083.6 L614.2,1079.6 L614.9,1075.7 L615.5,1071.7 L616.1,1067.8 L616.7,1063.8 L617.3,1059.8 L617.9,1055.9 L618.5,1051.9 L619.1,1048.0 L619.7,1044.0 L620.3,1040.1 L620.9,1036.1 L621.5,1032.1 L622.1,1028.2 L622.7,1024.2 L623.3,1020.3 L623.9,1016.3 L624.5,1012.3 L625.0,1008.4 L625.6,1004.4 L626.2,1000.5 L626.8,996.5 L627.4,992.5 L628.0,988.6 L628.5,984.6 L629.1,980.7 L629.7,976.7 L630.2,972.7 L630.8,968.8 L631.4,964.8 L632.0,960.8 L632.5,956.9 L633.1,952.9 L633.7,949.0 L634.2,945.0 L634.8,941.0 L635.4,937.1 L635.9,933.1 L636.5,929.1 L637.1,925.2 L637.6,921.2 L638.2,917.3 L638.8,913.3 L639.4,909.3 L639.9,905.4 L640.5,901.4 L641.1,897.5 L641.7,893.5 L642.3,889.5 L642.9,885.6 L643.5,881.6 L644.1,877.7 L644.7,873.7 L645.3,869.7 L645.9,865.8 L646.5,861.8 L647.1,857.9 L647.7,853.9 L648.3,850.0 L648.9,846.0 L649.5,842.0 L650.1,838.1 L650.7,834.1 L651.3,830.2 L651.9,826.2 L652.5,822.3 L653.2,818.3 L653.8,814.4 L654.4,810.4 L655.0,806.4 L655.6,802.5 L656.3,798.5 L656.9,794.6 L657.5,790.6 L658.1,786.7 L658.8,782.7 L659.4,778.8 L660.0,774.8 L660.7,770.9 L661.3,766.9 L661.9,763.0 L662.6,759.0 L663.2,755.1 L663.9,751.1 L664.5,747.1 L665.1,743.2 L665.8,739.2 L666.4,735.3 L667.0,731.3 L667.7,727.4 L668.3,723.4 L668.9,719.5 L669.6,715.5 L670.2,711.6 L670.8,707.6 L671.4,703.7 L672.0,699.7 L672.7,695.8 L673.3,691.8 L673.9,687.8 L674.5,683.9 L675.2,679.9 L675.8,676.0 L676.4,672.0 L677.0,668.1 L677.7,664.1 L678.3,660.2 L678.9,656.2 L679.5,652.3 L680.2,648.3 L680.8,644.3 L681.4,640.4 L682.0,636.4 L682.6,632.5 L683.3,628.5 L683.9,624.6 L684.5,620.6 L685.1,616.7 L685.7,612.7 L686.3,608.7 L686.9,604.8 L687.5,600.8 L688.0,596.9 L688.6,592.9 L689.2,588.9 L689.8,585.0 L690.3,581.0 L690.9,577.0 L691.4,573.1 L691.9,569.1 L692.5,565.1 L693.0,561.2 L693.5,557.2 L694.0,553.2 L694.5,549.3 L695.0,545.3 L695.5,541.3 L696.0,537.4 L696.5,533.4 L696.9,529.4 L697.4,525.4 L697.8,521.4 L698.2,517.5 L698.6,513.5 L699.0,509.5 L699.4,505.5 L699.8,501.5 L700.1,497.5 L700.5,493.5 L700.9,489.6 L701.2,485.6 L701.6,481.6 L702.0,477.6 L702.4,473.6 L702.8,469.6 L703.2,465.7 L703.6,461.7 L704.1,457.7 L704.6,453.8 L705.2,449.8 L705.8,445.8 L706.4,441.9 L707.1,438.0 L707.8,434.0 L708.5,430.1 L709.3,426.2 L710.0,422.3 L710.7,418.3 L711.5,414.4 L712.2,410.5 L712.8,406.5 L713.5,402.6 L714.2,398.6 L714.8,394.7 L715.4,390.7 L716.1,386.8 L716.8,382.8 L717.4,378.9 L718.1,375.0 L718.8,371.0 L719.6,367.1 L720.3,363.2 L721.0,359.2 L721.8,355.3 L722.5,351.4 L723.3,347.4 L724.1,343.5 L724.8,339.6 L725.6,335.6 L726.4,331.7 L727.2,327.8 L728.0,323.9 L728.9,320.0 L729.8,316.1 L730.7,312.2 L731.6,308.3 L732.6,304.4 L733.5,300.5 L734.5,296.6 L735.5,292.8 L736.5,288.9 L737.4,285.0 L738.4,281.1 L739.4,277.2 L740.3,273.3 L741.3,269.5 L742.3,265.6 L743.2,261.7 L744.2,257.8 L745.2,253.9 L746.1,250.0 L747.2,246.2 L748.2,242.3 L749.2,238.4 L750.3,234.6 L751.4,230.7 L752.5,226.9 L753.7,223.1 L754.9,219.3 L756.1,215.4 L757.3,211.6 L758.6,207.8 L759.9,204.1 L761.3,200.3 L762.7,196.6 L764.2,192.9 L765.8,189.3 L767.4,185.6 L769.2,182.1 L771.0,178.6 L772.9,175.1 L775.0,171.7 L777.1,168.4 L779.4,165.1 L781.7,161.9 L784.1,158.8 L786.6,155.7 L789.2,152.6 L791.8,149.6 L794.4,146.6 L797.1,143.7 L799.9,140.8 L802.7,137.9 L805.5,135.2 L808.4,132.4 L811.4,129.7 L814.4,127.1 L817.4,124.6 L820.5,122.1 L823.7,119.7 L826.9,117.4 L830.2,115.2 L833.6,113.1 L837.0,111.1 L840.5,109.2 L844.0,107.4 L847.6,105.8 L851.3,104.3 L855.0,102.9 L858.7,101.7 L862.5,100.6 L866.3,99.7 L870.2,98.8 L874.1,98.1 L878.0,97.5 L882.0,97.1 L885.9,96.7 L889.9,96.3 L893.9,96.1 L897.9,95.9 L901.8,95.8 L905.8,95.7 L909.8,95.6 L913.8,95.5 L917.8,95.4 L921.8,95.4 L925.9,95.3 L929.9,95.3 L933.9,95.3 L937.9,95.2 L941.9,95.2 L945.9,95.2 L949.9,95.2 L953.9,95.1 L957.9,95.1 L961.9,95.1 L965.9,95.1 L969.9,95.1 L973.9,95.0 L977.9,95.0 L981.9,95.0 L985.9,95.0 L989.9,95.0 L993.9,95.0 L997.9,95.0 L1001.9,95.0 L1005.9,95.0 L1009.9,95.0 L1013.9,95.0 L1017.9,95.0 L1021.9,95.0 L1025.9,95.0 L1029.9,95.0 L1033.9,95.0 L1037.9,95.0 L1041.9,95.0 L1045.9,95.0 L1049.9,95.0 L1054.0,95.0 L1058.0,95.0 L1062.0,95.1 L1066.0,95.1 L1070.0,95.1 L1074.0,95.1 L1078.0,95.1 L1082.0,95.1 L1086.0,95.1 L1090.0,95.1 L1094.0,95.1 L1098.0,95.1 L1102.0,95.1 L1106.0,95.2 L1110.0,95.2 L1114.0,95.2 L1118.0,95.2 L1122.0,95.2 L1126.0,95.2 L1130.0,95.2 L1134.0,95.3 L1138.0,95.3 L1142.0,95.3 L1146.0,95.3 L1150.0,95.3 L1154.0,95.4 L1158.0,95.4 L1162.0,95.4 L1166.0,95.4 L1170.0,95.4 L1174.0,95.5 L1178.0,95.5 L1182.1,95.5 L1186.1,95.6 L1190.1,95.6 L1194.1,95.6 L1198.1,95.6 L1202.1,95.7 L1206.1,95.7 L1210.1,95.7 L1214.1,95.8 L1218.1,95.8 L1222.1,95.9 L1226.1,96.0 L1230.1,96.1 L1234.1,96.2 L1238.1,96.3 L1242.1,96.5 L1246.1,96.7 L1250.1,96.9 L1254.0,97.2 L1258.0,97.6 L1262.0,98.0 L1266.0,98.4 L1269.9,98.9 L1273.9,99.5 L1277.8,100.1 L1281.8,100.8 L1285.7,101.6 L1289.6,102.4 L1293.5,103.3 L1297.4,104.2 L1301.2,105.2 L1305.1,106.3 L1308.9,107.4 L1312.7,108.5 L1316.6,109.6 L1320.4,110.8 L1324.2,111.9 L1328.1,113.0 L1331.9,114.2 L1335.8,115.2 L1339.6,116.3 L1343.5,117.3 L1347.4,118.3 L1351.3,119.3 L1355.1,120.2 L1359.0,121.1 L1362.9,122.0 L1366.8,122.9 L1370.8,123.7 L1374.7,124.6 L1378.6,125.4 L1382.5,126.3 L1386.4,127.2 L1390.2,128.1 L1394.1,129.1 L1397.9,130.2 L1401.7,131.3 L1405.5,132.6 L1409.3,133.9 L1413.0,135.3 L1416.6,136.9 L1420.2,138.5 L1423.8,140.2 L1427.4,141.9 L1430.9,143.7 L1434.5,145.5 L1438.0,147.4 L1441.6,149.1 L1445.2,150.9 L1448.8,152.6 L1452.4,154.3 L1456.0,155.9 L1459.7,157.5 L1463.4,159.1 L1467.1,160.6 L1470.8,162.1 L1474.4,163.6 L1478.1,165.2 L1481.8,166.7 L1485.5,168.3 L1489.2,169.9 L1492.8,171.5 L1496.5,173.2 L1500.1,174.9 L1503.7,176.6 L1507.3,178.3 L1510.9,180.0 L1514.6,181.7 L1518.2,183.3 L1521.8,185.0 L1525.5,186.6 L1529.2,188.2 L1532.8,189.7 L1536.5,191.3 L1540.2,192.8 L1543.9,194.3 L1547.7,195.8 L1551.4,197.3 L1555.1,198.7 L1558.8,200.2 L1562.5,201.7 L1566.2,203.2 L1570.0,204.7 L1573.7,206.2 L1577.4,207.7 L1581.0,209.3 L1584.7,210.9 L1588.4,212.4 L1592.0,214.1 L1595.7,215.7 L1599.3,217.4 L1602.9,219.1 L1606.5,220.9 L1610.1,222.6 L1613.7,224.4 L1617.3,226.2 L1620.9,227.9 L1624.5,229.7 L1628.1,231.4 L1631.7,233.2 L1635.3,234.9 L1638.9,236.6 L1642.6,238.2 L1646.2,239.8 L1649.9,241.4 L1653.6,243.0 L1657.3,244.5 L1661.0,246.0 L1664.7,247.6 L1668.4,249.1 L1672.1,250.6 L1675.8,252.1 L1679.5,253.7 L1683.1,255.3 L1686.8,256.9 L1690.4,258.6 L1694.0,260.3 L1697.6,262.1 L1701.2,263.8 L1704.7,265.6 L1708.3,267.4 L1711.9,269.2 L1715.5,271.0 L1719.1,272.7 L1722.7,274.5 L1726.3,276.1 L1729.9,277.8 L1733.6,279.4 L1737.3,280.9 L1741.0,282.4 L1744.7,283.9 L1748.4,285.3 L1752.2,286.7 L1755.9,288.1 L1759.7,289.4 L1763.5,290.7 L1767.3,292.0 L1771.1,293.2 L1774.9,294.4 L1778.8,295.5 L1782.6,296.6 L1786.4,297.7 L1790.3,298.8 L1794.1,299.9 L1797.9,301.1 L1801.8,302.2 L1805.6,303.4 L1809.4,304.7 L1813.1,306.0 L1816.9,307.3 L1820.7,308.7 L1824.4,310.1 L1828.1,311.5 L1831.9,312.9 L1835.6,314.4 L1839.3,315.8 L1843.1,317.2 L1846.8,318.6 L1850.6,320.0 L1854.4,321.4 L1858.1,322.7 L1861.9,324.0 L1865.7,325.3 L1869.5,326.6 L1873.2,327.9 L1877.0,329.3 L1880.8,330.6 L1884.6,331.9 L1888.3,333.3 L1892.1,334.6 L1895.9,336.0 L1899.6,337.4 L1903.3,338.8 L1907.1,340.2 L1910.8,341.6 L1914.6,343.0 L1918.3,344.4 L1922.1,345.8 L1925.9,347.2 L1929.6,348.5 L1933.4,349.9 L1937.1,351.3 L1940.9,352.6 L1944.6,354.0 L1948.4,355.4 L1952.1,356.9 L1955.9,358.3 L1959.6,359.7 L1963.3,361.2 L1967.1,362.6 L1970.8,364.1 L1974.5,365.5 L1978.3,366.9 L1982.0,368.4 L1985.8,369.7 L1989.5,371.1 L1993.3,372.5 L1997.1,373.8 L2000.8,375.1 L2004.6,376.5 L2008.4,377.8 L2012.2,379.1 L2016.0,380.4 L2019.7,381.7 L2023.5,383.0 L2027.3,384.4 L2031.0,385.7 L2034.8,387.1 L2038.6,388.5 L2042.3,389.9 L2046.1,391.3 L2049.8,392.7 L2053.5,394.2 L2057.3,395.6 L2061.0,397.1 L2064.7,398.5 L2068.5,400.0 L2072.2,401.4 L2075.9,402.8 L2079.7,404.1 L2083.5,405.5 L2087.2,406.8 L2091.0,408.1 L2094.8,409.4 L2098.6,410.7 L2102.4,412.0 L2106.2,413.3 L2109.9,414.7 L2113.7,416.0 L2117.5,417.3 L2121.2,418.7 L2125.0,420.1 L2128.7,421.5 L2132.5,423.0 L2136.2,424.4 L2139.9,425.9 L2143.6,427.4 L2147.3,429.0 L2151.0,430.5 L2154.7,432.1 L2158.3,433.7 L2161.9,435.4 L2165.6,437.1 L2169.2,438.8 L2172.8,440.5 L2176.4,442.2 L2180.0,444.0 L2180.0,444.0" fill="none" stroke="#4b0092" stroke-width="10" stroke-linejoin="round" clip-path="url(#ca)"/>
<g clip-path="url(#ca)">
<path d="M336.4 1513.0h5.0v5.3h-5.0zM331.4 1518.0h15.0v5.3h-15.0zM326.4 1523.0h25.0v5.3h-25.0zM321.4 1528.0h35.0v5.3h-35.0zM316.4 1533.0h45.0v5.3h-45.0zM316.4 1538.0h45.0v5.3h-45.0zM321.4 1543.0h35.0v5.3h-35.0zM326.4 1548.0h25.0v5.3h-25.0zM331.4 1553.0h15.0v5.3h-15.0zM336.4 1558.0h5.0v5.3h-5.0z" fill="#4b0092"/>
<path d="M444.5 1511.0h5.0v5.3h-5.0zM439.5 1516.0h15.0v5.3h-15.0zM434.5 1521.0h25.0v5.3h-25.0zM429.5 1526.0h35.0v5.3h-35.0zM424.5 1531.0h45.0v5.3h-45.0zM424.5 1536.0h45.0v5.3h-45.0zM429.5 1541.0h35.0v5.3h-35.0zM434.5 1546.0h25.0v5.3h-25.0zM439.5 1551.0h15.0v5.3h-15.0zM444.5 1556.0h5.0v5.3h-5.0z" fill="#4b0092"/>
<path d="M552.5 1363.0h5.0v5.3h-5.0zM547.5 1368.0h15.0v5.3h-15.0zM542.5 1373.0h25.0v5.3h-25.0zM537.5 1378.0h35.0v5.3h-35.0zM532.5 1383.0h45.0v5.3h-45.0zM532.5 1388.0h45.0v5.3h-45.0zM537.5 1393.0h35.0v5.3h-35.0zM542.5 1398.0h25.0v5.3h-25.0zM547.5 1403.0h15.0v5.3h-15.0zM552.5 1408.0h5.0v5.3h-5.0z" fill="#4b0092"/>
<path d="M662.0 766.0h5.0v5.3h-5.0zM657.0 771.0h15.0v5.3h-15.0zM652.0 776.0h25.0v5.3h-25.0zM647.0 781.0h35.0v5.3h-35.0zM642.0 786.0h45.0v5.3h-45.0zM642.0 791.0h45.0v5.3h-45.0zM647.0 796.0h35.0v5.3h-35.0zM652.0 801.0h25.0v5.3h-25.0zM657.0 806.0h15.0v5.3h-15.0zM662.0 811.0h5.0v5.3h-5.0z" fill="#4b0092"/>
<path d="M767.0 186.0h5.0v5.3h-5.0zM762.0 191.0h15.0v5.3h-15.0zM757.0 196.0h25.0v5.3h-25.0zM752.0 201.0h35.0v5.3h-35.0zM747.0 206.0h45.0v5.3h-45.0zM747.0 211.0h45.0v5.3h-45.0zM752.0 216.0h35.0v5.3h-35.0zM757.0 221.0h25.0v5.3h-25.0zM762.0 226.0h15.0v5.3h-15.0zM767.0 231.0h5.0v5.3h-5.0z" fill="#4b0092"/>
<path d="M877.0 72.0h5.0v5.3h-5.0zM872.0 77.0h15.0v5.3h-15.0zM867.0 82.0h25.0v5.3h-25.0zM862.0 87.0h35.0v5.3h-35.0zM857.0 92.0h45.0v5.3h-45.0zM857.0 97.0h45.0v5.3h-45.0zM862.0 102.0h35.0v5.3h-35.0zM867.0 107.0h25.0v5.3h-25.0zM872.0 112.0h15.0v5.3h-15.0zM877.0 117.0h5.0v5.3h-5.0z" fill="#4b0092"/>
<path d="M1094.5 73.0h5.0v5.3h-5.0zM1089.5 78.0h15.0v5.3h-15.0zM1084.5 83.0h25.0v5.3h-25.0zM1079.5 88.0h35.0v5.3h-35.0zM1074.5 93.0h45.0v5.3h-45.0zM1074.5 98.0h45.0v5.3h-45.0zM1079.5 103.0h35.0v5.3h-35.0zM1084.5 108.0h25.0v5.3h-25.0zM1089.5 113.0h15.0v5.3h-15.0zM1094.5 118.0h5.0v5.3h-5.0z" fill="#4b0092"/>
<path d="M1311.5 75.0h5.0v5.3h-5.0zM1306.5 80.0h15.0v5.3h-15.0zM1301.5 85.0h25.0v5.3h-25.0zM1296.5 90.0h35.0v5.3h-35.0zM1291.5 95.0h45.0v5.3h-45.0zM1291.5 100.0h45.0v5.3h-45.0zM1296.5 105.0h35.0v5.3h-35.0zM1301.5 110.0h25.0v5.3h-25.0zM1306.5 115.0h15.0v5.3h-15.0zM1311.5 120.0h5.0v5.3h-5.0z" fill="#4b0092"/>
<path d="M1525.5 271.0h5.0v5.3h-5.0zM1520.5 276.0h15.0v5.3h-15.0zM1515.5 281.0h25.0v5.3h-25.0zM1510.5 286.0h35.0v5.3h-35.0zM1505.5 291.0h45.0v5.3h-45.0zM1505.5 296.0h45.0v5.3h-45.0zM1510.5 301.0h35.0v5.3h-35.0zM1515.5 306.0h25.0v5.3h-25.0zM1520.5 311.0h15.0v5.3h-15.0zM1525.5 316.0h5.0v5.3h-5.0z" fill="#4b0092"/>
<path d="M1741.5 258.5h5.0v5.3h-5.0zM1736.5 263.5h15.0v5.3h-15.0zM1731.5 268.5h25.0v5.3h-25.0zM1726.5 273.5h35.0v5.3h-35.0zM1721.5 278.5h45.0v5.3h-45.0zM1721.5 283.5h45.0v5.3h-45.0zM1726.5 288.5h35.0v5.3h-35.0zM1731.5 293.5h25.0v5.3h-25.0zM1736.5 298.5h15.0v5.3h-15.0zM1741.5 303.5h5.0v5.3h-5.0z" fill="#4b0092"/>
<path d="M1959.5 313.6h5.0v5.3h-5.0zM1954.5 318.6h15.0v5.3h-15.0zM1949.5 323.6h25.0v5.3h-25.0zM1944.5 328.6h35.0v5.3h-35.0zM1939.5 333.6h45.0v5.3h-45.0zM1939.5 338.6h45.0v5.3h-45.0zM1944.5 343.6h35.0v5.3h-35.0zM1949.5 348.6h25.0v5.3h-25.0zM1954.5 353.6h15.0v5.3h-15.0zM1959.5 358.6h5.0v5.3h-5.0z" fill="#4b0092"/>
</g>
<g clip-path="url(#cb)">
<path d="M1082.0 3385.5h35.0v5.3h-35.0zM1082.0 3390.5h35.0v5.3h-35.0zM1082.0 3395.5h35.0v5.3h-35.0zM1082.0 3400.5h35.0v5.3h-35.0zM1082.0 3405.5h35.0v5.3h-35.0zM1082.0 3410.5h35.0v5.3h-35.0zM1082.0 3415.5h35.0v5.3h-35.0z" fill="#000"/>
<path d="M1297.0 3185.5h35.0v5.3h-35.0zM1297.0 3190.5h35.0v5.3h-35.0zM1297.0 3195.5h35.0v5.3h-35.0zM1297.0 3200.5h35.0v5.3h-35.0zM1297.0 3205.5h35.0v5.3h-35.0zM1297.0 3210.5h35.0v5.3h-35.0zM1297.0 3215.5h35.0v5.3h-35.0z" fill="#000"/>
<path d="M1512.0 2965.5h35.0v5.3h-35.0zM1512.0 2970.5h35.0v5.3h-35.0zM1512.0 2975.5h35.0v5.3h-35.0zM1512.0 2980.5h35.0v5.3h-35.0zM1512.0 2985.5h35.0v5.3h-35.0zM1512.0 2990.5h35.0v5.3h-35.0zM1512.0 2995.5h35.0v5.3h-35.0z" fill="#000"/>
<path d="M1731.5 3279.5h35.0v5.3h-35.0zM1731.5 3284.5h35.0v5.3h-35.0zM1731.5 3289.5h35.0v5.3h-35.0zM1731.5 3294.5h35.0v5.3h-35.0zM1731.5 3299.5h35.0v5.3h-35.0zM1731.5 3304.5h35.0v5.3h-35.0zM1731.5 3309.5h35.0v5.3h-35.0z" fill="#000"/>
<path d="M1947.5 3442.5h35.0v5.3h-35.0zM1947.5 3447.5h35.0v5.3h-35.0zM1947.5 3452.5h35.0v5.3h-35.0zM1947.5 3457.5h35.0v5.3h-35.0zM1947.5 3462.5h35.0v5.3h-35.0zM1947.5 3467.5h35.0v5.3h-35.0zM1947.5 3472.5h35.0v5.3h-35.0z" fill="#000"/>
<path d="M2164.5 3444.5h35.0v5.3h-35.0zM2164.5 3449.5h35.0v5.3h-35.0zM2164.5 3454.5h35.0v5.3h-35.0zM2164.5 3459.5h35.0v5.3h-35.0zM2164.5 3464.5h35.0v5.3h-35.0zM2164.5 3469.5h35.0v5.3h-35.0zM2164.5 3474.5h35.0v5.3h-35.0z" fill="#000"/>
</g>
<g clip-path="url(#cb)">
<path d="M654.0 3440.0h20.0v5.3h-20.0zM649.0 3445.0h30.0v5.3h-30.0zM644.0 3450.0h40.0v5.3h-40.0zM644.0 3455.0h40.0v5.3h-40.0zM644.0 3460.0h40.0v5.3h-40.0zM644.0 3465.0h40.0v5.3h-40.0zM649.0 3470.0h30.0v5.3h-30.0zM654.0 3475.0h20.0v5.3h-20.0z" fill="#ee0000"/>
<path d="M762.0 3249.0h20.0v5.3h-20.0zM757.0 3254.0h30.0v5.3h-30.0zM752.0 3259.0h40.0v5.3h-40.0zM752.0 3264.0h40.0v5.3h-40.0zM752.0 3269.0h40.0v5.3h-40.0zM752.0 3274.0h40.0v5.3h-40.0zM757.0 3279.0h30.0v5.3h-30.0zM762.0 3284.0h20.0v5.3h-20.0z" fill="#ee0000"/>
<path d="M870.0 3055.0h20.0v5.3h-20.0zM865.0 3060.0h30.0v5.3h-30.0zM860.0 3065.0h40.0v5.3h-40.0zM860.0 3070.0h40.0v5.3h-40.0zM860.0 3075.0h40.0v5.3h-40.0zM860.0 3080.0h40.0v5.3h-40.0zM865.0 3085.0h30.0v5.3h-30.0zM870.0 3090.0h20.0v5.3h-20.0z" fill="#ee0000"/>
<path d="M1087.0 3166.0h20.0v5.3h-20.0zM1082.0 3171.0h30.0v5.3h-30.0zM1077.0 3176.0h40.0v5.3h-40.0zM1077.0 3181.0h40.0v5.3h-40.0zM1077.0 3186.0h40.0v5.3h-40.0zM1077.0 3191.0h40.0v5.3h-40.0zM1082.0 3196.0h30.0v5.3h-30.0zM1087.0 3201.0h20.0v5.3h-20.0z" fill="#ee0000"/>
<path d="M1304.5 3428.0h20.0v5.3h-20.0zM1299.5 3433.0h30.0v5.3h-30.0zM1294.5 3438.0h40.0v5.3h-40.0zM1294.5 3443.0h40.0v5.3h-40.0zM1294.5 3448.0h40.0v5.3h-40.0zM1294.5 3453.0h40.0v5.3h-40.0zM1299.5 3458.0h30.0v5.3h-30.0zM1304.5 3463.0h20.0v5.3h-20.0z" fill="#ee0000"/>
<path d="M1522.0 3388.0h20.0v5.3h-20.0zM1517.0 3393.0h30.0v5.3h-30.0zM1512.0 3398.0h40.0v5.3h-40.0zM1512.0 3403.0h40.0v5.3h-40.0zM1512.0 3408.0h40.0v5.3h-40.0zM1512.0 3413.0h40.0v5.3h-40.0zM1517.0 3418.0h30.0v5.3h-30.0zM1522.0 3423.0h20.0v5.3h-20.0z" fill="#ee0000"/>
<path d="M1739.0 3265.0h20.0v5.3h-20.0zM1734.0 3270.0h30.0v5.3h-30.0zM1729.0 3275.0h40.0v5.3h-40.0zM1729.0 3280.0h40.0v5.3h-40.0zM1729.0 3285.0h40.0v5.3h-40.0zM1729.0 3290.0h40.0v5.3h-40.0zM1734.0 3295.0h30.0v5.3h-30.0zM1739.0 3300.0h20.0v5.3h-20.0z" fill="#ee0000"/>
<path d="M1958.0 3328.0h20.0v5.3h-20.0zM1953.0 3333.0h30.0v5.3h-30.0zM1948.0 3338.0h40.0v5.3h-40.0zM1948.0 3343.0h40.0v5.3h-40.0zM1948.0 3348.0h40.0v5.3h-40.0zM1948.0 3353.0h40.0v5.3h-40.0zM1953.0 3358.0h30.0v5.3h-30.0zM1958.0 3363.0h20.0v5.3h-20.0z" fill="#ee0000"/>
</g>
<g clip-path="url(#cb)">
<path d="M552.0 3439.5h5.0v5.3h-5.0zM547.0 3444.5h15.0v5.3h-15.0zM542.0 3449.5h25.0v5.3h-25.0zM537.0 3454.5h35.0v5.3h-35.0zM532.0 3459.5h45.0v5.3h-45.0zM537.0 3464.5h35.0v5.3h-35.0zM542.0 3469.5h25.0v5.3h-25.0zM547.0 3474.5h15.0v5.3h-15.0zM552.0 3479.5h5.0v5.3h-5.0z" fill="#cc6600"/>
<path d="M662.0 3418.5h5.0v5.3h-5.0zM657.0 3423.5h15.0v5.3h-15.0zM652.0 3428.5h25.0v5.3h-25.0zM647.0 3433.5h35.0v5.3h-35.0zM642.0 3438.5h45.0v5.3h-45.0zM647.0 3443.5h35.0v5.3h-35.0zM652.0 3448.5h25.0v5.3h-25.0zM657.0 3453.5h15.0v5.3h-15.0zM662.0 3458.5h5.0v5.3h-5.0z" fill="#cc6600"/>
<path d="M769.5 3218.5h5.0v5.3h-5.0zM764.5 3223.5h15.0v5.3h-15.0zM759.5 3228.5h25.0v5.3h-25.0zM754.5 3233.5h35.0v5.3h-35.0zM749.5 3238.5h45.0v5.3h-45.0zM754.5 3243.5h35.0v5.3h-35.0zM759.5 3248.5h25.0v5.3h-25.0zM764.5 3253.5h15.0v5.3h-15.0zM769.5 3258.5h5.0v5.3h-5.0z" fill="#cc6600"/>
<path d="M877.5 3019.5h5.0v5.3h-5.0zM872.5 3024.5h15.0v5.3h-15.0zM867.5 3029.5h25.0v5.3h-25.0zM862.5 3034.5h35.0v5.3h-35.0zM857.5 3039.5h45.0v5.3h-45.0zM862.5 3044.5h35.0v5.3h-35.0zM867.5 3049.5h25.0v5.3h-25.0zM872.5 3054.5h15.0v5.3h-15.0zM877.5 3059.5h5.0v5.3h-5.0z" fill="#cc6600"/>
<path d="M1097.0 2991.0h5.0v5.3h-5.0zM1092.0 2996.0h15.0v5.3h-15.0zM1087.0 3001.0h25.0v5.3h-25.0zM1082.0 3006.0h35.0v5.3h-35.0zM1077.0 3011.0h45.0v5.3h-45.0zM1082.0 3016.0h35.0v5.3h-35.0zM1087.0 3021.0h25.0v5.3h-25.0zM1092.0 3026.0h15.0v5.3h-15.0zM1097.0 3031.0h5.0v5.3h-5.0z" fill="#cc6600"/>
<path d="M1312.0 3358.5h5.0v5.3h-5.0zM1307.0 3363.5h15.0v5.3h-15.0zM1302.0 3368.5h25.0v5.3h-25.0zM1297.0 3373.5h35.0v5.3h-35.0zM1292.0 3378.5h45.0v5.3h-45.0zM1297.0 3383.5h35.0v5.3h-35.0zM1302.0 3388.5h25.0v5.3h-25.0zM1307.0 3393.5h15.0v5.3h-15.0zM1312.0 3398.5h5.0v5.3h-5.0z" fill="#cc6600"/>
<path d="M1529.5 3405.0h5.0v5.3h-5.0zM1524.5 3410.0h15.0v5.3h-15.0zM1519.5 3415.0h25.0v5.3h-25.0zM1514.5 3420.0h35.0v5.3h-35.0zM1509.5 3425.0h45.0v5.3h-45.0zM1514.5 3430.0h35.0v5.3h-35.0zM1519.5 3435.0h25.0v5.3h-25.0zM1524.5 3440.0h15.0v5.3h-15.0zM1529.5 3445.0h5.0v5.3h-5.0z" fill="#cc6600"/>
<path d="M1746.5 3375.5h5.0v5.3h-5.0zM1741.5 3380.5h15.0v5.3h-15.0zM1736.5 3385.5h25.0v5.3h-25.0zM1731.5 3390.5h35.0v5.3h-35.0zM1726.5 3395.5h45.0v5.3h-45.0zM1731.5 3400.5h35.0v5.3h-35.0zM1736.5 3405.5h25.0v5.3h-25.0zM1741.5 3410.5h15.0v5.3h-15.0zM1746.5 3415.5h5.0v5.3h-5.0z" fill="#cc6600"/>
<path d="M1962.5 3403.5h5.0v5.3h-5.0zM1957.5 3408.5h15.0v5.3h-15.0zM1952.5 3413.5h25.0v5.3h-25.0zM1947.5 3418.5h35.0v5.3h-35.0zM1942.5 3423.5h45.0v5.3h-45.0zM1947.5 3428.5h35.0v5.3h-35.0zM1952.5 3433.5h25.0v5.3h-25.0zM1957.5 3438.5h15.0v5.3h-15.0zM1962.5 3443.5h5.0v5.3h-5.0z" fill="#cc6600"/>
</g>
<g clip-path="url(#cb)">
<path d="M532.5 3370.5h45.0v5.3h-45.0zM537.5 3375.5h40.0v5.3h-40.0zM542.5 3380.5h30.0v5.3h-30.0zM542.5 3385.5h25.0v5.3h-25.0zM547.5 3390.5h20.0v5.3h-20.0zM547.5 3395.5h15.0v5.3h-15.0zM552.5 3400.5h10.0v5.3h-10.0z" fill="#3cc373"/>
<path d="M645.5 3300.5h45.0v5.3h-45.0zM650.5 3305.5h40.0v5.3h-40.0zM655.5 3310.5h30.0v5.3h-30.0zM655.5 3315.5h25.0v5.3h-25.0zM660.5 3320.5h20.0v5.3h-20.0zM660.5 3325.5h15.0v5.3h-15.0zM665.5 3330.5h10.0v5.3h-10.0z" fill="#3cc373"/>
<path d="M752.5 2992.5h45.0v5.3h-45.0zM757.5 2997.5h40.0v5.3h-40.0zM762.5 3002.5h30.0v5.3h-30.0zM762.5 3007.5h25.0v5.3h-25.0zM767.5 3012.5h20.0v5.3h-20.0zM767.5 3017.5h15.0v5.3h-15.0zM772.5 3022.5h10.0v5.3h-10.0z" fill="#3cc373"/>
<path d="M857.5 2610.5h45.0v5.3h-45.0zM862.5 2615.5h40.0v5.3h-40.0zM867.5 2620.5h30.0v5.3h-30.0zM867.5 2625.5h25.0v5.3h-25.0zM872.5 2630.5h20.0v5.3h-20.0zM872.5 2635.5h15.0v5.3h-15.0zM877.5 2640.5h10.0v5.3h-10.0z" fill="#3cc373"/>
<path d="M1077.5 2782.5h45.0v5.3h-45.0zM1082.5 2787.5h40.0v5.3h-40.0zM1087.5 2792.5h30.0v5.3h-30.0zM1087.5 2797.5h25.0v5.3h-25.0zM1092.5 2802.5h20.0v5.3h-20.0zM1092.5 2807.5h15.0v5.3h-15.0zM1097.5 2812.5h10.0v5.3h-10.0z" fill="#3cc373"/>
<path d="M1289.5 3115.5h45.0v5.3h-45.0zM1294.5 3120.5h40.0v5.3h-40.0zM1299.5 3125.5h30.0v5.3h-30.0zM1299.5 3130.5h25.0v5.3h-25.0zM1304.5 3135.5h20.0v5.3h-20.0zM1304.5 3140.5h15.0v5.3h-15.0zM1309.5 3145.5h10.0v5.3h-10.0z" fill="#3cc373"/>
<path d="M1508.5 3107.5h45.0v5.3h-45.0zM1513.5 3112.5h40.0v5.3h-40.0zM1518.5 3117.5h30.0v5.3h-30.0zM1518.5 3122.5h25.0v5.3h-25.0zM1523.5 3127.5h20.0v5.3h-20.0zM1523.5 3132.5h15.0v5.3h-15.0zM1528.5 3137.5h10.0v5.3h-10.0z" fill="#3cc373"/>
<path d="M1727.0 3123.5h45.0v5.3h-45.0zM1732.0 3128.5h40.0v5.3h-40.0zM1737.0 3133.5h30.0v5.3h-30.0zM1737.0 3138.5h25.0v5.3h-25.0zM1742.0 3143.5h20.0v5.3h-20.0zM1742.0 3148.5h15.0v5.3h-15.0zM1747.0 3153.5h10.0v5.3h-10.0z" fill="#3cc373"/>
<path d="M1944.1 3302.5h45.0v5.3h-45.0zM1949.1 3307.5h40.0v5.3h-40.0zM1954.1 3312.5h30.0v5.3h-30.0zM1954.1 3317.5h25.0v5.3h-25.0zM1959.1 3322.5h20.0v5.3h-20.0zM1959.1 3327.5h15.0v5.3h-15.0zM1964.1 3332.5h10.0v5.3h-10.0z" fill="#3cc373"/>
</g>
<g clip-path="url(#cb)">
<path d="M659.5 3338.0h10.0v5.3h-10.0zM659.5 3343.0h10.0v5.3h-10.0zM654.5 3348.0h20.0v5.3h-20.0zM649.5 3353.0h25.0v5.3h-25.0zM649.5 3358.0h30.0v5.3h-30.0zM644.5 3363.0h35.0v5.3h-35.0zM644.5 3368.0h40.0v5.3h-40.0zM644.5 3373.0h40.0v5.3h-40.0z" fill="#336699"/>
<path d="M767.0 3156.0h10.0v5.3h-10.0zM767.0 3161.0h10.0v5.3h-10.0zM762.0 3166.0h20.0v5.3h-20.0zM757.0 3171.0h25.0v5.3h-25.0zM757.0 3176.0h30.0v5.3h-30.0zM752.0 3181.0h35.0v5.3h-35.0zM752.0 3186.0h40.0v5.3h-40.0zM752.0 3191.0h40.0v5.3h-40.0z" fill="#336699"/>
<path d="M877.0 2936.0h10.0v5.3h-10.0zM877.0 2941.0h10.0v5.3h-10.0zM872.0 2946.0h20.0v5.3h-20.0zM867.0 2951.0h25.0v5.3h-25.0zM867.0 2956.0h30.0v5.3h-30.0zM862.0 2961.0h35.0v5.3h-35.0zM862.0 2966.0h40.0v5.3h-40.0zM862.0 2971.0h40.0v5.3h-40.0z" fill="#336699"/>
<path d="M1094.5 2948.0h10.0v5.3h-10.0zM1094.5 2953.0h10.0v5.3h-10.0zM1089.5 2958.0h20.0v5.3h-20.0zM1084.5 2963.0h25.0v5.3h-25.0zM1084.5 2968.0h30.0v5.3h-30.0zM1079.5 2973.0h35.0v5.3h-35.0zM1079.5 2978.0h40.0v5.3h-40.0zM1079.5 2983.0h40.0v5.3h-40.0z" fill="#336699"/>
<path d="M1312.0 3266.0h10.0v5.3h-10.0zM1312.0 3271.0h10.0v5.3h-10.0zM1307.0 3276.0h20.0v5.3h-20.0zM1302.0 3281.0h25.0v5.3h-25.0zM1302.0 3286.0h30.0v5.3h-30.0zM1297.0 3291.0h35.0v5.3h-35.0zM1297.0 3296.0h40.0v5.3h-40.0zM1297.0 3301.0h40.0v5.3h-40.0z" fill="#336699"/>
<path d="M1527.0 3253.0h10.0v5.3h-10.0zM1527.0 3258.0h10.0v5.3h-10.0zM1522.0 3263.0h20.0v5.3h-20.0zM1517.0 3268.0h25.0v5.3h-25.0zM1517.0 3273.0h30.0v5.3h-30.0zM1512.0 3278.0h35.0v5.3h-35.0zM1512.0 3283.0h40.0v5.3h-40.0zM1512.0 3288.0h40.0v5.3h-40.0z" fill="#336699"/>
<path d="M1745.0 3165.0h10.0v5.3h-10.0zM1745.0 3170.0h10.0v5.3h-10.0zM1740.0 3175.0h20.0v5.3h-20.0zM1735.0 3180.0h25.0v5.3h-25.0zM1735.0 3185.0h30.0v5.3h-30.0zM1730.0 3190.0h35.0v5.3h-35.0zM1730.0 3195.0h40.0v5.3h-40.0zM1730.0 3200.0h40.0v5.3h-40.0z" fill="#336699"/>
<path d="M1960.0 3161.0h10.0v5.3h-10.0zM1960.0 3166.0h10.0v5.3h-10.0zM1955.0 3171.0h20.0v5.3h-20.0zM1950.0 3176.0h25.0v5.3h-25.0zM1950.0 3181.0h30.0v5.3h-30.0zM1945.0 3186.0h35.0v5.3h-35.0zM1945.0 3191.0h40.0v5.3h-40.0zM1945.0 3196.0h40.0v5.3h-40.0z" fill="#336699"/>
</g>
<path d="M337.0,3467.0 L341.0,3467.0 L345.0,3467.0 L349.0,3467.0 L353.0,3467.0 L357.0,3467.0 L361.0,3467.0 L365.0,3467.0 L369.1,3467.0 L373.1,3467.0 L377.1,3467.0 L381.1,3467.0 L385.1,3467.0 L389.1,3467.0 L393.1,3467.0 L397.1,3466.9 L401.1,3466.9 L405.1,3466.9 L409.1,3466.8 L413.1,3466.7 L417.1,3466.5 L421.1,3466.3 L425.1,3466.1 L429.1,3465.8 L433.1,3465.5 L437.0,3465.2 L441.0,3464.8 L445.0,3464.4 L449.0,3464.0 L453.0,3463.7 L457.0,3463.3 L460.9,3463.0 L464.9,3462.8 L468.9,3462.6 L472.9,3462.4 L476.9,3462.3 L480.9,3462.2 L484.9,3462.1 L488.9,3462.1 L492.9,3462.0 L496.9,3462.0 L500.9,3462.0 L504.9,3462.0 L509.0,3462.0 L513.0,3462.0 L517.0,3462.0 L521.0,3462.0 L525.0,3462.0 L529.0,3462.0 L533.0,3462.0 L537.0,3462.0 L541.0,3462.0 L545.0,3462.0 L549.0,3462.0 L553.0,3462.0 L557.0,3462.0 L561.0,3462.0 L565.0,3462.0 L569.0,3462.0 L573.1,3462.0 L577.1,3462.0 L581.1,3462.0 L585.1,3462.0 L589.1,3462.0 L593.1,3462.0 L597.1,3462.0 L601.1,3462.0 L605.1,3461.9 L609.1,3461.9 L613.1,3461.9 L617.1,3461.9 L621.1,3461.9 L625.1,3461.9 L629.1,3461.9 L633.2,3461.8 L637.2,3461.8 L641.2,3461.8 L645.2,3461.8 L649.2,3461.7 L653.2,3461.7 L657.2,3461.6 L661.2,3461.6 L665.2,3461.5 L669.2,3461.4 L673.2,3461.2 L677.2,3461.1 L681.2,3460.9 L685.2,3460.6 L689.2,3460.3 L693.2,3460.0 L697.1,3459.6 L701.1,3459.2 L705.1,3458.8 L709.1,3458.4 L713.1,3457.9 L717.0,3457.4 L721.0,3457.0 L725.0,3456.5 L729.0,3456.0 L733.0,3455.6 L736.9,3455.1 L740.9,3454.6 L744.9,3454.2 L748.9,3453.8 L752.9,3453.3 L756.8,3452.9 L760.8,3452.4 L764.8,3451.9 L768.8,3451.5 L772.8,3451.0 L776.7,3450.5 L780.7,3450.0 L784.7,3449.4 L788.6,3448.9 L792.6,3448.3 L796.6,3447.8 L800.5,3447.2 L804.5,3446.5 L808.4,3445.9 L812.4,3445.3 L816.3,3444.6 L820.3,3443.9 L824.2,3443.2 L828.2,3442.4 L832.1,3441.7 L836.0,3440.9 L840.0,3440.1 L843.9,3439.3 L847.8,3438.4 L851.7,3437.6 L855.6,3436.7 L859.5,3435.8 L863.4,3434.8 L867.3,3433.9 L871.2,3432.9 L875.1,3431.9 L878.9,3430.9 L882.8,3429.8 L886.6,3428.8 L890.5,3427.6 L894.3,3426.5 L898.2,3425.3 L902.0,3424.1 L905.8,3422.9 L909.6,3421.7 L913.4,3420.5 L917.2,3419.2 L921.0,3418.0 L924.8,3416.8 L928.6,3415.5 L932.4,3414.3 L936.1,3413.1 L939.9,3411.8 L943.6,3410.6 L947.4,3409.3 L951.1,3407.9 L954.8,3406.6 L958.5,3405.1 L962.2,3403.7 L965.9,3402.2 L969.5,3400.7 L973.2,3399.2 L976.9,3397.7 L980.6,3396.2 L984.2,3394.6 L987.9,3393.0 L991.5,3391.3 L995.1,3389.6 L998.6,3387.8 L1002.1,3385.9 L1005.6,3384.0 L1009.0,3382.0 L1012.5,3379.9 L1015.9,3377.8 L1019.3,3375.7 L1022.6,3373.6 L1026.0,3371.6 L1029.5,3369.5 L1032.9,3367.4 L1036.3,3365.4 L1039.7,3363.4 L1043.2,3361.3 L1046.6,3359.3 L1050.1,3357.3 L1053.5,3355.2 L1056.9,3353.1 L1060.3,3351.0 L1063.7,3348.9 L1067.1,3346.8 L1070.5,3344.7 L1073.9,3342.5 L1077.2,3340.3 L1080.5,3338.1 L1083.8,3335.8 L1087.1,3333.5 L1090.4,3331.2 L1093.6,3328.8 L1096.8,3326.4 L1100.0,3324.0 L1103.1,3321.6 L1106.3,3319.2 L1109.5,3316.7 L1112.7,3314.3 L1115.9,3311.9 L1119.0,3309.5 L1122.2,3307.1 L1125.4,3304.6 L1128.6,3302.2 L1131.7,3299.7 L1134.9,3297.3 L1138.0,3294.8 L1141.2,3292.3 L1144.3,3289.8 L1147.4,3287.3 L1150.5,3284.7 L1153.6,3282.2 L1156.7,3279.7 L1159.8,3277.2 L1162.9,3274.7 L1166.0,3272.1 L1169.0,3269.5 L1172.0,3266.9 L1175.0,3264.3 L1178.0,3261.6 L1180.9,3258.9 L1183.8,3256.2 L1186.7,3253.5 L1189.6,3250.7 L1192.5,3248.0 L1195.5,3245.3 L1198.4,3242.6 L1201.3,3239.9 L1204.3,3237.3 L1207.2,3234.6 L1210.2,3231.9 L1213.1,3229.2 L1216.0,3226.4 L1218.9,3223.7 L1221.8,3221.0 L1224.8,3218.3 L1227.7,3215.6 L1230.7,3212.9 L1233.6,3210.2 L1236.6,3207.6 L1239.6,3204.9 L1242.5,3202.2 L1245.4,3199.5 L1248.4,3196.7 L1251.3,3194.0 L1254.2,3191.3 L1257.1,3188.5 L1260.0,3185.8 L1263.0,3183.1 L1265.9,3180.4 L1268.9,3177.8 L1272.0,3175.2 L1275.0,3172.6 L1278.1,3170.1 L1281.3,3167.6 L1284.4,3165.2 L1287.6,3162.8 L1290.8,3160.4 L1294.1,3158.0 L1297.3,3155.7 L1300.5,3153.3 L1303.8,3151.0 L1307.0,3148.6 L1310.2,3146.2 L1313.4,3143.8 L1316.6,3141.4 L1319.8,3139.0 L1323.0,3136.6 L1326.2,3134.3 L1329.4,3131.9 L1332.7,3129.6 L1336.0,3127.3 L1339.2,3125.0 L1342.5,3122.8 L1345.9,3120.5 L1349.2,3118.3 L1352.5,3116.2 L1355.9,3114.0 L1359.3,3111.9 L1362.7,3109.9 L1366.2,3107.9 L1369.7,3106.0 L1373.2,3104.2 L1376.8,3102.5 L1380.4,3100.8 L1384.1,3099.2 L1387.7,3097.7 L1391.5,3096.2 L1395.2,3094.8 L1398.9,3093.4 L1402.7,3092.1 L1406.5,3090.9 L1410.3,3089.7 L1414.1,3088.5 L1418.0,3087.4 L1421.8,3086.4 L1425.7,3085.5 L1429.6,3084.7 L1433.5,3084.0 L1437.4,3083.4 L1441.4,3082.8 L1445.3,3082.4 L1449.3,3082.2 L1453.2,3082.0 L1457.2,3082.0 L1461.2,3082.0 L1465.1,3082.3 L1469.1,3082.6 L1473.0,3083.1 L1476.9,3083.7 L1480.8,3084.5 L1484.7,3085.3 L1488.5,3086.3 L1492.4,3087.4 L1496.2,3088.5 L1500.0,3089.7 L1503.8,3091.0 L1507.5,3092.3 L1511.3,3093.7 L1515.0,3095.1 L1518.8,3096.5 L1522.5,3098.0 L1526.2,3099.5 L1529.9,3101.0 L1533.6,3102.6 L1537.2,3104.2 L1540.9,3105.9 L1544.5,3107.6 L1548.0,3109.4 L1551.6,3111.2 L1555.1,3113.2 L1558.6,3115.1 L1562.0,3117.1 L1565.5,3119.1 L1568.9,3121.1 L1572.3,3123.2 L1575.8,3125.2 L1579.2,3127.3 L1582.6,3129.3 L1586.1,3131.4 L1589.5,3133.5 L1592.9,3135.6 L1596.3,3137.7 L1599.6,3139.9 L1603.0,3142.1 L1606.3,3144.3 L1609.6,3146.6 L1612.9,3148.9 L1616.1,3151.2 L1619.3,3153.6 L1622.5,3156.0 L1625.7,3158.4 L1628.9,3160.9 L1632.0,3163.4 L1635.1,3165.9 L1638.2,3168.4 L1641.3,3170.9 L1644.4,3173.4 L1647.6,3176.0 L1650.7,3178.5 L1653.8,3181.0 L1657.0,3183.4 L1660.1,3185.9 L1663.3,3188.3 L1666.5,3190.8 L1669.7,3193.2 L1672.9,3195.6 L1676.1,3198.0 L1679.3,3200.4 L1682.5,3202.8 L1685.7,3205.1 L1688.9,3207.5 L1692.1,3209.9 L1695.4,3212.3 L1698.6,3214.7 L1701.8,3217.1 L1705.0,3219.5 L1708.2,3221.9 L1711.5,3224.2 L1714.7,3226.5 L1718.0,3228.8 L1721.2,3231.1 L1724.5,3233.4 L1727.8,3235.7 L1731.1,3238.0 L1734.3,3240.3 L1737.6,3242.6 L1740.9,3244.9 L1744.1,3247.2 L1747.4,3249.5 L1750.6,3251.8 L1753.9,3254.0 L1757.2,3256.2 L1760.6,3258.4 L1764.0,3260.5 L1767.4,3262.6 L1770.8,3264.7 L1774.2,3266.7 L1777.7,3268.8 L1781.1,3270.8 L1784.6,3272.8 L1788.1,3274.8 L1791.5,3276.8 L1795.0,3278.8 L1798.5,3280.8 L1802.0,3282.7 L1805.5,3284.7 L1808.9,3286.7 L1812.4,3288.6 L1816.0,3290.6 L1819.5,3292.5 L1823.0,3294.4 L1826.5,3296.3 L1830.0,3298.2 L1833.6,3300.1 L1837.1,3302.0 L1840.6,3303.9 L1844.1,3305.8 L1847.7,3307.6 L1851.2,3309.5 L1854.8,3311.3 L1858.3,3313.1 L1861.9,3314.9 L1865.5,3316.7 L1869.1,3318.4 L1872.8,3320.1 L1876.4,3321.8 L1880.0,3323.5 L1883.7,3325.1 L1887.3,3326.8 L1891.0,3328.4 L1894.6,3330.1 L1898.3,3331.7 L1901.9,3333.3 L1905.6,3334.9 L1909.3,3336.5 L1913.0,3338.0 L1916.7,3339.5 L1920.4,3340.9 L1924.2,3342.3 L1927.9,3343.7 L1931.7,3345.0 L1935.5,3346.3 L1939.3,3347.6 L1943.1,3348.8 L1946.9,3350.1 L1950.7,3351.4 L1954.5,3352.7 L1958.3,3353.9 L1962.1,3355.2 L1965.9,3356.5 L1969.7,3357.8 L1973.5,3359.1 L1977.3,3360.3 L1981.1,3361.6 L1984.9,3362.9 L1988.7,3364.1 L1992.5,3365.4 L1996.3,3366.6 L2000.1,3367.8 L2003.9,3369.0 L2007.7,3370.2 L2011.6,3371.4 L2015.4,3372.6 L2019.2,3373.7 L2023.1,3374.9 L2026.9,3376.0 L2030.8,3377.1 L2034.6,3378.2 L2038.5,3379.3 L2042.3,3380.4 L2046.2,3381.5 L2050.1,3382.5 L2053.9,3383.5 L2057.8,3384.6 L2061.7,3385.6 L2065.6,3386.6 L2069.4,3387.6 L2073.3,3388.6 L2077.2,3389.5 L2081.1,3390.5 L2085.0,3391.5 L2088.9,3392.5 L2092.8,3393.4 L2096.6,3394.4 L2100.5,3395.3 L2104.4,3396.2 L2108.3,3397.2 L2112.2,3398.1 L2116.1,3399.0 L2120.0,3399.9 L2123.9,3400.8 L2127.9,3401.6 L2131.8,3402.5 L2135.7,3403.3 L2139.6,3404.1 L2143.6,3404.9 L2147.5,3405.6 L2151.4,3406.4 L2155.4,3407.1 L2159.3,3407.8 L2163.3,3408.5 L2167.2,3409.1 L2171.2,3409.8 L2175.1,3410.4 L2179.1,3411.1 L2183.0,3411.7 L2185.0,3412.0" fill="none" stroke="#000" stroke-width="10" stroke-linejoin="round" clip-path="url(#cb)"/>
<g clip-path="url(#cb)">
<path d="M544.5 3361.0h15.0v5.3h-15.0zM539.5 3366.0h30.0v5.3h-30.0zM534.5 3371.0h40.0v5.3h-40.0zM534.5 3376.0h40.0v5.3h-40.0zM534.5 3381.0h35.0v5.3h-35.0zM534.5 3386.0h35.0v5.3h-35.0zM539.5 3391.0h30.0v5.3h-30.0z" fill="#666699"/>
<path d="M654.0 3271.5h15.0v5.3h-15.0zM649.0 3276.5h30.0v5.3h-30.0zM644.0 3281.5h40.0v5.3h-40.0zM644.0 3286.5h40.0v5.3h-40.0zM644.0 3291.5h35.0v5.3h-35.0zM644.0 3296.5h35.0v5.3h-35.0zM649.0 3301.5h30.0v5.3h-30.0z" fill="#666699"/>
<path d="M765.0 2992.5h15.0v5.3h-15.0zM760.0 2997.5h30.0v5.3h-30.0zM755.0 3002.5h40.0v5.3h-40.0zM755.0 3007.5h40.0v5.3h-40.0zM755.0 3012.5h35.0v5.3h-35.0zM755.0 3017.5h35.0v5.3h-35.0zM760.0 3022.5h30.0v5.3h-30.0z" fill="#666699"/>
<path d="M872.0 2765.5h15.0v5.3h-15.0zM867.0 2770.5h30.0v5.3h-30.0zM862.0 2775.5h40.0v5.3h-40.0zM862.0 2780.5h40.0v5.3h-40.0zM862.0 2785.5h35.0v5.3h-35.0zM862.0 2790.5h35.0v5.3h-35.0zM867.0 2795.5h30.0v5.3h-30.0z" fill="#666699"/>
<path d="M1089.5 2867.5h15.0v5.3h-15.0zM1084.5 2872.5h30.0v5.3h-30.0zM1079.5 2877.5h40.0v5.3h-40.0zM1079.5 2882.5h40.0v5.3h-40.0zM1079.5 2887.5h35.0v5.3h-35.0zM1079.5 2892.5h35.0v5.3h-35.0zM1084.5 2897.5h30.0v5.3h-30.0z" fill="#666699"/>
<path d="M1305.0 3154.5h15.0v5.3h-15.0zM1300.0 3159.5h30.0v5.3h-30.0zM1295.0 3164.5h40.0v5.3h-40.0zM1295.0 3169.5h40.0v5.3h-40.0zM1295.0 3174.5h35.0v5.3h-35.0zM1295.0 3179.5h35.0v5.3h-35.0zM1300.0 3184.5h30.0v5.3h-30.0z" fill="#666699"/>
<path d="M1524.0 3154.5h15.0v5.3h-15.0zM1519.0 3159.5h30.0v5.3h-30.0zM1514.0 3164.5h40.0v5.3h-40.0zM1514.0 3169.5h40.0v5.3h-40.0zM1514.0 3174.5h35.0v5.3h-35.0zM1514.0 3179.5h35.0v5.3h-35.0zM1519.0 3184.5h30.0v5.3h-30.0z" fill="#666699"/>
<path d="M1737.0 3078.5h15.0v5.3h-15.0zM1732.0 3083.5h30.0v5.3h-30.0zM1727.0 3088.5h40.0v5.3h-40.0zM1727.0 3093.5h40.0v5.3h-40.0zM1727.0 3098.5h35.0v5.3h-35.0zM1727.0 3103.5h35.0v5.3h-35.0zM1732.0 3108.5h30.0v5.3h-30.0z" fill="#666699"/>
<path d="M1956.6 3057.5h15.0v5.3h-15.0zM1951.6 3062.5h30.0v5.3h-30.0zM1946.6 3067.5h40.0v5.3h-40.0zM1946.6 3072.5h40.0v5.3h-40.0zM1946.6 3077.5h35.0v5.3h-35.0zM1946.6 3082.5h35.0v5.3h-35.0zM1951.6 3087.5h30.0v5.3h-30.0z" fill="#666699"/>
</g>
<path d="M337.0,3462.0 L341.0,3461.6 L345.0,3461.3 L349.0,3460.9 L352.9,3460.5 L356.9,3460.1 L360.9,3459.7 L364.9,3459.3 L368.9,3458.9 L372.9,3458.4 L376.8,3458.0 L380.8,3457.5 L384.8,3457.0 L388.7,3456.4 L392.7,3455.9 L396.7,3455.3 L400.6,3454.8 L404.6,3454.2 L408.6,3453.6 L412.5,3453.0 L416.5,3452.3 L420.4,3451.7 L424.4,3451.0 L428.3,3450.3 L432.2,3449.6 L436.2,3448.8 L440.1,3448.1 L444.0,3447.3 L447.9,3446.5 L451.9,3445.7 L455.8,3444.8 L459.7,3443.9 L463.6,3443.0 L467.4,3442.0 L471.3,3441.0 L475.1,3439.9 L478.9,3438.7 L482.6,3437.4 L486.3,3436.0 L490.0,3434.6 L493.7,3433.1 L497.3,3431.4 L500.9,3429.8 L504.5,3428.0 L508.1,3426.2 L511.6,3424.4 L515.1,3422.5 L518.6,3420.6 L522.0,3418.6 L525.3,3416.5 L528.6,3414.3 L531.8,3412.0 L535.0,3409.6 L538.1,3407.1 L541.1,3404.6 L544.1,3402.0 L547.1,3399.4 L550.0,3396.7 L553.0,3394.1 L555.9,3391.4 L558.9,3388.7 L561.9,3386.1 L564.9,3383.4 L567.9,3380.8 L570.8,3378.1 L573.7,3375.4 L576.6,3372.7 L579.4,3369.9 L582.2,3367.0 L584.8,3364.1 L587.4,3361.1 L590.0,3358.0 L592.4,3354.9 L594.8,3351.7 L597.1,3348.5 L599.4,3345.2 L601.7,3341.9 L604.0,3338.7 L606.3,3335.4 L608.7,3332.2 L611.1,3329.1 L613.5,3326.0 L616.0,3322.9 L618.6,3320.0 L621.3,3317.0 L623.9,3314.1 L626.6,3311.2 L629.3,3308.3 L631.9,3305.4 L634.4,3302.4 L636.9,3299.4 L639.2,3296.2 L641.4,3293.0 L643.4,3289.6 L645.4,3286.2 L647.3,3282.7 L649.1,3279.2 L650.8,3275.6 L652.5,3272.0 L654.2,3268.4 L655.8,3264.8 L657.5,3261.2 L659.2,3257.5 L661.0,3254.0 L662.8,3250.4 L664.6,3246.8 L666.4,3243.3 L668.3,3239.7 L670.2,3236.2 L672.2,3232.7 L674.1,3229.2 L676.1,3225.7 L678.0,3222.2 L680.0,3218.8 L682.0,3215.3 L684.0,3211.8 L686.1,3208.4 L688.1,3205.0 L690.2,3201.6 L692.3,3198.2 L694.4,3194.8 L696.6,3191.5 L698.8,3188.1 L701.1,3184.9 L703.4,3181.6 L705.7,3178.4 L708.0,3175.2 L710.4,3172.0 L712.8,3168.8 L715.2,3165.7 L717.7,3162.6 L720.2,3159.5 L722.8,3156.5 L725.4,3153.5 L728.1,3150.6 L730.8,3147.7 L733.6,3144.8 L736.4,3142.0 L739.2,3139.2 L742.1,3136.5 L745.1,3133.8 L748.1,3131.1 L751.1,3128.5 L754.2,3126.0 L757.3,3123.5 L760.5,3121.1 L763.7,3118.8 L766.9,3116.5 L770.3,3114.3 L773.6,3112.2 L777.0,3110.2 L780.5,3108.2 L784.0,3106.4 L787.6,3104.8 L791.2,3103.3 L794.9,3101.9 L798.6,3100.7 L802.4,3099.7 L806.2,3098.8 L810.1,3098.1 L814.0,3097.5 L817.9,3097.0 L821.9,3096.6 L825.9,3096.3 L829.8,3096.0 L833.8,3095.8 L837.8,3095.6 L841.8,3095.5 L845.8,3095.4 L849.8,3095.3 L853.8,3095.3 L857.8,3095.2 L861.8,3095.2 L865.8,3095.2 L869.8,3095.3 L873.8,3095.3 L877.8,3095.4 L881.8,3095.5 L885.8,3095.6 L889.8,3095.7 L893.8,3095.9 L897.8,3096.1 L901.8,3096.3 L905.8,3096.5 L909.8,3096.7 L913.8,3097.0 L917.8,3097.3 L921.8,3097.6 L925.8,3097.9 L929.8,3098.3 L933.8,3098.7 L937.7,3099.1 L941.7,3099.6 L945.7,3100.1 L949.7,3100.6 L953.6,3101.1 L957.6,3101.7 L961.6,3102.3 L965.5,3102.9 L969.5,3103.5 L973.4,3104.1 L977.4,3104.7 L981.3,3105.3 L985.3,3105.9 L989.2,3106.6 L993.2,3107.2 L997.2,3107.7 L1001.1,3108.3 L1005.1,3108.9 L1009.1,3109.4 L1013.0,3110.0 L1017.0,3110.5 L1021.0,3111.0 L1024.9,3111.4 L1028.9,3111.9 L1032.9,3112.3 L1036.9,3112.8 L1040.9,3113.2 L1044.8,3113.6 L1048.8,3114.1 L1052.8,3114.5 L1056.8,3115.0 L1060.7,3115.5 L1064.7,3116.0 L1068.7,3116.5 L1072.7,3117.1 L1076.6,3117.6 L1080.6,3118.2 L1084.5,3118.8 L1088.5,3119.4 L1092.5,3120.0 L1096.4,3120.6 L1100.4,3121.2 L1104.3,3121.9 L1108.3,3122.5 L1112.2,3123.1 L1116.2,3123.7 L1120.2,3124.3 L1124.1,3124.8 L1128.1,3125.4 L1132.0,3125.9 L1136.0,3126.4 L1140.0,3126.9 L1144.0,3127.4 L1147.9,3127.9 L1151.9,3128.3 L1155.9,3128.8 L1159.9,3129.2 L1163.9,3129.7 L1167.8,3130.1 L1171.8,3130.6 L1175.8,3131.0 L1179.8,3131.5 L1183.7,3132.0 L1187.7,3132.6 L1191.7,3133.1 L1195.6,3133.7 L1199.6,3134.2 L1203.6,3134.8 L1207.5,3135.3 L1211.5,3135.9 L1215.5,3136.4 L1219.4,3136.9 L1223.4,3137.4 L1227.4,3137.8 L1231.4,3138.3 L1235.3,3138.8 L1239.3,3139.2 L1243.3,3139.7 L1247.3,3140.1 L1251.2,3140.6 L1255.2,3141.1 L1259.2,3141.6 L1263.2,3142.1 L1267.1,3142.6 L1271.1,3143.2 L1275.1,3143.7 L1279.0,3144.3 L1283.0,3144.8 L1286.9,3145.4 L1290.9,3145.9 L1294.9,3146.4 L1298.9,3146.9 L1302.8,3147.4 L1306.8,3147.9 L1310.8,3148.3 L1314.8,3148.7 L1318.7,3149.2 L1322.7,3149.6 L1326.7,3150.1 L1330.7,3150.5 L1334.7,3151.0 L1338.6,3151.5 L1342.6,3152.0 L1346.6,3152.5 L1350.5,3153.1 L1354.5,3153.6 L1358.5,3154.2 L1362.4,3154.8 L1366.4,3155.4 L1370.3,3156.0 L1374.3,3156.6 L1378.3,3157.2 L1382.2,3157.8 L1386.2,3158.4 L1390.1,3159.0 L1394.1,3159.6 L1398.0,3160.3 L1402.0,3160.9 L1406.0,3161.5 L1409.9,3162.1 L1413.9,3162.7 L1417.8,3163.4 L1421.8,3164.0 L1425.7,3164.6 L1429.7,3165.2 L1433.6,3165.8 L1437.6,3166.3 L1441.6,3166.9 L1445.5,3167.3 L1449.5,3167.8 L1453.5,3168.2 L1457.5,3168.6 L1461.5,3169.0 L1465.4,3169.3 L1469.4,3169.7 L1473.4,3170.1 L1477.4,3170.5 L1481.3,3170.9 L1485.3,3171.4 L1489.3,3171.9 L1493.2,3172.5 L1497.1,3173.2 L1501.1,3173.9 L1505.0,3174.7 L1508.9,3175.5 L1512.8,3176.3 L1516.7,3177.1 L1520.7,3178.0 L1524.6,3178.8 L1528.5,3179.6 L1532.4,3180.5 L1536.3,3181.3 L1540.2,3182.1 L1544.2,3182.9 L1548.1,3183.8 L1552.0,3184.6 L1555.9,3185.3 L1559.9,3186.1 L1563.8,3186.9 L1567.7,3187.7 L1571.6,3188.5 L1575.6,3189.2 L1579.5,3190.0 L1583.4,3190.8 L1587.4,3191.5 L1591.3,3192.3 L1595.2,3193.1 L1599.2,3193.8 L1603.1,3194.6 L1607.0,3195.3 L1610.9,3196.1 L1614.9,3196.9 L1618.8,3197.7 L1622.7,3198.5 L1626.6,3199.3 L1630.6,3200.1 L1634.5,3201.0 L1638.4,3201.8 L1642.3,3202.6 L1646.2,3203.4 L1650.2,3204.2 L1654.1,3205.0 L1658.0,3205.8 L1661.9,3206.6 L1665.9,3207.3 L1669.8,3208.0 L1673.7,3208.7 L1677.7,3209.4 L1681.6,3210.0 L1685.6,3210.6 L1689.6,3211.3 L1693.5,3211.9 L1697.5,3212.5 L1701.4,3213.0 L1705.4,3213.6 L1709.4,3214.2 L1713.3,3214.8 L1717.3,3215.4 L1721.2,3216.0 L1725.2,3216.5 L1729.2,3217.1 L1733.1,3217.7 L1737.1,3218.3 L1741.1,3218.9 L1745.0,3219.5 L1749.0,3220.1 L1752.9,3220.6 L1756.9,3221.2 L1760.9,3221.8 L1764.8,3222.4 L1768.8,3223.0 L1772.7,3223.6 L1776.7,3224.2 L1780.7,3224.8 L1784.6,3225.4 L1788.6,3226.0 L1792.5,3226.6 L1796.5,3227.2 L1800.5,3227.7 L1804.4,3228.3 L1808.4,3228.9 L1812.3,3229.5 L1816.3,3230.1 L1820.3,3230.7 L1824.2,3231.3 L1828.2,3231.9 L1832.1,3232.5 L1836.1,3233.1 L1840.1,3233.7 L1844.0,3234.2 L1848.0,3234.7 L1852.0,3235.3 L1855.9,3235.8 L1859.9,3236.2 L1863.9,3236.7 L1867.9,3237.1 L1871.8,3237.6 L1875.8,3238.0 L1879.8,3238.4 L1883.8,3238.8 L1887.8,3239.2 L1891.8,3239.5 L1895.8,3239.9 L1899.7,3240.3 L1903.7,3240.7 L1907.7,3241.0 L1911.7,3241.4 L1915.7,3241.8 L1919.7,3242.2 L1923.7,3242.5 L1927.7,3242.9 L1931.6,3243.3 L1935.6,3243.7 L1939.6,3244.0 L1943.6,3244.4 L1947.6,3244.8 L1951.6,3245.2 L1955.6,3245.6 L1959.5,3246.0 L1963.5,3246.4 L1967.5,3246.9 L1971.5,3247.3 L1975.5,3247.7 L1979.4,3248.1 L1983.4,3248.5 L1987.4,3249.0 L1991.4,3249.4 L1995.4,3249.8 L1999.4,3250.2 L2003.3,3250.6 L2007.3,3251.0 L2011.3,3251.4 L2015.3,3251.8 L2019.3,3252.2 L2023.3,3252.6 L2027.2,3253.0 L2031.2,3253.4 L2035.2,3253.8 L2039.2,3254.2 L2043.2,3254.6 L2047.2,3255.0 L2051.2,3255.4 L2055.1,3255.8 L2059.1,3256.1 L2063.1,3256.5 L2067.1,3256.9 L2071.1,3257.2 L2075.1,3257.6 L2079.1,3257.9 L2083.1,3258.3 L2087.1,3258.6 L2091.0,3258.9 L2095.0,3259.2 L2099.0,3259.5 L2103.0,3259.8 L2107.0,3260.1 L2111.0,3260.3 L2115.0,3260.6 L2119.0,3260.8 L2123.0,3261.1 L2127.0,3261.3 L2131.0,3261.5 L2135.0,3261.8 L2139.0,3262.0 L2143.0,3262.2 L2147.0,3262.4 L2151.0,3262.6 L2155.0,3262.8 L2159.0,3262.9 L2163.0,3263.1 L2167.0,3263.3 L2171.0,3263.4 L2175.0,3263.6 L2179.0,3263.8 L2183.0,3263.9 L2185.0,3264.0" fill="none" stroke="#336699" stroke-width="10" stroke-linejoin="round" clip-path="url(#cb)"/>
<path d="M337.0,3464.0 L341.0,3463.9 L345.0,3463.9 L349.0,3463.8 L353.0,3463.7 L357.0,3463.7 L361.0,3463.6 L365.0,3463.5 L369.0,3463.4 L373.0,3463.2 L377.0,3463.1 L381.0,3463.0 L385.0,3462.8 L389.0,3462.6 L393.0,3462.4 L397.0,3462.2 L401.0,3462.0 L405.0,3461.8 L409.0,3461.5 L413.0,3461.2 L417.0,3460.9 L421.0,3460.6 L425.0,3460.2 L429.0,3459.8 L432.9,3459.3 L436.9,3458.8 L440.9,3458.3 L444.8,3457.7 L448.8,3457.1 L452.7,3456.4 L456.7,3455.7 L460.6,3455.0 L464.5,3454.2 L468.4,3453.4 L472.4,3452.5 L476.2,3451.6 L480.1,3450.7 L484.0,3449.7 L487.8,3448.6 L491.6,3447.4 L495.4,3446.1 L499.1,3444.7 L502.8,3443.3 L506.4,3441.6 L509.9,3439.9 L513.4,3438.1 L516.9,3436.1 L520.2,3434.0 L523.5,3431.8 L526.7,3429.5 L529.9,3427.1 L533.0,3424.6 L536.0,3422.0 L539.0,3419.4 L542.0,3416.8 L545.0,3414.1 L547.9,3411.3 L550.8,3408.6 L553.7,3405.9 L556.7,3403.2 L559.7,3400.5 L562.7,3397.9 L565.7,3395.3 L568.7,3392.7 L571.8,3390.1 L574.9,3387.6 L578.0,3385.1 L581.1,3382.6 L584.3,3380.1 L587.4,3377.6 L590.4,3375.0 L593.5,3372.5 L596.5,3369.8 L599.4,3367.2 L602.3,3364.4 L605.1,3361.6 L607.9,3358.7 L610.6,3355.8 L613.3,3352.9 L615.9,3349.8 L618.4,3346.8 L620.9,3343.7 L623.4,3340.5 L625.8,3337.3 L628.0,3334.1 L630.3,3330.8 L632.4,3327.4 L634.5,3324.0 L636.4,3320.5 L638.3,3317.0 L640.1,3313.5 L641.9,3309.9 L643.6,3306.3 L645.2,3302.7 L646.9,3299.0 L648.5,3295.4 L650.2,3291.7 L651.8,3288.1 L653.5,3284.5 L655.3,3280.9 L657.0,3277.3 L658.8,3273.7 L660.6,3270.1 L662.5,3266.6 L664.4,3263.1 L666.2,3259.5 L668.1,3256.0 L669.9,3252.5 L671.6,3248.9 L673.3,3245.3 L674.9,3241.7 L676.5,3238.0 L677.9,3234.3 L679.3,3230.6 L680.6,3226.8 L681.8,3223.0 L683.0,3219.2 L684.2,3215.4 L685.3,3211.6 L686.5,3207.7 L687.6,3203.9 L688.8,3200.0 L689.9,3196.2 L691.1,3192.4 L692.3,3188.6 L693.5,3184.8 L694.8,3181.0 L696.0,3177.1 L697.3,3173.3 L698.5,3169.5 L699.8,3165.7 L701.1,3161.9 L702.4,3158.2 L703.7,3154.4 L705.0,3150.6 L706.3,3146.8 L707.6,3143.0 L708.9,3139.2 L710.2,3135.4 L711.5,3131.7 L712.9,3127.9 L714.2,3124.1 L715.6,3120.4 L717.0,3116.6 L718.3,3112.8 L719.7,3109.1 L721.1,3105.3 L722.4,3101.5 L723.8,3097.8 L725.1,3094.0 L726.5,3090.2 L727.8,3086.5 L729.2,3082.7 L730.5,3078.9 L731.9,3075.2 L733.3,3071.4 L734.7,3067.7 L736.1,3063.9 L737.5,3060.2 L738.9,3056.5 L740.3,3052.7 L741.7,3049.0 L743.0,3045.2 L744.3,3041.4 L745.5,3037.6 L746.6,3033.8 L747.7,3030.0 L748.8,3026.1 L749.8,3022.3 L750.8,3018.4 L751.8,3014.5 L752.7,3010.6 L753.6,3006.7 L754.6,3002.8 L755.5,2999.0 L756.5,2995.1 L757.5,2991.2 L758.4,2987.3 L759.4,2983.4 L760.4,2979.5 L761.4,2975.7 L762.4,2971.8 L763.5,2967.9 L764.5,2964.1 L765.6,2960.2 L766.6,2956.3 L767.7,2952.5 L768.8,2948.6 L769.8,2944.7 L770.9,2940.9 L771.9,2937.0 L772.9,2933.1 L774.0,2929.3 L775.0,2925.4 L776.0,2921.5 L776.9,2917.6 L777.9,2913.7 L778.8,2909.9 L779.8,2906.0 L780.7,2902.1 L781.6,2898.2 L782.6,2894.3 L783.5,2890.4 L784.4,2886.5 L785.3,2882.6 L786.2,2878.7 L787.1,2874.8 L788.1,2870.9 L789.0,2867.0 L789.9,2863.1 L790.9,2859.2 L791.9,2855.3 L792.9,2851.4 L793.9,2847.6 L794.9,2843.7 L796.0,2839.8 L797.1,2836.0 L798.2,2832.1 L799.3,2828.3 L800.5,2824.5 L801.6,2820.6 L802.8,2816.8 L804.0,2813.0 L805.2,2809.2 L806.4,2805.3 L807.6,2801.5 L808.8,2797.7 L810.0,2793.9 L811.3,2790.1 L812.5,2786.3 L813.8,2782.5 L815.1,2778.7 L816.4,2774.9 L817.7,2771.2 L819.2,2767.4 L820.6,2763.7 L822.2,2760.1 L823.8,2756.4 L825.6,2752.8 L827.4,2749.3 L829.3,2745.8 L831.3,2742.4 L833.4,2739.1 L835.7,2735.8 L838.0,2732.6 L840.4,2729.5 L843.0,2726.5 L845.7,2723.6 L848.4,2720.9 L851.3,2718.3 L854.3,2715.9 L857.4,2713.7 L860.7,2711.8 L864.0,2710.1 L867.5,2708.7 L871.0,2707.6 L874.6,2706.8 L878.2,2706.4 L881.9,2706.4 L885.5,2706.6 L889.2,2707.2 L892.8,2708.1 L896.4,2709.3 L899.9,2710.8 L903.4,2712.4 L906.8,2714.3 L910.2,2716.3 L913.5,2718.4 L916.8,2720.7 L920.0,2723.0 L923.2,2725.4 L926.4,2727.8 L929.5,2730.3 L932.7,2732.7 L935.8,2735.2 L938.9,2737.7 L942.1,2740.2 L945.2,2742.7 L948.4,2745.1 L951.6,2747.6 L954.7,2750.0 L957.9,2752.4 L961.1,2754.9 L964.3,2757.3 L967.5,2759.7 L970.7,2762.1 L973.9,2764.6 L977.0,2767.0 L980.2,2769.4 L983.4,2771.9 L986.5,2774.3 L989.7,2776.8 L992.9,2779.3 L996.0,2781.8 L999.1,2784.3 L1002.3,2786.8 L1005.4,2789.3 L1008.5,2791.8 L1011.6,2794.3 L1014.7,2796.8 L1017.8,2799.3 L1020.9,2801.9 L1024.1,2804.4 L1027.2,2806.9 L1030.3,2809.4 L1033.4,2812.0 L1036.5,2814.5 L1039.6,2817.0 L1042.7,2819.6 L1045.8,2822.1 L1048.9,2824.6 L1052.0,2827.1 L1055.1,2829.7 L1058.2,2832.2 L1061.3,2834.7 L1064.4,2837.3 L1067.5,2839.8 L1070.7,2842.3 L1073.8,2844.8 L1076.9,2847.4 L1080.0,2849.9 L1083.1,2852.4 L1086.2,2854.9 L1089.4,2857.4 L1092.5,2859.9 L1095.7,2862.3 L1098.8,2864.8 L1102.0,2867.3 L1105.1,2869.7 L1108.3,2872.2 L1111.5,2874.6 L1114.7,2877.1 L1117.8,2879.5 L1121.0,2881.9 L1124.2,2884.3 L1127.5,2886.7 L1130.7,2889.1 L1133.9,2891.4 L1137.2,2893.8 L1140.4,2896.1 L1143.7,2898.4 L1146.9,2900.7 L1150.2,2903.0 L1153.5,2905.3 L1156.8,2907.5 L1160.2,2909.8 L1163.5,2912.0 L1166.9,2914.2 L1170.2,2916.3 L1173.6,2918.5 L1177.0,2920.6 L1180.4,2922.7 L1183.8,2924.8 L1187.2,2926.9 L1190.6,2929.0 L1194.0,2931.1 L1197.5,2933.2 L1200.9,2935.3 L1204.3,2937.3 L1207.8,2939.4 L1211.2,2941.5 L1214.6,2943.5 L1218.1,2945.6 L1221.5,2947.7 L1224.9,2949.8 L1228.3,2951.9 L1231.7,2954.0 L1235.1,2956.1 L1238.5,2958.2 L1241.9,2960.4 L1245.2,2962.5 L1248.6,2964.7 L1251.9,2966.9 L1255.3,2969.1 L1258.6,2971.3 L1261.9,2973.6 L1265.3,2975.8 L1268.6,2978.1 L1271.9,2980.3 L1275.2,2982.6 L1278.5,2984.8 L1281.8,2987.1 L1285.1,2989.4 L1288.4,2991.7 L1291.7,2993.9 L1295.0,2996.2 L1298.3,2998.4 L1301.7,3000.6 L1305.0,3002.8 L1308.4,3005.0 L1311.8,3007.1 L1315.2,3009.2 L1318.6,3011.3 L1322.1,3013.3 L1325.5,3015.2 L1329.0,3017.2 L1332.5,3019.1 L1336.0,3021.0 L1339.6,3022.9 L1343.1,3024.8 L1346.6,3026.7 L1350.1,3028.7 L1353.6,3030.6 L1357.1,3032.6 L1360.6,3034.5 L1364.1,3036.5 L1367.5,3038.6 L1371.0,3040.6 L1374.4,3042.7 L1377.8,3044.8 L1381.2,3046.8 L1384.6,3048.9 L1388.1,3051.0 L1391.5,3053.1 L1394.9,3055.2 L1398.4,3057.2 L1401.8,3059.3 L1405.2,3061.3 L1408.7,3063.3 L1412.1,3065.4 L1415.6,3067.4 L1419.1,3069.4 L1422.6,3071.3 L1426.1,3073.3 L1429.5,3075.3 L1433.0,3077.2 L1436.6,3079.1 L1440.1,3081.1 L1443.6,3083.0 L1447.1,3084.9 L1450.6,3086.8 L1454.2,3088.6 L1457.7,3090.5 L1461.3,3092.3 L1464.8,3094.2 L1468.4,3096.0 L1472.0,3097.8 L1475.6,3099.6 L1479.2,3101.4 L1482.8,3103.1 L1486.4,3104.8 L1490.0,3106.6 L1493.6,3108.3 L1497.2,3110.0 L1500.8,3111.7 L1504.5,3113.4 L1508.1,3115.1 L1511.7,3116.9 L1515.3,3118.6 L1518.9,3120.4 L1522.5,3122.2 L1526.1,3124.0 L1529.6,3125.8 L1533.2,3127.6 L1536.7,3129.5 L1540.2,3131.4 L1543.7,3133.3 L1547.2,3135.3 L1550.8,3137.2 L1554.3,3139.1 L1557.8,3141.0 L1561.3,3142.9 L1564.8,3144.8 L1568.4,3146.7 L1571.9,3148.5 L1575.5,3150.4 L1579.1,3152.2 L1582.7,3153.9 L1586.3,3155.7 L1589.9,3157.4 L1593.5,3159.0 L1597.2,3160.7 L1600.8,3162.3 L1604.5,3163.9 L1608.2,3165.5 L1611.9,3167.0 L1615.6,3168.5 L1619.3,3170.0 L1623.0,3171.4 L1626.8,3172.8 L1630.5,3174.2 L1634.3,3175.6 L1638.1,3176.9 L1641.9,3178.2 L1645.7,3179.5 L1649.5,3180.7 L1653.3,3181.9 L1657.1,3183.1 L1661.0,3184.2 L1664.8,3185.3 L1668.7,3186.4 L1672.5,3187.5 L1676.4,3188.5 L1680.3,3189.5 L1684.1,3190.5 L1688.0,3191.5 L1691.9,3192.4 L1695.8,3193.4 L1699.7,3194.4 L1703.6,3195.3 L1707.5,3196.3 L1711.3,3197.3 L1715.2,3198.3 L1719.1,3199.3 L1722.9,3200.4 L1726.8,3201.5 L1730.7,3202.6 L1734.5,3203.7 L1738.3,3204.8 L1742.2,3206.0 L1746.0,3207.1 L1749.8,3208.3 L1753.6,3209.5 L1757.4,3210.8 L1761.2,3212.0 L1765.0,3213.3 L1768.8,3214.6 L1772.6,3215.9 L1776.4,3217.3 L1780.2,3218.6 L1783.9,3219.9 L1787.7,3221.3 L1791.5,3222.6 L1795.3,3224.0 L1799.0,3225.3 L1802.8,3226.6 L1806.6,3227.9 L1810.4,3229.2 L1814.2,3230.4 L1818.0,3231.7 L1821.8,3232.9 L1825.7,3234.1 L1829.5,3235.2 L1833.3,3236.4 L1837.2,3237.5 L1841.0,3238.6 L1844.8,3239.8 L1848.7,3240.9 L1852.6,3241.9 L1856.4,3243.0 L1860.3,3244.1 L1864.1,3245.1 L1868.0,3246.2 L1871.9,3247.2 L1875.8,3248.2 L1879.6,3249.2 L1883.5,3250.2 L1887.4,3251.1 L1891.3,3252.1 L1895.2,3253.0 L1899.1,3253.9 L1903.0,3254.8 L1906.9,3255.6 L1910.8,3256.5 L1914.7,3257.3 L1918.7,3258.1 L1922.6,3258.9 L1926.5,3259.6 L1930.5,3260.4 L1934.4,3261.1 L1938.3,3261.8 L1942.3,3262.5 L1946.2,3263.2 L1950.2,3263.8 L1954.1,3264.5 L1958.1,3265.1 L1962.0,3265.7 L1966.0,3266.3 L1970.0,3267.0 L1973.9,3267.6 L1977.9,3268.2 L1981.8,3268.8 L1985.8,3269.4 L1989.7,3270.1 L1993.7,3270.7 L1997.6,3271.4 L2001.6,3272.1 L2005.5,3272.8 L2009.5,3273.6 L2013.4,3274.3 L2017.3,3275.1 L2021.2,3275.9 L2025.2,3276.7 L2029.1,3277.5 L2033.0,3278.3 L2036.9,3279.1 L2040.9,3279.9 L2044.8,3280.7 L2048.7,3281.6 L2052.6,3282.4 L2056.5,3283.2 L2060.5,3284.0 L2064.4,3284.8 L2068.3,3285.5 L2072.2,3286.3 L2076.2,3287.1 L2080.1,3287.8 L2084.1,3288.5 L2088.0,3289.2 L2091.9,3289.9 L2095.9,3290.6 L2099.8,3291.3 L2103.8,3291.9 L2107.7,3292.5 L2111.7,3293.1 L2115.7,3293.7 L2119.6,3294.3 L2123.6,3294.9 L2127.6,3295.5 L2131.5,3296.1 L2135.5,3296.7 L2139.4,3297.2 L2143.4,3297.8 L2147.4,3298.4 L2151.3,3299.0 L2155.3,3299.6 L2159.2,3300.2 L2163.2,3300.8 L2167.2,3301.3 L2171.1,3301.9 L2175.1,3302.5 L2179.1,3303.1 L2183.0,3303.7 L2185.0,3304.0" fill="none" stroke="#3cc373" stroke-width="10" stroke-linejoin="round" clip-path="url(#cb)"/>
<path d="M337.0,3466.0 L341.0,3466.0 L345.0,3466.0 L349.0,3465.9 L353.0,3465.9 L357.0,3465.9 L361.0,3465.9 L365.0,3465.8 L369.0,3465.8 L373.0,3465.8 L377.0,3465.7 L381.1,3465.7 L385.1,3465.6 L389.1,3465.5 L393.1,3465.5 L397.1,3465.4 L401.1,3465.3 L405.1,3465.2 L409.1,3465.1 L413.1,3464.9 L417.1,3464.7 L421.1,3464.5 L425.1,3464.3 L429.1,3464.0 L433.0,3463.7 L437.0,3463.3 L441.0,3462.9 L445.0,3462.4 L448.9,3462.0 L452.9,3461.4 L456.9,3460.9 L460.8,3460.3 L464.8,3459.6 L468.7,3459.0 L472.7,3458.3 L476.6,3457.6 L480.5,3456.8 L484.4,3456.0 L488.3,3455.1 L492.2,3454.2 L496.0,3453.1 L499.8,3452.0 L503.6,3450.8 L507.3,3449.4 L511.0,3448.0 L514.6,3446.4 L518.1,3444.7 L521.6,3442.8 L525.1,3440.9 L528.4,3438.8 L531.8,3436.7 L535.2,3434.6 L538.5,3432.4 L541.8,3430.2 L545.2,3428.1 L548.6,3426.0 L551.9,3423.9 L555.3,3421.8 L558.7,3419.7 L562.1,3417.6 L565.5,3415.5 L568.8,3413.3 L572.1,3411.1 L575.3,3408.8 L578.5,3406.4 L581.6,3403.9 L584.7,3401.4 L587.7,3398.7 L590.6,3396.0 L593.5,3393.3 L596.3,3390.5 L599.2,3387.7 L602.0,3384.8 L604.7,3381.9 L607.5,3379.1 L610.3,3376.2 L613.0,3373.3 L615.8,3370.4 L618.5,3367.4 L621.2,3364.5 L623.9,3361.5 L626.5,3358.5 L629.1,3355.5 L631.6,3352.4 L634.1,3349.3 L636.6,3346.2 L639.0,3343.0 L641.4,3339.9 L643.8,3336.7 L646.2,3333.5 L648.7,3330.4 L651.1,3327.3 L653.6,3324.2 L656.2,3321.1 L658.7,3318.1 L661.3,3315.0 L663.9,3312.0 L666.5,3309.0 L669.1,3305.9 L671.6,3302.8 L674.1,3299.8 L676.7,3296.7 L679.2,3293.5 L681.7,3290.4 L684.2,3287.4 L686.8,3284.3 L689.4,3281.3 L692.1,3278.4 L694.8,3275.6 L697.7,3272.8 L700.6,3270.2 L703.6,3267.7 L706.8,3265.3 L710.0,3263.0 L713.3,3260.8 L716.6,3258.8 L720.1,3256.9 L723.6,3255.2 L727.2,3253.6 L730.9,3252.1 L734.6,3250.8 L738.3,3249.7 L742.1,3248.7 L746.0,3247.9 L749.8,3247.2 L753.8,3246.7 L757.7,3246.3 L761.7,3246.0 L765.6,3245.7 L769.6,3245.5 L773.6,3245.4 L777.6,3245.4 L781.6,3245.3 L785.6,3245.3 L789.6,3245.4 L793.6,3245.5 L797.6,3245.7 L801.6,3245.9 L805.6,3246.1 L809.5,3246.5 L813.5,3246.8 L817.5,3247.2 L821.5,3247.7 L825.5,3248.1 L829.4,3248.6 L833.4,3249.1 L837.4,3249.7 L841.3,3250.2 L845.3,3250.7 L849.3,3251.1 L853.3,3251.6 L857.2,3252.0 L861.2,3252.5 L865.2,3252.9 L869.2,3253.3 L873.2,3253.6 L877.2,3254.0 L881.2,3254.4 L885.1,3254.7 L889.1,3255.1 L893.1,3255.4 L897.1,3255.8 L901.1,3256.2 L905.1,3256.5 L909.1,3256.9 L913.1,3257.3 L917.0,3257.7 L921.0,3258.1 L925.0,3258.5 L929.0,3259.0 L933.0,3259.4 L936.9,3259.9 L940.9,3260.4 L944.9,3260.9 L948.9,3261.4 L952.8,3262.0 L956.8,3262.6 L960.7,3263.2 L964.7,3263.8 L968.7,3264.4 L972.6,3265.0 L976.6,3265.6 L980.5,3266.2 L984.5,3266.8 L988.4,3267.4 L992.4,3268.0 L996.4,3268.6 L1000.3,3269.2 L1004.3,3269.8 L1008.3,3270.4 L1012.2,3270.9 L1016.2,3271.5 L1020.2,3272.0 L1024.1,3272.6 L1028.1,3273.1 L1032.1,3273.6 L1036.0,3274.1 L1040.0,3274.6 L1044.0,3275.1 L1048.0,3275.6 L1051.9,3276.1 L1055.9,3276.6 L1059.9,3277.1 L1063.9,3277.6 L1067.8,3278.1 L1071.8,3278.6 L1075.8,3279.1 L1079.7,3279.6 L1083.7,3280.1 L1087.7,3280.6 L1091.7,3281.1 L1095.6,3281.6 L1099.6,3282.1 L1103.6,3282.6 L1107.6,3283.1 L1111.5,3283.6 L1115.5,3284.1 L1119.5,3284.6 L1123.5,3285.1 L1127.4,3285.6 L1131.4,3286.1 L1135.4,3286.5 L1139.4,3287.0 L1143.3,3287.4 L1147.3,3287.9 L1151.3,3288.3 L1155.3,3288.7 L1159.3,3289.1 L1163.3,3289.6 L1167.2,3290.0 L1171.2,3290.4 L1175.2,3290.8 L1179.2,3291.3 L1183.2,3291.7 L1187.1,3292.2 L1191.1,3292.7 L1195.1,3293.2 L1199.1,3293.6 L1203.0,3294.1 L1207.0,3294.6 L1211.0,3295.1 L1215.0,3295.5 L1219.0,3296.0 L1222.9,3296.4 L1226.9,3296.9 L1230.9,3297.3 L1234.9,3297.7 L1238.9,3298.1 L1242.8,3298.6 L1246.8,3299.0 L1250.8,3299.4 L1254.8,3299.8 L1258.8,3300.2 L1262.8,3300.6 L1266.7,3301.0 L1270.7,3301.4 L1274.7,3301.8 L1278.7,3302.2 L1282.7,3302.6 L1286.7,3303.0 L1290.7,3303.4 L1294.6,3303.8 L1298.6,3304.2 L1302.6,3304.6 L1306.6,3305.0 L1310.6,3305.4 L1314.6,3305.8 L1318.6,3306.2 L1322.5,3306.6 L1326.5,3307.0 L1330.5,3307.4 L1334.5,3307.7 L1338.5,3308.1 L1342.5,3308.5 L1346.5,3308.9 L1350.4,3309.3 L1354.4,3309.7 L1358.4,3310.1 L1362.4,3310.5 L1366.4,3311.0 L1370.4,3311.4 L1374.3,3311.8 L1378.3,3312.2 L1382.3,3312.6 L1386.3,3313.0 L1390.3,3313.4 L1394.3,3313.8 L1398.3,3314.2 L1402.2,3314.6 L1406.2,3315.0 L1410.2,3315.3 L1414.2,3315.7 L1418.2,3316.0 L1422.2,3316.4 L1426.2,3316.7 L1430.2,3317.0 L1434.2,3317.3 L1438.2,3317.6 L1442.1,3317.9 L1446.1,3318.1 L1450.1,3318.4 L1454.1,3318.7 L1458.1,3319.0 L1462.1,3319.3 L1466.1,3319.5 L1470.1,3319.8 L1474.1,3320.2 L1478.1,3320.5 L1482.1,3320.8 L1486.1,3321.1 L1490.1,3321.5 L1494.1,3321.8 L1498.0,3322.2 L1502.0,3322.6 L1506.0,3322.9 L1510.0,3323.3 L1514.0,3323.7 L1518.0,3324.1 L1522.0,3324.5 L1525.9,3324.9 L1529.9,3325.3 L1533.9,3325.7 L1537.9,3326.1 L1541.9,3326.6 L1545.9,3327.0 L1549.8,3327.4 L1553.8,3327.8 L1557.8,3328.3 L1561.8,3328.7 L1565.8,3329.2 L1569.7,3329.6 L1573.7,3330.1 L1577.7,3330.6 L1581.7,3331.0 L1585.7,3331.5 L1589.6,3332.0 L1593.6,3332.5 L1597.6,3333.0 L1601.5,3333.5 L1605.5,3334.0 L1609.5,3334.5 L1613.5,3335.0 L1617.4,3335.5 L1621.4,3336.0 L1625.4,3336.4 L1629.4,3336.9 L1633.4,3337.4 L1637.3,3337.8 L1641.3,3338.2 L1645.3,3338.7 L1649.3,3339.1 L1653.3,3339.5 L1657.3,3339.9 L1661.2,3340.2 L1665.2,3340.6 L1669.2,3340.9 L1673.2,3341.2 L1677.2,3341.6 L1681.2,3341.8 L1685.2,3342.1 L1689.2,3342.4 L1693.2,3342.7 L1697.2,3342.9 L1701.2,3343.2 L1705.2,3343.4 L1709.2,3343.6 L1713.2,3343.9 L1717.2,3344.1 L1721.2,3344.3 L1725.2,3344.5 L1729.2,3344.8 L1733.2,3345.0 L1737.2,3345.2 L1741.2,3345.4 L1745.2,3345.6 L1749.2,3345.8 L1753.2,3346.0 L1757.2,3346.3 L1761.2,3346.5 L1765.2,3346.7 L1769.2,3346.9 L1773.2,3347.1 L1777.2,3347.3 L1781.2,3347.5 L1785.2,3347.7 L1789.2,3348.0 L1793.2,3348.2 L1797.2,3348.4 L1801.2,3348.6 L1805.2,3348.8 L1809.2,3349.0 L1813.2,3349.1 L1817.2,3349.3 L1821.2,3349.5 L1825.2,3349.7 L1829.2,3349.9 L1833.2,3350.0 L1837.2,3350.2 L1841.2,3350.4 L1845.2,3350.5 L1849.2,3350.7 L1853.2,3350.9 L1857.2,3351.1 L1861.2,3351.2 L1865.2,3351.4 L1869.2,3351.6 L1873.2,3351.7 L1877.2,3351.9 L1881.2,3352.1 L1885.2,3352.2 L1889.2,3352.4 L1893.2,3352.6 L1897.2,3352.7 L1901.2,3352.9 L1905.2,3353.1 L1909.2,3353.2 L1913.2,3353.4 L1917.2,3353.6 L1921.2,3353.8 L1925.2,3353.9 L1929.2,3354.1 L1933.2,3354.3 L1937.2,3354.5 L1941.2,3354.7 L1945.2,3354.9 L1949.2,3355.1 L1953.2,3355.3 L1957.2,3355.5 L1961.2,3355.7 L1965.2,3356.0 L1969.2,3356.2 L1973.2,3356.5 L1977.2,3356.7 L1981.2,3357.0 L1985.2,3357.2 L1989.2,3357.5 L1993.2,3357.7 L1997.2,3357.9 L2001.2,3358.2 L2005.2,3358.4 L2009.2,3358.6 L2013.2,3358.9 L2017.2,3359.1 L2021.2,3359.3 L2025.2,3359.5 L2029.2,3359.7 L2033.2,3359.9 L2037.2,3360.1 L2041.2,3360.4 L2045.2,3360.6 L2049.2,3360.8 L2053.2,3361.0 L2057.2,3361.2 L2061.2,3361.4 L2065.2,3361.6 L2069.2,3361.8 L2073.2,3362.0 L2077.2,3362.3 L2081.2,3362.5 L2085.1,3362.7 L2089.1,3362.9 L2093.1,3363.2 L2097.1,3363.4 L2101.1,3363.6 L2105.1,3363.9 L2109.1,3364.1 L2113.1,3364.4 L2117.1,3364.6 L2121.1,3364.9 L2125.1,3365.2 L2129.1,3365.4 L2133.1,3365.7 L2137.1,3366.0 L2141.1,3366.3 L2145.1,3366.6 L2149.1,3366.9 L2153.1,3367.2 L2157.1,3367.6 L2161.1,3367.9 L2165.1,3368.2 L2169.0,3368.6 L2173.0,3368.9 L2177.0,3369.3 L2181.0,3369.6 L2185.0,3370.0 L2185.0,3370.0" fill="none" stroke="#ee4444" stroke-width="10" stroke-linejoin="round" clip-path="url(#cb)"/>
<path d="M337.0,3459.0 L341.0,3458.9 L345.0,3458.8 L349.0,3458.8 L353.0,3458.7 L357.0,3458.6 L361.0,3458.5 L365.0,3458.4 L369.0,3458.2 L373.0,3458.1 L377.0,3458.0 L381.0,3457.8 L385.0,3457.7 L389.0,3457.5 L393.0,3457.3 L397.0,3457.1 L401.0,3456.9 L405.0,3456.7 L409.0,3456.5 L413.0,3456.3 L417.0,3456.1 L421.0,3455.9 L425.0,3455.6 L429.0,3455.4 L433.0,3455.1 L437.0,3454.8 L441.0,3454.5 L445.0,3454.2 L449.0,3453.9 L453.0,3453.5 L457.0,3453.2 L460.9,3452.8 L464.9,3452.4 L468.9,3452.0 L472.9,3451.5 L476.9,3451.1 L480.8,3450.6 L484.8,3450.0 L488.7,3449.4 L492.6,3448.7 L496.5,3447.9 L500.4,3447.0 L504.3,3446.1 L508.1,3445.0 L511.9,3443.8 L515.6,3442.5 L519.3,3441.0 L522.9,3439.4 L526.5,3437.8 L530.0,3435.9 L533.5,3434.0 L536.9,3432.0 L540.2,3429.9 L543.5,3427.7 L546.8,3425.3 L549.9,3422.9 L553.0,3420.4 L556.1,3417.9 L559.1,3415.3 L562.0,3412.6 L565.0,3409.9 L567.9,3407.2 L570.8,3404.4 L573.7,3401.7 L576.6,3398.9 L579.5,3396.1 L582.4,3393.3 L585.2,3390.5 L588.1,3387.7 L590.9,3384.9 L593.7,3382.1 L596.5,3379.2 L599.3,3376.3 L602.1,3373.4 L604.8,3370.5 L607.4,3367.5 L610.1,3364.5 L612.7,3361.5 L615.2,3358.4 L617.7,3355.3 L620.2,3352.2 L622.7,3349.0 L625.2,3345.9 L627.6,3342.7 L630.0,3339.5 L632.5,3336.3 L634.9,3333.1 L637.3,3329.9 L639.6,3326.7 L642.0,3323.5 L644.4,3320.3 L646.8,3317.0 L649.2,3313.8 L651.6,3310.6 L654.0,3307.4 L656.4,3304.2 L658.8,3301.0 L661.3,3297.9 L663.7,3294.7 L666.2,3291.6 L668.7,3288.4 L671.1,3285.3 L673.6,3282.2 L676.1,3279.0 L678.5,3275.9 L681.0,3272.7 L683.3,3269.5 L685.7,3266.2 L688.0,3263.0 L690.2,3259.7 L692.5,3256.4 L694.7,3253.1 L696.9,3249.7 L699.1,3246.4 L701.3,3243.0 L703.5,3239.7 L705.8,3236.4 L708.0,3233.1 L710.3,3229.9 L712.7,3226.6 L715.1,3223.5 L717.5,3220.3 L720.0,3217.3 L722.6,3214.3 L725.3,3211.4 L728.1,3208.5 L730.9,3205.7 L733.7,3203.0 L736.7,3200.3 L739.6,3197.7 L742.6,3195.0 L745.6,3192.4 L748.7,3189.9 L751.8,3187.4 L754.9,3184.9 L758.1,3182.6 L761.3,3180.3 L764.6,3178.1 L768.0,3176.1 L771.4,3174.2 L774.9,3172.5 L778.5,3171.0 L782.1,3169.7 L785.9,3168.5 L789.6,3167.6 L793.4,3166.8 L797.3,3166.3 L801.2,3165.9 L805.1,3165.8 L809.1,3165.7 L813.0,3165.9 L817.0,3166.1 L820.9,3166.5 L824.9,3166.9 L828.8,3167.5 L832.8,3168.1 L836.7,3168.8 L840.6,3169.5 L844.5,3170.3 L848.4,3171.1 L852.4,3172.0 L856.2,3172.9 L860.1,3173.9 L864.0,3174.8 L867.9,3175.8 L871.8,3176.9 L875.6,3177.9 L879.5,3179.0 L883.3,3180.1 L887.2,3181.2 L891.0,3182.2 L894.9,3183.3 L898.8,3184.4 L902.6,3185.5 L906.5,3186.5 L910.4,3187.5 L914.2,3188.5 L918.1,3189.5 L922.0,3190.5 L925.9,3191.5 L929.7,3192.5 L933.6,3193.4 L937.5,3194.4 L941.4,3195.3 L945.3,3196.3 L949.2,3197.2 L953.1,3198.2 L957.0,3199.1 L960.9,3200.1 L964.8,3201.0 L968.6,3202.0 L972.5,3203.0 L976.4,3203.9 L980.3,3204.9 L984.2,3205.8 L988.1,3206.8 L992.0,3207.8 L995.9,3208.7 L999.7,3209.7 L1003.6,3210.7 L1007.5,3211.6 L1011.4,3212.6 L1015.3,3213.5 L1019.2,3214.5 L1023.1,3215.4 L1027.0,3216.4 L1030.9,3217.3 L1034.8,3218.2 L1038.7,3219.2 L1042.5,3220.1 L1046.4,3221.0 L1050.3,3222.0 L1054.2,3222.9 L1058.1,3223.9 L1062.0,3224.8 L1065.9,3225.8 L1069.8,3226.7 L1073.7,3227.7 L1077.6,3228.6 L1081.4,3229.6 L1085.3,3230.6 L1089.2,3231.6 L1093.1,3232.5 L1097.0,3233.5 L1100.9,3234.5 L1104.7,3235.5 L1108.6,3236.5 L1112.5,3237.5 L1116.4,3238.5 L1120.3,3239.4 L1124.1,3240.4 L1128.0,3241.4 L1131.9,3242.4 L1135.8,3243.4 L1139.7,3244.4 L1143.6,3245.4 L1147.4,3246.3 L1151.3,3247.3 L1155.2,3248.3 L1159.1,3249.3 L1163.0,3250.2 L1166.9,3251.2 L1170.7,3252.2 L1174.6,3253.2 L1178.5,3254.1 L1182.4,3255.1 L1186.3,3256.1 L1190.2,3257.0 L1194.1,3258.0 L1197.9,3259.0 L1201.8,3260.0 L1205.7,3260.9 L1209.6,3261.9 L1213.5,3262.9 L1217.3,3263.9 L1221.2,3264.9 L1225.1,3265.9 L1229.0,3266.9 L1232.9,3267.9 L1236.7,3268.8 L1240.6,3269.8 L1244.5,3270.8 L1248.4,3271.7 L1252.3,3272.6 L1256.2,3273.5 L1260.1,3274.4 L1264.0,3275.3 L1267.9,3276.1 L1271.9,3277.0 L1275.8,3277.8 L1279.7,3278.6 L1283.6,3279.4 L1287.5,3280.2 L1291.5,3281.0 L1295.4,3281.7 L1299.3,3282.5 L1303.2,3283.3 L1307.2,3284.1 L1311.1,3284.9 L1315.0,3285.7 L1319.0,3286.4 L1322.9,3287.2 L1326.8,3287.9 L1330.8,3288.6 L1334.7,3289.3 L1338.7,3290.0 L1342.6,3290.7 L1346.5,3291.4 L1350.5,3292.0 L1354.5,3292.6 L1358.4,3293.2 L1362.4,3293.8 L1366.3,3294.4 L1370.3,3295.0 L1374.2,3295.6 L1378.2,3296.2 L1382.2,3296.8 L1386.1,3297.4 L1390.1,3298.0 L1394.0,3298.6 L1398.0,3299.2 L1402.0,3299.8 L1405.9,3300.5 L1409.9,3301.1 L1413.8,3301.7 L1417.8,3302.3 L1421.8,3302.9 L1425.7,3303.5 L1429.7,3304.1 L1433.6,3304.7 L1437.6,3305.2 L1441.6,3305.8 L1445.5,3306.4 L1449.5,3307.0 L1453.5,3307.5 L1457.4,3308.1 L1461.4,3308.6 L1465.4,3309.1 L1469.3,3309.7 L1473.3,3310.2 L1477.3,3310.7 L1481.2,3311.3 L1485.2,3311.8 L1489.2,3312.3 L1493.1,3312.9 L1497.1,3313.5 L1501.1,3314.1 L1505.0,3314.6 L1509.0,3315.3 L1512.9,3315.9 L1516.9,3316.5 L1520.8,3317.2 L1524.8,3317.9 L1528.7,3318.6 L1532.6,3319.3 L1536.6,3320.1 L1540.5,3320.8 L1544.4,3321.6 L1548.4,3322.4 L1552.3,3323.2 L1556.2,3323.9 L1560.1,3324.7 L1564.1,3325.5 L1568.0,3326.2 L1572.0,3326.9 L1575.9,3327.6 L1579.8,3328.3 L1583.8,3329.0 L1587.7,3329.6 L1591.7,3330.3 L1595.6,3330.9 L1599.6,3331.5 L1603.6,3332.1 L1607.5,3332.6 L1611.5,3333.2 L1615.4,3333.8 L1619.4,3334.4 L1623.4,3335.0 L1627.3,3335.6 L1631.3,3336.2 L1635.3,3336.8 L1639.2,3337.4 L1643.2,3338.0 L1647.1,3338.6 L1651.1,3339.2 L1655.1,3339.8 L1659.0,3340.4 L1663.0,3341.0 L1666.9,3341.6 L1670.9,3342.2 L1674.8,3342.9 L1678.8,3343.5 L1682.7,3344.1 L1686.7,3344.7 L1690.7,3345.3 L1694.6,3345.9 L1698.6,3346.5 L1702.5,3347.1 L1706.5,3347.6 L1710.5,3348.1 L1714.5,3348.6 L1718.4,3349.0 L1722.4,3349.5 L1726.4,3349.9 L1730.4,3350.3 L1734.4,3350.7 L1738.3,3351.0 L1742.3,3351.4 L1746.3,3351.7 L1750.3,3352.1 L1754.3,3352.4 L1758.3,3352.8 L1762.3,3353.2 L1766.3,3353.5 L1770.2,3353.9 L1774.2,3354.3 L1778.2,3354.7 L1782.2,3355.1 L1786.2,3355.5 L1790.2,3356.0 L1794.1,3356.4 L1798.1,3356.8 L1802.1,3357.2 L1806.1,3357.7 L1810.1,3358.1 L1814.1,3358.5 L1818.0,3359.0 L1822.0,3359.4 L1826.0,3359.8 L1830.0,3360.2 L1834.0,3360.7 L1837.9,3361.1 L1841.9,3361.5 L1845.9,3361.9 L1849.9,3362.3 L1853.9,3362.7 L1857.9,3363.2 L1861.8,3363.6 L1865.8,3364.0 L1869.8,3364.4 L1873.8,3364.7 L1877.8,3365.1 L1881.8,3365.5 L1885.8,3365.9 L1889.7,3366.2 L1893.7,3366.6 L1897.7,3367.0 L1901.7,3367.3 L1905.7,3367.6 L1909.7,3368.0 L1913.7,3368.3 L1917.7,3368.6 L1921.7,3368.9 L1925.7,3369.2 L1929.7,3369.5 L1933.7,3369.8 L1937.6,3370.1 L1941.6,3370.4 L1945.6,3370.7 L1949.6,3371.0 L1953.6,3371.3 L1957.6,3371.6 L1961.6,3371.9 L1965.6,3372.2 L1969.6,3372.5 L1973.6,3372.8 L1977.6,3373.1 L1981.6,3373.4 L1985.6,3373.7 L1989.6,3374.0 L1993.6,3374.2 L1997.6,3374.5 L2001.5,3374.7 L2005.5,3375.0 L2009.5,3375.2 L2013.5,3375.4 L2017.5,3375.6 L2021.5,3375.8 L2025.5,3376.1 L2029.5,3376.3 L2033.5,3376.5 L2037.5,3376.8 L2041.5,3377.1 L2045.5,3377.3 L2049.5,3377.7 L2053.5,3378.0 L2057.5,3378.3 L2061.5,3378.7 L2065.5,3379.0 L2069.4,3379.4 L2073.4,3379.8 L2077.4,3380.2 L2081.4,3380.6 L2085.4,3381.0 L2089.4,3381.4 L2093.4,3381.8 L2097.3,3382.1 L2101.3,3382.5 L2105.3,3382.9 L2109.3,3383.3 L2113.3,3383.7 L2117.3,3384.0 L2121.3,3384.4 L2125.3,3384.8 L2129.2,3385.2 L2133.2,3385.6 L2137.2,3386.0 L2141.2,3386.4 L2145.2,3386.8 L2149.2,3387.2 L2153.1,3387.6 L2157.1,3388.0 L2161.1,3388.4 L2165.1,3388.8 L2169.1,3389.3 L2173.1,3389.7 L2177.0,3390.1 L2181.0,3390.6 L2185.0,3391.0 L2185.0,3391.0" fill="none" stroke="#cc6600" stroke-width="10" stroke-linejoin="round" clip-path="url(#cb)"/>
<path d="M337.0,3465.0 L341.0,3464.9 L345.0,3464.9 L349.0,3464.8 L353.0,3464.7 L357.0,3464.7 L361.0,3464.6 L365.0,3464.5 L369.0,3464.3 L373.0,3464.2 L377.1,3464.1 L381.1,3463.9 L385.1,3463.8 L389.1,3463.6 L393.1,3463.4 L397.1,3463.2 L401.1,3463.0 L405.1,3462.8 L409.1,3462.5 L413.1,3462.3 L417.1,3462.0 L421.0,3461.7 L425.0,3461.4 L429.0,3461.0 L433.0,3460.6 L437.0,3460.1 L441.0,3459.7 L444.9,3459.2 L448.9,3458.6 L452.9,3458.0 L456.8,3457.4 L460.8,3456.7 L464.7,3456.0 L468.6,3455.2 L472.5,3454.4 L476.4,3453.6 L480.3,3452.6 L484.2,3451.6 L488.0,3450.5 L491.8,3449.4 L495.6,3448.1 L499.3,3446.7 L503.0,3445.2 L506.6,3443.6 L510.1,3441.8 L513.6,3440.0 L517.0,3438.0 L520.4,3435.9 L523.7,3433.7 L526.9,3431.4 L530.1,3429.0 L533.2,3426.5 L536.2,3423.9 L539.2,3421.2 L542.1,3418.5 L545.0,3415.8 L547.8,3413.0 L550.6,3410.1 L553.4,3407.2 L556.1,3404.3 L558.8,3401.4 L561.5,3398.4 L564.2,3395.4 L566.9,3392.4 L569.5,3389.4 L572.1,3386.4 L574.7,3383.3 L577.3,3380.3 L579.8,3377.2 L582.3,3374.1 L584.8,3370.9 L587.2,3367.7 L589.6,3364.5 L592.0,3361.3 L594.3,3358.0 L596.5,3354.7 L598.7,3351.4 L600.9,3348.0 L603.0,3344.6 L605.1,3341.2 L607.1,3337.8 L609.2,3334.3 L611.2,3330.9 L613.3,3327.4 L615.3,3324.0 L617.4,3320.6 L619.4,3317.1 L621.4,3313.7 L623.5,3310.2 L625.5,3306.7 L627.5,3303.3 L629.4,3299.8 L631.3,3296.3 L633.3,3292.7 L635.1,3289.2 L637.0,3285.7 L638.8,3282.1 L640.7,3278.5 L642.5,3275.0 L644.3,3271.4 L646.1,3267.8 L647.9,3264.2 L649.6,3260.6 L651.4,3257.1 L653.2,3253.5 L654.9,3249.8 L656.7,3246.2 L658.4,3242.6 L660.0,3239.0 L661.7,3235.3 L663.3,3231.7 L664.9,3228.0 L666.5,3224.3 L668.0,3220.6 L669.6,3216.9 L671.1,3213.2 L672.6,3209.5 L674.2,3205.8 L675.7,3202.1 L677.3,3198.5 L678.8,3194.8 L680.4,3191.1 L681.9,3187.4 L683.5,3183.7 L685.1,3180.0 L686.6,3176.3 L688.1,3172.6 L689.7,3168.9 L691.2,3165.2 L692.7,3161.5 L694.2,3157.8 L695.7,3154.1 L697.1,3150.4 L698.6,3146.6 L700.1,3142.9 L701.5,3139.2 L702.9,3135.4 L704.3,3131.7 L705.7,3127.9 L707.1,3124.2 L708.5,3120.4 L709.9,3116.6 L711.3,3112.9 L712.7,3109.1 L714.0,3105.4 L715.4,3101.6 L716.8,3097.8 L718.1,3094.1 L719.5,3090.3 L720.8,3086.5 L722.2,3082.7 L723.5,3079.0 L724.9,3075.2 L726.3,3071.5 L727.7,3067.9 L729.2,3064.3 L730.7,3060.7 L732.2,3057.3 L733.8,3054.0 L735.4,3050.9 L737.0,3048.0 L738.7,3045.2 L740.4,3042.6 L742.0,3040.2 L743.7,3037.9 L745.3,3035.5 L746.9,3033.2 L748.4,3030.7 L749.8,3028.1 L751.2,3025.3 L752.5,3022.3 L753.7,3019.1 L754.8,3015.7 L755.9,3012.1 L757.0,3008.5 L758.0,3004.8 L759.1,3001.0 L760.1,2997.2 L761.2,2993.3 L762.2,2989.5 L763.3,2985.6 L764.3,2981.7 L765.4,2977.9 L766.4,2974.0 L767.5,2970.1 L768.6,2966.3 L769.7,2962.4 L770.8,2958.6 L771.9,2954.7 L773.0,2950.9 L774.1,2947.0 L775.3,2943.2 L776.5,2939.4 L777.7,2935.6 L779.0,2931.8 L780.4,2928.1 L781.8,2924.4 L783.4,2920.7 L785.0,2917.1 L786.7,2913.6 L788.6,2910.1 L790.6,2906.6 L792.7,2903.3 L794.9,2900.0 L797.2,2896.8 L799.7,2893.7 L802.2,2890.6 L804.8,2887.7 L807.5,2884.8 L810.4,2882.1 L813.3,2879.4 L816.3,2876.9 L819.4,2874.5 L822.6,2872.3 L825.9,2870.2 L829.3,2868.2 L832.8,2866.5 L836.4,2864.9 L840.0,2863.4 L843.7,2862.2 L847.4,2861.2 L851.2,2860.3 L855.0,2859.7 L858.9,2859.3 L862.8,2859.0 L866.7,2859.0 L870.6,2859.2 L874.4,2859.6 L878.3,2860.2 L882.1,2861.0 L885.9,2862.0 L889.7,2863.1 L893.4,2864.4 L897.0,2865.9 L900.6,2867.5 L904.2,2869.2 L907.7,2871.0 L911.2,2873.0 L914.6,2875.0 L918.0,2877.1 L921.3,2879.3 L924.6,2881.5 L928.0,2883.8 L931.3,2886.0 L934.6,2888.3 L937.8,2890.6 L941.1,2892.8 L944.5,2895.1 L947.8,2897.3 L951.1,2899.5 L954.5,2901.7 L957.9,2903.8 L961.3,2905.9 L964.7,2908.0 L968.2,2910.0 L971.7,2912.0 L975.2,2913.9 L978.7,2915.8 L982.2,2917.6 L985.8,2919.4 L989.4,2921.2 L993.0,2923.0 L996.6,2924.7 L1000.2,2926.4 L1003.8,2928.2 L1007.5,2929.9 L1011.1,2931.5 L1014.7,2933.2 L1018.4,2934.9 L1022.0,2936.6 L1025.6,2938.3 L1029.2,2940.1 L1032.8,2941.8 L1036.5,2943.5 L1040.1,2945.2 L1043.7,2947.0 L1047.3,2948.7 L1050.9,2950.5 L1054.5,2952.2 L1058.1,2954.0 L1061.7,2955.8 L1065.3,2957.5 L1068.9,2959.3 L1072.5,2961.0 L1076.1,2962.7 L1079.7,2964.5 L1083.3,2966.2 L1087.0,2967.9 L1090.6,2969.6 L1094.2,2971.3 L1097.8,2973.0 L1101.4,2974.8 L1105.1,2976.5 L1108.7,2978.2 L1112.3,2980.0 L1115.9,2981.7 L1119.5,2983.5 L1123.1,2985.2 L1126.7,2987.0 L1130.3,2988.8 L1133.9,2990.6 L1137.4,2992.4 L1141.0,2994.2 L1144.6,2996.0 L1148.1,2997.9 L1151.7,2999.7 L1155.2,3001.6 L1158.8,3003.4 L1162.3,3005.3 L1165.9,3007.1 L1169.4,3009.0 L1173.0,3010.8 L1176.6,3012.7 L1180.1,3014.5 L1183.7,3016.3 L1187.3,3018.1 L1190.8,3020.0 L1194.4,3021.8 L1198.0,3023.5 L1201.6,3025.3 L1205.2,3027.1 L1208.8,3028.9 L1212.4,3030.6 L1216.0,3032.3 L1219.6,3034.1 L1223.2,3035.8 L1226.8,3037.5 L1230.5,3039.2 L1234.1,3040.9 L1237.7,3042.6 L1241.4,3044.3 L1245.0,3046.0 L1248.6,3047.7 L1252.2,3049.4 L1255.9,3051.1 L1259.5,3052.9 L1263.1,3054.6 L1266.7,3056.4 L1270.3,3058.1 L1273.9,3059.9 L1277.4,3061.7 L1281.0,3063.5 L1284.6,3065.3 L1288.2,3067.1 L1291.8,3068.9 L1295.4,3070.7 L1298.9,3072.4 L1302.5,3074.2 L1306.1,3076.0 L1309.7,3077.8 L1313.3,3079.6 L1316.9,3081.3 L1320.5,3083.0 L1324.1,3084.8 L1327.8,3086.4 L1331.4,3088.1 L1335.1,3089.8 L1338.7,3091.4 L1342.4,3093.0 L1346.1,3094.6 L1349.8,3096.1 L1353.5,3097.7 L1357.2,3099.2 L1360.9,3100.6 L1364.6,3102.1 L1368.4,3103.6 L1372.1,3105.0 L1375.8,3106.4 L1379.6,3107.8 L1383.3,3109.2 L1387.1,3110.6 L1390.9,3112.0 L1394.6,3113.4 L1398.4,3114.7 L1402.2,3116.1 L1405.9,3117.4 L1409.7,3118.7 L1413.5,3120.0 L1417.3,3121.3 L1421.1,3122.6 L1424.9,3123.9 L1428.7,3125.1 L1432.5,3126.4 L1436.3,3127.6 L1440.1,3128.9 L1444.0,3130.1 L1447.8,3131.3 L1451.6,3132.5 L1455.4,3133.6 L1459.3,3134.8 L1463.1,3136.0 L1466.9,3137.1 L1470.8,3138.3 L1474.6,3139.4 L1478.4,3140.6 L1482.3,3141.8 L1486.1,3143.0 L1489.9,3144.2 L1493.7,3145.4 L1497.5,3146.7 L1501.3,3148.1 L1505.0,3149.4 L1508.8,3150.8 L1512.5,3152.2 L1516.3,3153.6 L1520.0,3155.0 L1523.8,3156.4 L1527.6,3157.7 L1531.3,3159.1 L1535.1,3160.4 L1538.9,3161.7 L1542.7,3163.0 L1546.5,3164.2 L1550.3,3165.4 L1554.1,3166.6 L1558.0,3167.7 L1561.8,3168.9 L1565.7,3170.0 L1569.5,3171.1 L1573.4,3172.1 L1577.3,3173.2 L1581.1,3174.2 L1585.0,3175.2 L1588.9,3176.2 L1592.8,3177.2 L1596.7,3178.2 L1600.5,3179.1 L1604.4,3180.1 L1608.3,3181.0 L1612.2,3181.9 L1616.1,3182.8 L1620.0,3183.7 L1624.0,3184.6 L1627.9,3185.4 L1631.8,3186.3 L1635.7,3187.2 L1639.6,3188.0 L1643.5,3188.9 L1647.4,3189.7 L1651.4,3190.5 L1655.3,3191.3 L1659.2,3192.1 L1663.1,3192.9 L1667.1,3193.7 L1671.0,3194.5 L1674.9,3195.3 L1678.9,3196.1 L1682.8,3196.8 L1686.7,3197.6 L1690.7,3198.4 L1694.6,3199.1 L1698.5,3199.9 L1702.5,3200.6 L1706.4,3201.4 L1710.3,3202.1 L1714.3,3202.9 L1718.2,3203.6 L1722.1,3204.4 L1726.1,3205.1 L1730.0,3205.9 L1733.9,3206.6 L1737.9,3207.4 L1741.8,3208.1 L1745.8,3208.9 L1749.7,3209.7 L1753.6,3210.4 L1757.5,3211.2 L1761.5,3212.0 L1765.4,3212.8 L1769.3,3213.6 L1773.2,3214.4 L1777.2,3215.2 L1781.1,3216.1 L1785.0,3216.9 L1788.9,3217.7 L1792.8,3218.5 L1796.8,3219.4 L1800.7,3220.2 L1804.6,3221.0 L1808.5,3221.8 L1812.5,3222.6 L1816.4,3223.4 L1820.3,3224.1 L1824.3,3224.9 L1828.2,3225.7 L1832.1,3226.4 L1836.1,3227.2 L1840.0,3228.0 L1843.9,3228.7 L1847.9,3229.5 L1851.8,3230.3 L1855.7,3231.1 L1859.6,3231.8 L1863.6,3232.6 L1867.5,3233.4 L1871.4,3234.2 L1875.4,3235.0 L1879.3,3235.8 L1883.2,3236.6 L1887.1,3237.4 L1891.1,3238.1 L1895.0,3238.9 L1898.9,3239.6 L1902.9,3240.3 L1906.8,3241.0 L1910.8,3241.7 L1914.7,3242.3 L1918.7,3243.0 L1922.6,3243.6 L1926.6,3244.2 L1930.6,3244.8 L1934.5,3245.4 L1938.5,3246.0 L1942.5,3246.6 L1946.4,3247.2 L1950.4,3247.8 L1954.3,3248.4 L1958.3,3248.9 L1962.3,3249.5 L1966.2,3250.1 L1970.2,3250.7 L1974.2,3251.3 L1978.1,3251.9 L1982.1,3252.5 L1986.0,3253.1 L1990.0,3253.7 L1994.0,3254.3 L1997.9,3254.9 L2001.9,3255.5 L2005.8,3256.2 L2009.8,3256.8 L2013.8,3257.4 L2017.7,3258.0 L2021.7,3258.6 L2025.6,3259.2 L2029.6,3259.8 L2033.6,3260.3 L2037.5,3260.9 L2041.5,3261.4 L2045.5,3261.9 L2049.5,3262.4 L2053.4,3262.8 L2057.4,3263.3 L2061.4,3263.7 L2065.4,3264.1 L2069.4,3264.5 L2073.4,3264.9 L2077.4,3265.2 L2081.3,3265.6 L2085.3,3266.0 L2089.3,3266.4 L2093.3,3266.7 L2097.3,3267.1 L2101.3,3267.5 L2105.3,3267.9 L2109.3,3268.2 L2113.3,3268.6 L2117.2,3269.0 L2121.2,3269.4 L2125.2,3269.8 L2129.2,3270.2 L2133.2,3270.6 L2137.2,3271.0 L2141.2,3271.4 L2145.2,3271.8 L2149.1,3272.2 L2153.1,3272.6 L2157.1,3273.0 L2161.1,3273.4 L2165.1,3273.9 L2169.1,3274.3 L2173.0,3274.7 L2177.0,3275.1 L2181.0,3275.6 L2185.0,3276.0 L2185.0,3276.0" fill="none" stroke="#666699" stroke-width="10" stroke-linejoin="round" clip-path="url(#cb)"/>
<rect x="929.5" y="2073.5" width="1194" height="524" fill="#fff" stroke="#000" stroke-width="5.5"/>
<rect x="1092.0" y="2121.0" width="165.0" height="10.0" fill="#000000"/>
<path d="M1002.0 2106.0h35.0v5.3h-35.0zM1002.0 2111.0h35.0v5.3h-35.0zM1002.0 2116.0h35.0v5.3h-35.0zM1002.0 2121.0h35.0v5.3h-35.0zM1002.0 2126.0h35.0v5.3h-35.0zM1002.0 2131.0h35.0v5.3h-35.0zM1002.0 2136.0h35.0v5.3h-35.0z" fill="#000000"/>
<text x="1272.0" y="2146.0" font-size="70" text-anchor="start" >H-ZSM-5</text>
<rect x="1092.0" y="2206.0" width="165.0" height="10.0" fill="#ee4444"/>
<path d="M1012.0 2191.0h15.0v5.3h-15.0zM1002.0 2196.0h30.0v5.3h-30.0zM1002.0 2201.0h35.0v5.3h-35.0zM997.0 2206.0h40.0v5.3h-40.0zM1002.0 2211.0h35.0v5.3h-35.0zM1002.0 2216.0h30.0v5.3h-30.0zM1007.0 2221.0h25.0v5.3h-25.0z" fill="#ee0000"/>
<text x="1272.0" y="2231.0" font-size="70" text-anchor="start" >Cu-ZSM-5</text>
<rect x="1092.0" y="2291.0" width="165.0" height="10.0" fill="#666699"/>
<path d="M1017.0 2271.0h5.0v5.3h-5.0zM1012.0 2276.0h15.0v5.3h-15.0zM1002.0 2281.0h30.0v5.3h-30.0zM997.0 2286.0h45.0v5.3h-45.0zM997.0 2291.0h40.0v5.3h-40.0zM1002.0 2296.0h35.0v5.3h-35.0zM1002.0 2301.0h35.0v5.3h-35.0zM1002.0 2306.0h30.0v5.3h-30.0z" fill="#666699"/>
<text x="1272.0" y="2316.0" font-size="70" text-anchor="start" >Na-Cu-ZSM-5</text>
<rect x="1092.0" y="2376.0" width="165.0" height="10.0" fill="#336699"/>
<path d="M1017.0 2356.0h5.0v5.3h-5.0zM1012.0 2361.0h15.0v5.3h-15.0zM1012.0 2366.0h15.0v5.3h-15.0zM1007.0 2371.0h25.0v5.3h-25.0zM1002.0 2376.0h30.0v5.3h-30.0zM1002.0 2381.0h35.0v5.3h-35.0zM997.0 2386.0h45.0v5.3h-45.0zM997.0 2391.0h45.0v5.3h-45.0z" fill="#336699"/>
<text x="1272.0" y="2401.0" font-size="70" text-anchor="start" >Cu-ZSM-5 (NaOH)</text>
<rect x="1092.0" y="2461.0" width="165.0" height="10.0" fill="#3cc373"/>
<path d="M997.0 2451.0h45.0v5.3h-45.0zM997.0 2456.0h40.0v5.3h-40.0zM1002.0 2461.0h35.0v5.3h-35.0zM1002.0 2466.0h30.0v5.3h-30.0zM1007.0 2471.0h25.0v5.3h-25.0zM1012.0 2476.0h15.0v5.3h-15.0zM1012.0 2481.0h15.0v5.3h-15.0zM1017.0 2486.0h5.0v5.3h-5.0z" fill="#3cc373"/>
<text x="1272.0" y="2486.0" font-size="70" text-anchor="start" >Cu-ZSM-5 (TPAOH)</text>
<rect x="1092.0" y="2546.0" width="165.0" height="10.0" fill="#cc6600"/>
<path d="M1017.0 2526.0h5.0v5.3h-5.0zM1012.0 2531.0h15.0v5.3h-15.0zM1007.0 2536.0h25.0v5.3h-25.0zM1002.0 2541.0h35.0v5.3h-35.0zM997.0 2546.0h45.0v5.3h-45.0zM997.0 2551.0h45.0v5.3h-45.0zM1002.0 2556.0h35.0v5.3h-35.0zM1007.0 2561.0h25.0v5.3h-25.0zM1012.0 2566.0h15.0v5.3h-15.0zM1017.0 2571.0h5.0v5.3h-5.0z" fill="#cc6600"/>
<text x="1272.0" y="2571.0" font-size="70" text-anchor="start" >Cu-ZSM-5 (NaOH/TPAOH)</text>
</svg>
</body></html>
